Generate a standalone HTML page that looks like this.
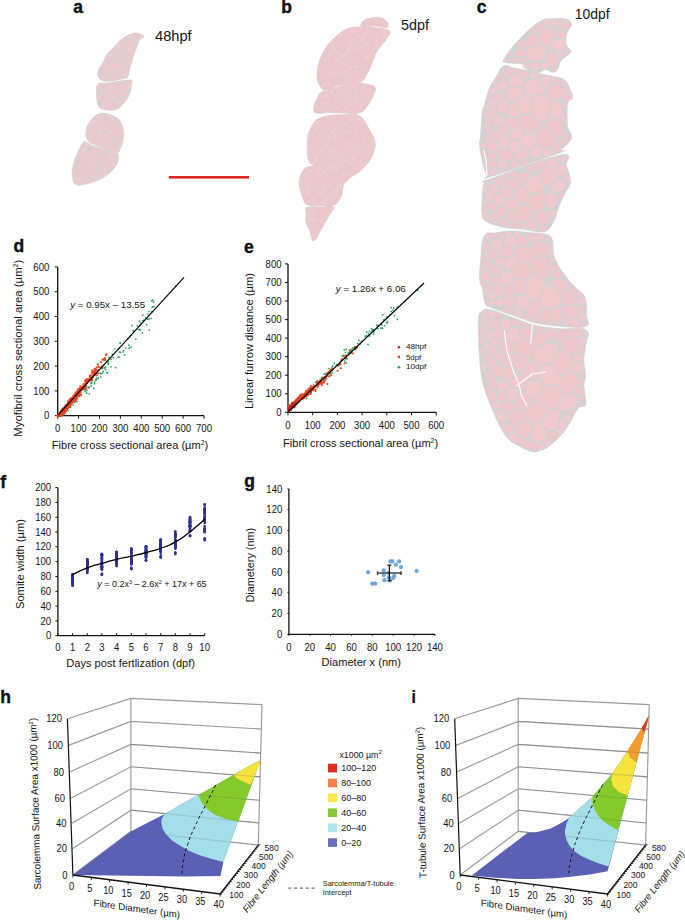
<!DOCTYPE html><html><head><meta charset="utf-8"><style>html,body{margin:0;padding:0;background:#fff;}body{width:685px;height:921px;overflow:hidden;position:relative;font-family:"Liberation Sans", sans-serif;}svg{position:absolute;left:0;top:0;}svg text{font-family:"Liberation Sans", sans-serif;}</style></head><body>
<svg width="685" height="921" viewBox="0 0 685 921">
<path d="M144.0,36.0 C145.2,37.0 142.8,37.0 141.8,38.2 C140.8,39.4 140.3,38.9 138.8,42.0 C137.3,45.1 136.3,48.4 134.5,53.6 C132.7,58.8 131.3,63.3 130.0,68.0 C128.7,72.7 129.1,74.9 127.9,77.0 C126.7,79.1 128.0,77.5 124.0,78.4 C120.0,79.3 112.9,81.3 108.0,81.3 C103.1,81.3 101.4,80.5 99.4,78.4 C97.4,76.3 97.4,73.9 98.0,71.0 C98.6,68.1 100.6,67.0 102.3,63.8 C104.0,60.6 104.5,58.3 106.7,55.0 C108.9,51.7 110.8,50.4 113.5,47.5 C116.2,44.6 117.2,42.9 120.0,40.5 C122.8,38.1 124.3,37.0 127.5,35.5 C130.7,34.0 132.7,32.9 136.0,33.0 C139.3,33.1 142.8,35.0 144.0,36.0Z" fill="#d3d2d2" stroke="#d3d2d2" stroke-width="0.6"/>
<path d="M98.0,84.2 C100.3,82.2 101.6,83.6 108.0,82.8 C114.4,82.0 125.3,79.7 130.0,80.0 C134.7,80.3 131.5,81.6 131.5,84.2 C131.5,86.8 131.5,89.2 130.0,93.0 C128.5,96.8 126.9,99.8 124.0,103.2 C121.1,106.6 119.5,108.5 115.5,109.8 C111.5,111.1 107.3,110.5 103.8,109.5 C100.3,108.5 99.5,108.0 98.0,104.7 C96.5,101.4 96.5,97.1 96.5,93.0 C96.5,88.9 95.7,86.2 98.0,84.2Z" fill="#d3d2d2" stroke="#d3d2d2" stroke-width="0.6"/>
<path d="M98.7,113.9 C102.2,112.6 104.1,112.9 108.0,113.9 C111.9,114.9 115.4,116.2 118.4,119.0 C121.4,121.8 121.8,123.9 122.8,127.7 C123.8,131.5 123.9,133.9 123.5,138.0 C123.1,142.1 122.2,145.1 120.6,148.0 C119.0,150.9 120.6,153.1 115.5,152.5 C110.4,151.9 100.7,147.6 95.0,145.0 C89.3,142.4 88.7,142.6 87.0,139.4 C85.3,136.2 85.6,133.0 86.3,129.2 C87.0,125.4 88.2,123.5 90.7,120.4 C93.2,117.3 95.2,115.2 98.7,113.9Z" fill="#d3d2d2" stroke="#d3d2d2" stroke-width="0.6"/>
<path d="M84.8,141.6 C87.1,142.0 87.5,143.7 93.6,146.0 C99.7,148.3 110.5,150.8 115.5,153.0 C120.5,155.2 118.1,154.8 118.4,157.0 C118.7,159.2 118.8,160.8 117.0,164.0 C115.2,167.2 113.1,169.9 109.6,173.0 C106.1,176.1 104.1,177.4 99.4,179.6 C94.7,181.8 91.0,183.0 86.3,184.0 C81.6,185.0 78.8,186.0 76.0,184.7 C73.2,183.4 73.0,181.2 72.4,177.4 C71.8,173.6 72.0,170.7 73.0,165.7 C74.0,160.7 75.7,157.0 77.5,152.6 C79.3,148.2 80.5,146.0 82.0,143.8 C83.5,141.6 82.5,141.2 84.8,141.6Z" fill="#d3d2d2" stroke="#d3d2d2" stroke-width="0.6"/>
<path d="M99.4,74.5L98.4,74.6L98.2,75.2L98.9,77.1L99.6,77.5L100.3,77.0L100.3,76.6L100.1,75.2ZM102.4,78.7L101.8,79.0L101.8,79.7L103.5,80.5L104.2,80.3L104.3,79.6L103.9,78.8ZM99.7,68.2L99.6,69.0L100.3,69.5L100.7,69.4L102.6,68.5L102.8,67.6L102.1,66.7L101.2,66.4ZM102.9,69.6L98.5,71.4L98.4,72.6L100.5,74.1L103.6,73.4L104.1,73.1L104.5,72.2L104.4,71.0ZM105.8,75.4L106.6,76.0L107.8,76.2L108.7,75.9L109.6,73.4L108.4,71.6L106.2,71.7L105.3,72.4L105.1,73.9ZM102.3,64.6L102.4,65.8L103.7,66.6L106.2,64.9L106.3,64.0L105.2,61.6L104.0,61.5ZM110.3,51.3L110.0,52.2L110.2,52.6L112.3,53.5L114.2,52.2L114.5,51.3L114.3,50.1L112.6,49.3ZM110.1,60.2L109.0,59.7L108.4,59.8L106.9,60.8L106.4,61.7L107.5,64.6L109.0,65.2L109.8,65.3L110.4,64.9L111.6,63.0ZM105.1,78.0L104.9,78.9L105.8,80.7L107.5,80.9L108.3,80.5L108.9,78.2L108.5,77.2L106.0,76.9ZM109.7,75.9L109.9,77.0L112.7,77.4L114.0,75.4L114.1,74.5L113.2,73.9L110.6,74.0ZM111.1,58.4L110.7,59.4L112.2,61.9L113.3,62.4L115.0,61.9L115.4,59.2L115.3,58.5L114.8,58.1L112.9,57.3ZM113.8,77.5L113.7,78.5L114.1,79.4L114.8,80.0L117.6,79.5L118.2,79.1L118.4,78.5L118.3,77.3L117.9,76.9L115.5,75.6L114.6,76.1ZM110.6,66.8L111.3,67.5L115.4,69.0L116.3,68.2L117.4,64.6L115.4,62.9L113.0,63.3L112.3,63.7L110.8,65.6ZM118.9,42.0L118.7,43.0L119.4,43.6L122.2,44.0L122.8,43.2L121.5,40.6L120.4,40.7ZM115.3,51.3L115.8,52.1L117.5,53.0L118.9,52.8L119.6,52.1L119.2,49.5L117.5,48.8L116.6,49.0L115.7,49.7L115.3,50.1ZM120.3,49.3L120.7,52.1L121.8,52.3L123.3,51.8L124.0,51.1L124.2,49.9L122.4,47.9L121.5,48.1ZM117.1,56.3L117.5,57.3L120.6,57.5L121.0,57.2L121.2,56.3L120.4,53.7L119.4,53.5L117.8,54.0ZM121.3,58.7L121.5,61.1L122.1,61.5L124.3,62.0L125.1,61.4L126.1,59.6L126.1,58.6L125.2,58.0L121.9,57.7ZM122.7,46.2L123.0,47.1L124.5,48.7L125.7,49.1L126.8,48.6L127.1,48.1L127.6,45.8L125.9,43.9L124.9,43.7L124.1,43.8L123.1,44.5ZM126.9,58.2L127.6,58.9L129.6,59.2L132.6,57.9L132.9,56.2L130.5,54.3L129.2,54.3L127.5,55.7L126.9,57.3ZM128.1,65.5L127.5,66.0L127.6,68.0L128.0,68.7L128.8,69.0L129.5,68.4L130.1,65.9L129.5,65.3ZM136.2,36.4L136.7,37.5L138.7,37.4L140.0,35.5L140.0,34.4L138.4,33.8L137.3,33.7L136.6,34.4ZM99.4,95.9L97.2,97.0L97.0,97.7L97.3,100.5L97.6,101.2L99.1,101.6L101.4,99.8L101.8,98.5L101.4,96.8L100.5,96.0ZM105.1,83.4L104.3,83.9L104.2,84.4L105.1,86.1L105.8,86.5L107.1,86.2L108.4,84.3L107.9,83.4ZM99.5,103.4L98.5,103.1L98.1,103.7L98.9,105.7L99.6,106.1L100.2,105.8L100.4,105.2ZM100.3,89.2L99.2,89.6L98.9,90.7L99.9,94.4L100.2,94.9L101.4,95.3L103.2,94.0L103.7,93.1L102.3,89.8ZM103.7,94.6L102.2,96.0L102.2,96.7L102.7,98.7L103.2,99.4L104.5,100.2L105.8,100.2L107.0,98.0L106.8,96.7L104.9,94.5ZM101.0,83.5L100.1,84.0L100.0,84.6L100.0,87.9L100.8,88.5L102.5,88.8L104.0,87.4L104.3,86.5L102.4,83.6ZM111.1,82.7L110.4,83.3L110.6,84.2L112.3,85.0L113.3,84.8L114.3,83.5L114.1,82.7L113.7,82.4ZM110.4,90.3L109.8,91.4L110.0,92.0L112.1,94.2L113.1,94.0L114.8,91.1L114.8,90.1L113.3,89.0ZM115.5,101.1L113.1,101.1L112.4,102.1L112.6,105.5L113.6,106.1L115.8,106.1L117.0,104.7L116.6,102.0L116.2,101.4ZM118.5,81.6L117.7,82.2L117.8,82.8L119.4,84.0L121.6,82.5L121.7,82.0L121.1,81.3ZM116.9,107.8L117.6,108.4L118.1,108.2L120.0,106.9L120.2,106.0L119.5,105.5L117.8,105.4L116.6,106.8ZM117.6,96.6L117.3,99.5L117.9,100.1L120.2,99.7L121.0,99.0L121.1,98.0L119.5,96.2L118.3,96.0ZM129.0,80.8L129.4,81.8L131.0,82.6L131.6,82.2L132.0,81.2L131.5,80.6L129.6,80.4ZM108.3,127.9L109.0,128.2L109.7,128.2L111.0,126.6L111.1,125.7L110.5,124.4L107.7,123.7L106.6,125.4ZM110.3,135.5L110.8,136.3L111.7,136.9L113.0,136.9L114.9,135.4L114.6,132.6L113.7,132.1L112.1,132.2L110.5,134.3ZM111.7,130.8L112.6,131.3L113.6,131.3L114.5,130.9L115.2,128.2L114.8,127.1L112.5,126.7L111.5,127.2L110.6,128.8ZM115.8,134.9L116.3,135.7L117.6,136.4L118.6,136.4L119.1,135.6L119.2,132.9L118.3,132.4L116.1,132.5L115.6,133.4ZM114.1,141.3L113.1,141.8L113.1,144.7L113.9,145.3L116.0,145.6L116.9,145.4L117.7,144.1L117.5,142.0L116.6,141.4ZM111.8,125.2L112.7,125.9L115.4,126.0L115.9,124.9L115.4,122.7L113.0,122.2L111.5,124.1ZM76.3,170.5L77.3,171.2L78.5,170.7L79.2,167.5L78.7,166.3L76.3,164.9L75.3,165.1L74.7,166.1ZM76.1,171.9L72.9,172.3L72.5,173.1L72.6,175.0L73.5,175.5L75.5,175.4L76.3,174.9L76.6,172.9ZM78.7,183.6L78.8,184.3L79.9,184.9L83.0,184.1L83.7,181.3L83.4,180.3L82.0,179.7L80.8,180.1L79.0,182.1ZM78.0,159.0L78.1,160.1L79.0,160.6L81.5,160.7L82.2,160.5L82.6,160.0L81.9,156.8L80.3,156.1L79.3,156.3ZM77.6,153.3L77.7,154.1L78.5,154.3L79.0,153.9L79.3,152.9L78.4,152.3ZM78.2,161.5L77.2,163.7L77.7,164.6L79.4,165.8L80.4,166.0L81.8,165.3L82.4,162.2L81.3,161.5L78.9,161.4ZM77.7,172.2L77.4,175.2L77.9,175.7L79.5,176.5L80.6,176.5L82.4,174.0L82.5,172.9L81.7,172.2L78.6,171.6ZM80.7,166.7L80.0,167.5L79.6,170.3L80.4,171.0L82.4,171.3L83.1,170.4L83.3,167.3L82.2,166.4ZM84.1,168.3L83.9,171.1L84.7,171.7L87.0,170.9L87.6,168.4L87.3,167.5L86.4,167.2L84.6,167.5ZM88.5,158.4L84.9,160.4L84.9,161.5L87.3,162.9L88.2,162.5L89.9,159.8L89.4,158.8ZM86.5,152.7L85.9,153.8L86.2,154.4L88.0,156.4L89.2,156.7L91.1,153.9L90.6,152.6L88.3,151.8ZM89.8,167.0L88.7,167.4L88.5,167.9L88.1,171.0L89.8,172.2L91.9,172.0L92.8,171.3L92.8,170.2L91.2,167.3ZM94.0,176.5L92.0,178.5L92.0,179.4L93.3,181.3L94.2,181.4L95.4,180.7L95.8,177.4L95.2,176.4ZM93.3,169.5L94.1,170.1L95.0,170.0L95.7,169.5L97.4,166.6L96.9,165.6L94.2,165.1L93.2,165.5L92.3,166.9ZM93.4,171.7L93.4,172.8L94.5,174.9L95.9,175.8L96.9,175.8L98.4,173.8L98.5,172.7L96.1,170.9L94.3,171.0ZM106.3,150.3L105.6,150.5L105.3,151.2L105.5,152.5L106.1,152.9L107.8,152.3L108.3,151.7L108.1,151.0ZM100.0,164.7L99.3,165.8L99.5,166.4L101.5,168.6L104.6,167.8L105.1,167.4L105.3,166.6L104.6,165.6L101.1,164.5ZM97.1,170.7L99.4,172.0L100.3,171.7L100.8,169.4L99.5,167.6L98.6,167.2L97.8,167.7L96.7,169.8ZM97.2,152.7L98.1,153.4L99.7,152.6L100.1,149.4L99.8,148.5L99.4,148.3L98.3,148.0L97.4,148.1L96.5,149.4L96.4,150.3ZM101.0,173.1L100.0,173.1L99.6,173.4L98.4,175.6L98.8,176.5L101.2,178.1L102.5,177.5L102.7,176.6L101.9,173.7ZM100.0,157.3L100.7,158.0L101.9,158.4L103.0,158.2L104.2,155.7L104.0,154.4L100.7,153.5L99.7,153.7L99.1,154.5ZM104.2,160.2L103.0,160.2L102.6,160.6L101.6,163.2L102.3,164.1L104.9,164.8L105.7,164.1L105.5,161.5ZM107.1,165.0L106.2,165.6L106.1,166.2L106.1,167.3L106.8,168.5L107.5,168.9L109.6,169.2L110.6,168.8L111.3,166.2L110.7,165.1L109.6,164.6ZM104.0,158.1L104.1,159.0L105.9,160.3L108.3,159.4L108.9,158.5L108.8,157.6L108.4,157.2L105.7,155.7L104.7,156.4ZM111.7,168.2L111.9,169.0L112.7,169.2L113.1,168.9L114.3,167.2L114.1,166.5L113.4,166.3L112.3,166.6Z" fill="#efc6ca"/>
<path d="M104.9,59.1L105.0,60.0L105.8,60.4L108.3,58.8L108.4,58.0L107.4,56.4L106.5,56.3L106.1,56.7ZM101.2,77.1L102.1,77.8L104.0,77.8L105.1,76.3L104.6,74.8L103.5,74.2L101.3,75.0L101.0,75.8ZM109.5,70.4L109.5,71.5L110.5,72.9L113.6,73.2L114.3,73.0L114.7,72.4L115.3,70.6L114.5,69.7L111.1,68.5L110.1,69.1ZM115.3,73.1L115.4,74.2L115.8,74.6L118.8,76.2L120.5,75.2L121.1,73.2L120.8,72.1L120.4,71.8L116.9,70.7L116.0,71.5ZM114.9,57.2L115.9,57.0L116.8,54.4L116.3,53.4L115.0,52.7L113.3,53.9L112.9,54.9L113.3,56.4ZM117.4,58.3L116.4,58.8L116.0,61.6L116.5,62.6L117.9,63.2L120.4,61.3L120.5,59.5L119.9,58.5ZM120.5,62.3L119.0,63.7L119.1,64.8L121.7,65.9L122.8,65.7L124.4,64.1L124.1,63.1L121.5,62.1ZM125.1,70.3L124.6,71.1L125.0,72.0L127.5,73.7L128.4,73.3L128.9,71.0L128.8,70.3L128.4,69.8L127.2,69.3ZM123.2,66.4L122.9,67.3L123.2,68.9L123.7,69.7L124.6,69.6L126.6,68.4L126.7,66.1L125.9,65.1L125.0,65.0ZM121.9,56.1L122.9,56.9L125.6,57.1L126.3,56.5L126.6,55.2L124.5,52.9L123.4,52.6L122.2,53.0L121.5,53.8ZM125.8,36.9L122.4,39.2L122.4,40.3L123.4,42.3L123.9,42.8L124.6,42.9L125.7,42.3L127.6,38.8L126.8,37.4ZM128.1,44.9L128.9,45.2L130.6,45.1L131.9,43.3L131.7,41.5L131.2,40.8L129.1,39.5L128.0,40.1L126.5,42.8L126.9,43.8ZM130.3,59.8L130.0,60.7L130.5,61.7L131.1,61.8L131.6,61.3L131.9,60.0L131.3,59.5ZM132.3,54.5L133.3,54.7L133.9,54.0L134.9,51.0L134.6,49.9L133.1,49.6L130.7,51.8L130.4,52.4L130.9,53.6ZM133.0,33.7L132.4,34.2L132.7,35.3L134.6,36.0L135.4,35.8L135.8,34.4L135.5,33.5ZM131.4,40.0L132.5,40.0L134.9,38.7L135.3,38.3L135.2,37.2L132.9,36.3L131.9,36.5L130.2,38.4L130.3,39.0ZM98.7,92.9L97.7,92.2L97.0,92.7L96.9,94.7L97.3,95.5L98.5,95.4L99.1,94.8ZM96.9,86.8L96.9,88.7L97.6,89.1L99.0,88.4L99.1,85.8L98.7,85.0L97.8,85.0L97.5,85.4ZM100.5,101.6L100.0,102.5L101.5,105.0L103.1,105.1L105.3,103.6L105.4,101.9L103.2,100.3L102.5,100.2L101.9,100.4ZM100.4,106.6L100.2,107.2L100.5,107.7L101.8,108.4L102.5,108.3L102.7,107.7L102.3,106.2L101.3,106.0ZM107.1,99.7L107.1,100.8L108.1,101.3L111.1,101.0L112.0,100.2L111.5,98.1L111.3,97.7L110.4,97.4L108.1,97.8ZM103.8,105.6L103.4,106.6L103.9,108.9L105.3,109.5L106.0,109.4L107.4,107.3L107.3,106.1L105.9,104.8L105.0,104.9ZM112.8,106.8L111.9,107.3L111.8,107.8L111.9,109.1L112.4,109.9L113.9,109.8L116.0,109.1L116.2,108.2L115.6,107.2ZM113.6,87.6L114.1,88.4L115.5,89.5L116.3,89.7L117.8,89.5L119.4,87.5L119.1,85.4L118.7,84.6L117.1,83.4L115.9,83.3L113.5,85.9ZM116.6,95.6L118.3,95.1L119.1,93.5L118.2,91.1L117.1,90.5L116.0,90.7L115.6,91.1L114.4,94.0L115.1,95.0ZM119.6,94.5L119.9,95.5L121.8,97.2L123.3,96.6L123.9,94.7L123.9,94.1L123.0,93.5L120.2,93.6ZM125.6,98.7L123.7,97.6L122.5,98.0L121.7,99.4L121.8,100.3L123.5,102.2L124.6,101.9L126.0,99.6ZM128.2,93.6L129.2,93.7L129.6,92.8L129.4,92.0L129.1,91.8L128.3,92.1L127.9,92.9ZM127.2,93.8L125.5,93.5L124.9,94.1L124.4,96.7L126.5,98.2L127.4,97.6L128.4,95.3ZM124.3,80.7L123.5,81.4L123.5,81.9L125.7,83.8L126.6,83.5L128.2,81.8L128.1,81.2L127.6,80.5ZM89.2,134.1L86.7,134.0L86.2,134.9L86.7,137.7L87.5,138.4L89.7,137.4L90.0,135.6ZM86.2,132.1L86.6,132.9L88.4,133.1L88.8,133.0L89.3,132.3L88.2,129.9L87.5,129.4L86.7,129.7ZM87.6,126.2L87.7,127.0L88.4,127.3L90.3,126.1L90.3,125.4L89.6,124.0L89.2,123.9L88.4,124.3ZM92.3,119.2L92.1,120.3L92.5,120.8L95.7,122.2L96.7,121.5L96.6,119.2L94.5,117.9L93.8,117.8L93.2,118.1ZM88.3,139.1L87.9,139.9L88.5,140.9L89.6,142.0L90.5,142.0L90.9,141.2L90.6,138.8L90.0,138.4ZM91.9,142.6L92.5,143.4L93.9,144.1L94.9,144.0L95.2,143.7L95.5,142.6L94.5,139.6L92.9,139.2L91.8,139.7ZM93.8,129.5L96.4,129.9L96.9,129.5L97.3,128.5L95.7,125.9L94.9,125.4L93.1,126.1L92.4,127.0L93.1,128.9ZM90.7,137.0L91.1,138.0L91.7,138.3L94.8,138.6L96.8,136.8L96.8,135.0L96.0,134.3L95.5,134.3L91.6,135.3L91.0,135.7ZM98.0,114.6L95.2,116.5L95.2,117.3L97.0,118.2L99.0,116.6L99.2,115.4L98.8,114.7ZM100.9,113.7L100.1,114.4L100.2,116.2L103.0,118.4L104.2,118.5L104.8,117.4L104.5,114.0L103.6,113.5ZM100.8,139.6L101.9,139.8L103.4,138.5L102.8,134.9L101.9,134.4L98.4,134.5L97.7,135.5L97.8,136.8ZM101.8,122.3L101.7,123.4L102.5,125.1L103.5,125.4L105.5,124.9L106.7,123.3L106.9,122.4L106.3,119.7L104.9,119.2L103.6,119.6ZM108.2,146.2L107.2,146.6L106.6,149.0L107.3,149.8L110.0,150.5L111.5,149.1L111.4,147.0L110.5,146.5ZM107.7,122.0L108.5,122.9L110.7,123.3L112.1,121.6L110.9,119.1L109.8,118.7L107.6,119.5L107.4,120.4ZM111.0,145.8L112.0,145.3L112.0,142.6L111.1,142.1L108.5,142.3L107.8,144.2L108.2,145.2ZM113.4,146.0L112.4,146.4L112.5,148.8L114.7,149.8L115.6,149.6L116.2,148.8L116.1,146.9L115.4,146.3ZM115.5,136.3L113.1,138.1L113.0,138.7L113.7,140.3L117.0,140.6L118.0,140.2L118.3,138.4L117.7,137.3ZM112.8,120.8L113.6,121.4L115.7,121.6L117.3,120.0L117.5,118.9L115.3,117.2L114.1,117.2L112.2,118.6L112.2,119.6ZM116.7,121.9L116.5,122.8L117.1,125.6L118.3,126.1L119.1,126.0L121.1,124.7L121.2,124.2L120.9,123.1L119.8,121.2L118.9,120.4L117.7,120.7ZM117.0,148.4L117.6,149.4L118.5,149.7L119.5,149.5L120.4,147.5L120.4,146.6L118.8,145.6L117.8,145.7L117.1,146.4ZM122.0,137.1L119.6,137.4L119.1,138.1L119.0,139.3L119.3,140.2L121.7,140.7L122.6,140.4L123.0,137.6ZM122.3,131.8L120.6,132.0L120.1,132.8L120.0,135.8L121.0,136.4L122.8,136.1L123.3,135.3L123.1,132.3ZM121.2,125.9L119.7,126.7L119.5,127.6L120.5,130.4L121.5,131.0L122.5,130.9L122.9,129.8L122.1,126.6ZM74.6,168.3L73.9,167.8L73.1,168.1L72.6,170.3L73.2,171.2L74.6,171.1L75.3,170.4ZM73.6,176.3L72.8,176.8L73.0,178.7L73.3,179.4L74.1,179.6L75.1,179.2L75.8,176.9L75.3,176.3ZM74.3,180.4L73.7,181.1L73.7,181.6L74.6,183.2L76.2,184.4L77.4,184.4L77.9,183.6L77.6,182.1L75.4,180.2ZM74.0,163.2L74.3,164.1L74.8,164.3L76.2,163.6L77.3,160.9L76.7,159.9L75.7,159.6L75.2,159.8ZM79.8,153.9L80.1,155.0L82.3,155.7L84.2,154.1L84.6,153.1L82.7,150.9L81.6,150.7L80.7,151.4ZM88.5,178.4L87.4,178.7L87.2,179.3L88.8,182.6L89.7,182.8L91.9,181.9L91.9,180.7L91.0,179.3L90.4,178.8ZM90.6,159.2L92.6,160.0L94.5,159.0L94.7,156.1L94.3,155.2L92.7,154.7L92.0,154.7L91.4,155.1L89.9,157.8ZM88.3,148.0L88.7,150.9L90.1,151.5L90.7,151.4L91.7,150.3L91.8,149.5L90.9,146.7L89.9,146.5ZM96.5,179.1L96.8,179.9L97.7,180.0L99.5,179.0L99.6,178.2L97.9,176.8L97.1,176.7L96.6,177.4ZM96.1,154.8L95.6,155.7L95.5,158.3L95.6,158.9L97.0,159.4L99.0,158.1L99.1,157.2L98.0,154.5L97.4,154.3ZM93.3,161.6L94.0,164.1L94.6,164.4L96.7,164.6L97.7,164.2L97.8,163.1L96.7,160.4L95.1,159.8L93.8,160.4L93.4,160.9ZM98.7,163.1L99.6,163.8L100.6,163.2L101.8,160.4L101.7,159.3L99.9,158.7L97.9,160.0L97.8,160.9ZM100.9,150.0L100.8,152.2L101.5,152.8L103.3,153.3L104.2,153.1L104.6,152.2L104.3,149.9L101.6,149.1ZM116.5,156.4L116.6,157.0L117.1,157.2L117.9,157.0L118.2,155.5L118.0,154.7L117.5,154.5L116.9,154.7Z" fill="#f0c8cc"/>
<path d="M105.0,70.5L106.1,70.9L108.3,70.5L109.8,68.0L109.9,67.1L109.5,66.4L107.2,65.5L104.1,67.4L103.8,67.7L103.6,68.7ZM109.4,79.7L109.6,80.5L110.3,80.8L112.6,80.5L113.3,79.8L112.7,78.5L110.5,78.1L109.8,78.3ZM108.0,53.9L107.9,55.0L109.4,57.9L110.6,57.9L112.2,56.5L112.1,55.0L111.5,54.2L109.0,53.2ZM115.5,46.1L113.6,48.2L114.0,49.0L115.1,49.1L116.5,48.0L116.3,46.3ZM118.1,66.1L117.0,69.1L117.8,70.1L120.9,71.2L121.5,71.2L122.5,70.5L121.9,67.0L119.3,65.9ZM121.8,76.0L121.0,75.9L119.6,77.0L119.2,77.9L119.6,78.7L120.3,78.8L123.0,78.1L123.1,77.1ZM123.9,72.2L122.7,72.1L122.2,72.4L121.8,74.8L125.3,77.5L126.9,77.6L127.8,76.3L127.8,75.2ZM118.4,44.3L117.3,44.8L117.3,47.2L118.0,48.1L119.6,48.5L121.5,46.9L121.9,46.2L121.9,45.4L121.1,44.7ZM130.3,34.7L127.5,36.1L127.6,37.1L128.5,38.0L129.0,38.1L131.2,36.1L131.4,35.2L130.7,34.6ZM125.4,63.4L125.9,64.2L127.1,64.9L129.3,64.4L130.1,63.5L128.8,60.2L127.4,59.8L126.6,60.4L125.5,62.5ZM124.8,51.2L125.1,52.3L127.1,54.2L128.0,54.1L129.1,53.4L129.6,52.7L129.3,51.6L127.1,49.6L125.2,50.1ZM129.4,50.6L130.4,50.8L130.8,50.6L131.8,49.6L132.1,48.8L130.9,46.5L130.0,46.0L128.8,46.2L127.9,48.3L128.1,49.3ZM132.8,48.2L133.7,48.8L134.8,48.9L135.7,48.5L136.7,46.0L136.4,44.8L133.3,44.0L132.2,44.4L131.5,45.6ZM139.9,37.2L140.1,38.2L140.9,38.4L143.1,36.8L143.1,36.0L142.0,35.2L141.3,35.2ZM133.0,40.7L132.5,41.7L133.0,42.9L135.5,43.6L136.3,43.3L136.6,42.4L136.1,39.9L135.2,39.5ZM137.7,38.4L136.9,38.9L136.9,39.4L137.3,41.3L138.1,41.6L138.8,41.2L139.5,39.9L139.6,39.1L139.2,38.5ZM107.6,96.3L108.6,96.8L110.6,96.5L111.5,95.8L111.3,94.7L108.9,92.2L107.9,92.2L106.1,93.5L106.3,94.7ZM104.2,92.0L105.3,92.7L108.2,91.0L108.2,89.9L106.7,87.5L105.3,87.4L103.7,88.9L103.4,90.1ZM107.6,108.7L107.6,109.5L108.2,110.0L110.7,110.0L111.1,109.2L110.9,107.6L110.2,107.2L108.6,107.2ZM106.2,103.2L106.5,104.2L108.2,105.9L110.4,106.4L111.5,105.9L111.7,103.0L111.0,102.0L107.3,102.1L106.4,102.7ZM108.6,89.1L109.6,89.7L112.2,88.4L112.8,87.3L112.5,86.1L110.0,85.0L109.3,85.0L108.8,85.3L107.7,87.0ZM112.1,96.5L112.1,97.3L113.1,99.9L115.2,100.3L116.2,99.8L116.6,97.3L116.3,96.4L113.3,95.3L112.7,95.5ZM119.5,92.0L120.6,92.7L123.7,92.5L124.1,91.9L124.2,91.2L123.4,88.8L120.8,88.2L119.7,88.6L118.8,90.1ZM117.4,102.3L118.1,104.3L118.7,104.6L121.4,104.8L122.4,104.5L122.9,103.3L121.4,101.0L120.2,100.5L117.8,101.2ZM120.0,84.9L120.5,87.1L121.1,87.4L123.8,87.8L125.5,86.3L125.6,85.4L125.2,84.5L122.9,83.0L122.2,83.2ZM124.5,89.2L125.5,92.3L126.1,92.6L127.3,92.1L129.0,89.8L129.0,88.5L126.2,87.2L124.9,88.0ZM129.5,87.6L130.5,87.5L130.9,87.2L131.1,84.3L130.5,83.3L128.8,82.7L126.8,84.4L126.4,85.6L127.1,86.6ZM89.5,130.6L90.4,131.1L92.3,129.5L91.3,127.2L90.3,127.1L88.7,128.3L88.7,129.1ZM90.1,133.2L90.5,134.3L91.5,134.5L96.1,133.2L96.4,132.7L96.4,131.7L95.5,130.8L93.1,130.3L90.5,132.2ZM90.2,121.7L90.1,122.7L91.4,125.4L92.4,125.5L94.9,124.2L94.9,123.1L94.5,122.7L91.2,121.1ZM95.9,124.1L96.1,125.0L98.2,127.8L100.8,127.2L101.6,126.4L101.7,125.4L101.0,123.7L100.2,122.9L97.3,122.3L96.4,122.9ZM96.8,143.3L96.1,144.0L96.3,145.0L99.7,146.5L100.6,145.8L101.4,143.9L101.4,143.1L100.6,142.4ZM95.9,138.8L95.6,139.9L96.3,142.1L97.4,142.3L100.1,141.4L100.3,140.4L98.0,138.2L97.0,138.0ZM97.3,132.5L97.9,133.4L98.5,133.5L102.4,133.6L103.4,133.1L103.7,132.4L101.8,128.7L101.0,128.1L98.6,128.7L98.0,129.3L97.1,131.2ZM97.6,119.1L97.8,121.3L98.4,121.6L100.8,122.1L102.3,120.1L102.3,119.1L100.5,117.5L99.5,117.4ZM111.7,150.2L111.5,150.8L112.0,151.3L114.1,151.8L114.9,151.3L114.4,150.5L112.5,149.9ZM104.1,139.3L101.8,141.3L101.9,142.0L102.3,143.1L105.4,144.7L106.1,144.8L106.7,144.5L107.5,141.8L106.1,139.7ZM103.1,126.2L102.3,126.9L102.3,127.9L103.8,130.6L104.6,131.1L105.1,131.1L107.1,129.3L107.4,128.3L105.6,126.0ZM106.8,114.0L105.9,114.2L105.5,115.1L105.8,118.3L106.8,118.8L108.8,117.8L109.1,115.4L108.7,114.6ZM101.4,147.3L105.1,148.7L105.9,148.0L106.2,146.9L106.0,145.9L103.2,144.5L102.1,144.6L101.3,146.2ZM108.1,129.4L106.1,131.6L106.3,132.6L109.3,133.8L110.2,133.3L111.1,131.7L110.0,129.6L109.2,129.1ZM105.4,133.2L104.4,133.2L104.0,133.7L103.7,134.6L104.5,138.2L106.2,138.7L109.0,136.6L109.4,135.5L108.7,134.5ZM107.7,138.7L107.3,139.6L108.3,141.2L111.5,141.3L112.5,140.5L112.1,138.5L110.7,137.2L110.1,137.0L109.4,137.3ZM109.8,117.2L110.1,117.8L111.2,118.1L112.7,117.2L113.0,116.5L112.5,115.8L110.5,115.1L109.9,115.6ZM115.7,151.4L116.4,152.2L118.0,152.1L118.8,151.7L118.9,151.0L118.5,150.5L116.6,150.0L115.8,150.6ZM119.6,141.2L118.6,141.6L118.5,144.0L119.1,144.9L120.7,145.5L121.6,144.9L122.2,142.2L121.5,141.5ZM115.6,130.2L116.0,131.3L116.6,131.5L118.6,131.6L119.5,131.1L119.6,130.1L118.4,127.1L117.4,126.7L116.4,127.1ZM78.0,176.6L76.9,176.8L76.2,179.5L77.5,180.9L78.6,181.1L80.3,179.4L80.4,178.4L79.9,177.6ZM75.8,158.2L76.8,159.0L77.4,158.5L78.3,156.1L78.2,155.3L77.9,155.1L77.0,155.2L75.9,157.5ZM80.3,150.0L81.7,149.8L82.2,149.3L82.8,147.1L82.0,146.3L81.5,146.2L80.7,146.6L79.7,148.7L79.7,149.6ZM83.1,149.3L83.3,150.4L85.3,152.2L86.0,152.0L87.6,151.0L87.5,148.9L87.2,148.3L86.6,148.0L84.1,147.7L83.4,148.3ZM82.7,174.9L81.1,177.5L81.5,178.6L83.9,179.5L85.7,179.1L86.4,178.0L84.7,174.9L83.7,174.4ZM84.8,162.5L83.8,162.4L83.2,163.2L82.8,165.0L83.2,166.0L84.4,166.6L87.3,166.1L87.7,165.0L87.4,164.1ZM84.3,182.8L84.6,183.6L84.9,183.8L87.4,183.2L87.6,182.2L86.4,180.1L85.6,180.0L84.8,180.4ZM82.1,144.5L82.3,145.5L83.4,145.8L84.9,143.1L84.9,142.4L84.3,141.9L83.4,142.1ZM85.6,172.4L84.9,173.4L85.0,174.0L86.9,176.7L88.1,176.6L89.3,173.9L89.2,172.9L87.4,171.9ZM83.3,158.7L83.9,159.4L84.9,159.4L86.8,158.3L87.4,157.2L85.8,155.2L84.8,154.9L83.0,156.5ZM84.6,145.4L84.6,146.4L84.9,146.8L87.6,147.2L89.1,146.0L89.4,145.1L88.9,144.3L86.6,143.0L85.6,143.6ZM96.0,147.4L92.8,146.3L92.1,146.9L92.7,149.2L93.4,149.5L95.5,149.3L96.1,148.5ZM88.3,163.9L88.9,165.9L90.8,166.3L91.8,165.9L92.7,164.9L92.9,164.0L92.2,161.0L90.8,160.6L90.2,161.0ZM93.3,176.1L93.7,175.2L92.9,173.5L92.2,172.9L91.7,172.9L90.5,173.3L90.2,173.7L89.1,177.0L89.9,177.9L90.9,178.0ZM94.7,154.4L95.9,154.0L96.4,153.2L95.8,151.0L95.4,150.4L94.7,150.2L92.7,150.5L91.5,152.2L91.8,153.2L92.5,153.8ZM103.3,175.8L104.3,176.5L106.3,175.2L106.6,174.5L105.9,173.3L104.9,172.9L103.2,173.6L103.0,174.4ZM101.5,170.2L101.3,172.1L102.4,172.8L105.0,172.1L105.6,171.5L106.2,169.3L105.5,168.5L102.2,169.4ZM106.5,163.2L107.1,164.0L109.6,163.7L110.4,163.1L110.8,161.5L109.7,160.3L108.6,160.1L106.5,161.2ZM107.1,153.4L106.4,154.3L106.5,154.9L108.7,156.4L109.9,156.3L111.2,155.2L111.3,153.3L110.8,152.4L109.8,152.3ZM106.9,173.3L107.9,173.7L109.3,172.7L110.7,171.2L110.4,170.2L107.9,169.8L107.1,170.1L106.3,172.2ZM113.4,152.6L112.5,152.7L112.2,153.1L112.2,155.2L114.2,156.7L115.1,156.8L115.7,156.1L116.1,154.1L115.5,153.5ZM109.7,158.8L110.0,159.6L111.1,160.5L112.1,160.8L113.1,160.4L114.1,158.1L113.6,157.3L111.7,156.2L109.8,157.5ZM111.7,165.1L112.8,165.6L115.4,165.2L115.9,164.9L116.2,163.8L113.8,161.6L113.4,161.4L112.3,161.5L111.5,162.2L111.1,163.5ZM116.3,157.8L115.3,157.9L115.0,158.3L114.2,160.6L115.9,162.3L116.8,162.5L117.6,161.8L118.2,159.2L117.5,158.3Z" fill="#f1cace"/>
<path d="M360.7,24.5 C361.0,23.0 362.3,21.1 365.5,19.6 C368.7,18.1 372.9,17.2 376.7,17.2 C380.5,17.2 382.4,18.1 384.7,19.6 C387.0,21.1 387.7,22.9 388.0,24.5 C388.3,26.1 389.0,27.4 386.4,27.7 C383.8,28.0 379.5,26.2 375.0,26.0 C370.5,25.8 366.8,27.2 363.9,26.9 C361.0,26.6 360.4,26.0 360.7,24.5Z" fill="#d8cacc" stroke="#d8cacc" stroke-width="0.6"/>
<path d="M351.0,27.7 C354.8,26.9 356.9,27.0 362.0,27.0 C367.1,27.0 371.2,26.9 376.7,27.7 C382.2,28.5 387.7,28.7 389.6,30.9 C391.5,33.1 389.0,34.7 386.4,38.9 C383.8,43.1 379.6,47.0 376.7,51.8 C373.8,56.6 373.9,58.5 372.0,63.0 C370.1,67.5 369.3,70.3 367.0,74.2 C364.7,78.1 364.2,80.4 360.7,82.3 C357.2,84.2 353.9,83.3 349.4,83.9 C344.9,84.5 342.5,84.2 338.0,85.5 C333.5,86.8 330.5,90.0 327.0,90.3 C323.5,90.6 322.4,89.6 320.5,87.0 C318.6,84.4 317.6,82.2 317.3,77.4 C317.0,72.6 317.3,68.8 318.9,63.0 C320.5,57.2 322.4,53.3 325.3,48.5 C328.2,43.7 329.9,42.4 333.4,38.9 C336.9,35.4 339.5,33.1 343.0,30.9 C346.5,28.7 347.2,28.5 351.0,27.7Z" fill="#d8cacc" stroke="#d8cacc" stroke-width="0.6"/>
<path d="M322.0,91.9 C326.1,89.6 331.6,88.9 338.0,87.0 C344.4,85.1 348.7,82.9 354.2,82.3 C359.7,81.7 361.3,83.0 365.5,83.9 C369.7,84.8 373.4,84.8 375.0,87.0 C376.6,89.2 375.1,91.2 373.5,95.1 C371.9,99.0 369.9,102.8 367.0,106.4 C364.1,110.0 363.8,111.7 359.0,113.0 C354.2,114.3 348.8,113.1 343.0,113.0 C337.2,112.9 335.5,112.5 330.0,112.5 C324.5,112.5 318.9,114.0 315.7,112.8 C312.5,111.6 313.7,109.3 314.0,106.4 C314.3,103.5 315.7,101.2 317.3,98.3 C318.9,95.4 317.9,94.2 322.0,91.9Z" fill="#d8cacc" stroke="#d8cacc" stroke-width="0.6"/>
<path d="M317.0,119.6 C320.2,117.5 322.8,116.6 328.2,115.6 C333.6,114.6 338.4,115.0 344.2,114.8 C350.0,114.6 353.1,113.8 357.0,114.8 C360.9,115.8 361.2,117.0 363.5,119.6 C365.8,122.2 366.1,123.5 368.3,127.7 C370.5,131.9 373.4,136.3 374.7,140.5 C376.0,144.7 375.6,144.6 374.7,148.5 C373.8,152.4 372.9,155.3 370.0,159.8 C367.1,164.3 364.2,167.5 360.3,171.0 C356.4,174.5 354.2,174.8 350.7,177.4 C347.2,180.0 344.5,184.5 342.6,183.9 C340.7,183.3 342.9,177.7 341.0,174.2 C339.1,170.7 337.8,168.0 333.0,166.2 C328.2,164.4 321.8,166.4 317.0,165.4 C312.2,164.4 310.9,164.5 309.0,161.4 C307.1,158.3 307.5,155.2 307.3,150.1 C307.1,145.0 307.1,140.5 308.0,135.7 C308.9,130.9 310.2,129.2 312.0,126.0 C313.8,122.8 313.8,121.7 317.0,119.6Z" fill="#d8cacc" stroke="#d8cacc" stroke-width="0.6"/>
<path d="M308.0,167.0 C310.9,166.2 313.2,165.2 318.5,165.4 C323.8,165.6 329.8,165.4 334.6,167.8 C339.4,170.2 341.0,172.9 342.6,177.4 C344.2,181.9 343.2,185.8 342.6,190.3 C342.0,194.8 341.3,197.0 339.4,200.0 C337.5,203.0 336.9,204.3 333.0,205.4 C329.1,206.5 325.1,205.5 320.0,205.4 C314.9,205.3 310.8,206.4 307.3,204.7 C303.8,203.0 304.1,200.9 302.5,196.7 C300.9,192.5 299.6,188.4 299.3,183.9 C299.0,179.4 300.0,177.1 300.9,174.2 C301.8,171.3 302.6,170.8 304.0,169.4 C305.4,168.0 305.1,167.8 308.0,167.0Z" fill="#d8cacc" stroke="#d8cacc" stroke-width="0.6"/>
<path d="M306.9,207.5 C309.8,206.2 315.5,207.0 320.9,206.9 C326.3,206.8 331.8,205.6 333.7,206.9 C335.6,208.2 332.1,210.0 330.2,213.4 C328.3,216.8 326.5,220.2 324.4,223.9 C322.3,227.6 321.3,229.0 319.7,232.0 C318.1,235.0 317.6,237.2 316.2,239.0 C314.8,240.8 313.6,241.3 312.7,240.8 C311.8,240.3 312.2,238.9 311.5,236.7 C310.8,234.5 310.4,232.7 309.2,229.7 C308.0,226.7 306.3,224.8 305.7,221.5 C305.1,218.2 306.1,216.2 306.3,213.4 C306.5,210.6 304.0,208.8 306.9,207.5Z" fill="#d8cacc" stroke="#d8cacc" stroke-width="0.6"/>
<path d="M363.9,21.8L363.0,21.5L362.6,21.8L361.4,23.4L360.9,25.1L361.6,26.1L363.4,26.6L364.2,26.3L364.8,23.0ZM374.2,22.4L370.5,22.6L370.1,23.4L370.2,25.1L370.8,25.9L374.7,25.8L375.5,25.3L375.5,24.4ZM370.5,21.2L371.4,21.9L374.2,21.6L374.7,20.9L374.8,20.2L374.0,17.9L373.2,17.7L370.3,18.4L370.0,19.2ZM383.8,26.5L384.0,27.2L384.4,27.4L386.3,27.5L387.8,27.0L388.1,26.1L387.6,25.1L384.7,25.2L384.0,25.7ZM381.2,23.1L378.6,25.2L378.8,26.1L382.3,27.0L383.1,26.8L383.6,25.4L383.5,24.6L382.1,23.0ZM318.7,76.2L317.8,76.2L317.5,76.8L317.8,79.7L318.5,80.4L320.0,79.6L320.3,78.1L320.1,77.5ZM321.3,70.9L321.9,71.5L324.5,72.4L326.5,70.5L326.4,69.6L323.7,65.5L322.8,65.5L322.4,65.8L320.8,68.3L320.7,69.2ZM319.6,68.4L320.5,68.0L322.2,64.9L321.2,63.5L320.0,63.0L319.6,63.0L319.0,63.7L318.1,67.2L318.4,68.1ZM318.7,80.9L318.2,82.0L318.9,84.0L319.9,85.5L320.8,85.5L322.5,82.9L322.5,82.0L320.3,80.2ZM324.4,57.7L323.5,58.3L321.6,62.4L321.8,63.5L323.2,64.8L324.1,64.7L327.5,62.4L327.0,58.7L326.6,58.1ZM322.1,54.9L322.0,55.5L322.3,56.1L323.4,57.0L325.9,57.3L326.5,56.6L327.6,52.3L327.5,51.5L325.5,50.4L324.6,50.4ZM320.6,79.2L321.0,80.0L322.9,81.6L323.7,81.8L325.1,81.6L325.9,80.7L326.0,77.2L325.4,76.4L324.2,76.2L321.3,77.6L320.9,77.9ZM326.4,81.1L326.7,81.9L327.3,82.3L331.7,81.8L332.5,81.2L333.0,79.6L330.5,76.8L327.3,77.2L326.5,78.1ZM324.2,88.4L323.8,89.3L324.0,89.7L324.9,90.1L328.2,89.9L329.3,89.3L329.5,88.9L329.2,88.1L327.1,86.6ZM328.0,63.0L324.7,65.0L324.7,66.0L326.9,69.6L327.9,70.0L328.6,69.8L330.3,64.9L330.1,64.0ZM327.8,51.0L329.7,50.9L330.2,50.7L330.5,49.9L330.3,45.6L329.7,44.8L328.9,44.4L328.1,44.8L327.5,45.6L325.3,49.2L325.9,50.1ZM331.5,71.3L334.9,70.9L335.6,70.3L335.0,65.2L334.6,64.6L333.4,63.8L331.1,64.3L329.4,69.3L329.5,70.1ZM333.7,43.3L334.0,44.5L336.8,47.2L337.2,47.4L338.2,47.2L339.3,44.1L339.0,43.0L336.6,41.0L335.9,40.8L334.9,41.0ZM332.0,56.7L332.2,57.6L333.5,59.1L334.3,59.4L337.1,57.8L337.5,57.0L337.2,56.2L333.9,53.5L333.0,53.7ZM334.0,79.5L333.5,80.1L332.7,81.9L333.2,83.2L333.7,83.7L337.2,85.3L339.4,84.7L339.6,83.7L338.0,80.3L335.0,79.4ZM339.3,42.7L340.3,42.8L341.6,42.0L341.7,38.6L341.2,37.8L338.4,37.8L337.1,39.7L337.0,40.6L337.3,41.0ZM339.6,82.6L340.5,83.2L341.0,83.0L344.1,81.0L344.2,80.1L343.0,76.9L342.5,76.7L341.6,77.0L339.0,79.6L338.8,80.7ZM335.3,77.9L335.5,78.9L338.1,79.6L340.8,77.1L341.1,76.2L340.6,75.5L337.4,74.2L336.5,74.8ZM339.6,48.0L338.6,48.5L338.6,49.6L341.1,53.3L342.0,53.3L345.0,51.5L345.3,49.7L344.9,48.7ZM340.0,43.6L339.0,46.9L339.9,47.6L345.1,48.1L346.0,47.8L346.3,47.3L345.7,43.9L342.4,42.6L341.7,42.7ZM342.2,41.4L342.9,42.3L345.9,43.1L347.5,41.4L347.7,40.4L345.8,35.7L344.3,35.5L342.1,37.6ZM358.7,27.2L354.4,27.5L354.0,28.4L355.5,31.4L356.4,31.9L358.1,31.7L359.6,28.6L359.5,27.7ZM347.2,56.5L347.4,57.3L348.8,58.7L350.3,58.9L351.2,58.3L351.9,55.7L350.6,54.0L348.2,54.2L347.5,55.0ZM348.0,40.1L349.0,40.8L352.6,40.7L353.5,40.3L354.1,38.8L353.1,35.5L348.6,34.2L347.0,35.0L346.6,36.1ZM351.1,53.1L351.3,54.0L352.5,55.2L355.1,55.0L355.9,54.2L356.2,51.9L355.5,51.3L352.4,50.7L351.8,51.3ZM352.4,60.0L353.3,60.2L355.7,59.4L356.5,56.8L356.2,55.8L355.3,55.4L352.6,55.9L351.6,58.5L351.6,59.0ZM353.8,40.7L353.6,41.5L354.3,44.3L358.1,46.4L359.3,46.2L361.1,44.1L359.3,39.7L355.1,39.6L354.6,39.7ZM353.2,60.9L353.0,63.9L353.8,64.4L357.5,64.6L358.0,63.8L358.2,62.1L356.4,60.3L355.4,60.1ZM356.7,55.7L357.4,56.1L361.0,56.4L361.8,56.0L362.0,55.1L361.2,51.8L360.8,51.2L358.8,50.1L357.2,51.2L356.8,51.8L356.3,54.6ZM353.9,34.9L353.8,35.7L354.4,38.4L355.4,39.1L359.4,38.9L361.7,35.9L361.2,34.8L357.9,32.3L355.9,32.5ZM358.4,64.5L358.5,65.2L359.3,66.1L363.2,65.2L363.8,64.6L364.8,61.7L363.2,60.1L362.7,59.8L362.0,60.0L358.8,62.1ZM360.8,33.8L361.8,34.0L362.2,33.6L364.6,30.2L364.6,29.2L363.5,27.4L360.8,27.4L358.9,31.4L358.8,32.0L359.2,32.5ZM359.7,69.3L363.3,71.1L364.2,70.5L365.3,68.0L363.6,65.7L360.0,66.6L359.3,67.4L359.3,68.9ZM362.5,76.5L364.3,77.6L365.1,77.2L366.7,73.9L366.2,73.2L364.3,72.5L363.6,72.9L362.2,75.8ZM365.9,68.3L364.4,71.4L365.0,72.1L366.6,72.8L367.4,72.7L369.2,69.4L369.1,68.5L368.3,68.1ZM364.2,64.7L364.3,65.7L365.9,67.6L369.2,67.6L369.8,67.4L370.4,66.2L370.3,65.2L367.4,61.8L365.5,62.0ZM367.3,37.1L366.9,38.1L367.5,39.5L370.9,42.0L371.9,41.5L374.0,37.7L373.2,36.2L369.7,35.6L369.0,35.8ZM370.5,47.8L371.6,48.1L373.6,47.1L374.3,45.7L374.1,44.7L371.6,42.6L370.6,43.0L368.9,45.6L369.2,46.5ZM369.3,34.4L370.1,35.2L373.1,35.4L374.5,33.0L374.4,32.0L371.7,28.9L370.7,29.0L368.7,30.8ZM373.4,27.5L372.6,27.9L372.4,28.7L374.7,31.7L375.8,31.9L377.5,31.1L377.6,28.8L377.2,28.1ZM371.6,48.6L371.0,49.3L370.7,50.7L371.1,51.6L375.1,52.7L375.7,52.7L376.2,52.2L376.8,50.9L374.6,48.0L373.8,47.6ZM316.5,107.4L314.1,108.3L313.8,109.5L313.9,110.8L314.3,111.7L315.7,112.5L317.0,112.9L317.9,113.0L318.7,112.6L318.9,111.7L317.5,107.6ZM314.2,106.4L314.5,107.1L314.9,107.3L317.1,106.8L318.4,105.0L318.3,104.1L316.1,103.0L315.2,103.1ZM318.1,106.5L318.0,107.3L319.2,111.1L319.8,111.8L320.7,111.7L324.1,109.2L324.3,108.2L323.7,107.2L319.9,105.2L318.9,105.3ZM317.5,98.5L315.8,101.8L316.3,102.6L318.4,103.4L319.2,103.0L320.4,100.4L319.0,98.4L318.2,98.0ZM321.9,111.4L321.5,112.1L322.0,112.8L322.4,112.8L325.3,112.5L325.9,112.0L325.8,111.3L324.5,110.0L323.8,110.1ZM324.7,108.9L324.9,109.7L327.4,112.3L329.5,112.1L330.7,109.9L329.3,107.1L328.5,106.6L326.6,106.4L325.9,106.6L324.9,107.5ZM327.8,98.9L327.7,100.0L328.2,100.4L331.2,101.7L332.0,101.3L333.4,98.9L331.6,96.0L330.8,95.6L330.0,96.0ZM329.9,106.0L329.8,107.1L331.1,109.3L331.9,109.5L334.0,108.7L334.5,106.0L334.0,105.0L332.6,104.2L331.7,104.2ZM334.7,108.4L335.1,109.3L337.4,110.9L338.3,110.7L339.6,109.3L339.9,108.3L338.5,104.6L337.4,104.4L335.1,105.4ZM339.7,103.4L339.1,104.2L339.1,104.7L340.3,108.1L341.2,108.8L343.0,108.7L344.6,105.2L344.5,104.3L341.8,102.7ZM360.1,82.7L355.3,82.6L355.0,83.4L356.9,85.8L357.7,85.8L360.4,84.4L360.9,83.7L360.5,82.9ZM353.2,111.9L353.0,112.8L353.9,113.4L358.2,112.9L358.9,112.3L358.7,111.4L358.3,111.2L355.2,110.4L354.3,110.7ZM355.3,104.8L354.6,105.4L354.5,105.9L355.0,109.7L359.1,110.9L360.1,110.6L360.6,108.5L357.8,104.9L356.8,104.5ZM360.6,110.7L361.0,111.6L361.5,111.7L362.7,111.1L365.1,108.5L365.2,107.7L364.1,106.9L361.4,108.3ZM364.7,97.9L364.2,102.3L365.2,102.8L369.0,102.5L369.8,102.0L370.0,101.5L368.7,98.2L365.8,97.2ZM365.3,103.3L364.7,103.6L364.4,105.9L364.7,106.6L365.6,107.2L366.4,106.8L368.4,103.9L368.0,103.2ZM367.8,86.4L368.4,87.0L371.0,87.0L371.5,86.7L371.9,85.9L371.4,85.2L368.6,84.7L367.9,85.0ZM368.6,87.5L367.7,88.1L367.7,88.6L368.2,91.4L370.8,92.2L372.4,90.6L372.5,89.5L371.2,87.6ZM371.9,86.8L371.9,87.6L373.3,89.8L374.7,89.9L375.3,89.6L375.3,88.0L374.1,86.4L372.9,85.8ZM310.6,156.2L308.1,158.1L308.1,158.9L309.4,161.4L310.3,161.5L312.5,160.3L312.7,159.5L312.0,156.8L311.5,156.1ZM310.5,146.3L310.6,147.4L312.7,150.0L316.0,149.9L316.6,149.6L317.7,148.3L317.5,147.4L314.1,144.0L311.4,144.7ZM311.1,137.1L311.7,137.7L314.0,138.5L315.0,138.3L316.1,135.1L315.8,133.7L315.2,133.2L313.4,132.7L310.8,134.3L310.5,134.9L310.5,135.5ZM316.4,162.0L315.7,164.4L316.4,165.1L318.8,165.4L320.5,165.3L321.0,164.6L320.7,163.3L318.4,161.2ZM320.2,157.5L319.7,158.1L319.0,160.6L321.0,162.9L321.9,163.1L325.4,162.4L326.1,161.9L326.4,159.0L325.8,158.0L322.1,156.7ZM321.6,143.7L322.4,144.5L322.9,144.4L326.6,142.6L326.8,140.8L326.6,140.1L325.2,138.6L324.6,138.3L322.6,138.2L321.0,140.0L320.8,140.9ZM322.5,130.2L322.8,131.4L323.3,131.6L327.2,132.3L328.2,131.9L328.4,131.3L326.0,126.5L325.1,125.9L324.2,126.5ZM321.4,164.5L321.8,165.3L322.9,165.4L326.6,165.2L327.3,164.8L327.3,164.3L326.6,163.1L325.8,162.8L322.1,163.5L321.5,164.0ZM322.4,137.2L323.2,137.7L324.4,137.8L325.3,137.4L327.4,134.2L327.4,133.2L327.1,132.8L323.4,132.1L322.6,132.4L321.6,134.8L321.7,135.6ZM329.7,145.4L330.8,145.7L331.7,145.1L333.7,140.2L333.6,139.4L333.1,138.9L332.2,138.8L327.5,140.6L327.3,142.7ZM324.3,124.9L325.8,124.9L327.8,123.5L328.2,120.3L327.6,119.3L324.0,117.8L323.2,118.5L321.7,122.8L322.1,123.6ZM328.4,122.7L329.1,123.7L332.2,124.7L335.5,122.2L335.9,120.6L335.0,119.6L330.0,118.7L328.7,119.6ZM337.5,147.0L337.5,148.3L339.7,151.4L340.7,151.8L341.6,151.4L344.0,147.9L342.5,145.6L341.7,145.2L339.3,145.2ZM336.2,120.0L337.1,120.7L342.9,120.7L343.3,119.7L342.3,115.4L341.5,115.1L337.5,115.3L336.1,119.2ZM339.0,126.8L337.8,130.6L338.7,131.7L339.4,131.9L341.2,131.9L344.3,129.3L344.7,128.4L342.8,126.2L341.8,125.9ZM343.8,119.7L344.6,120.4L346.4,120.6L347.2,120.3L348.7,116.2L348.5,115.2L347.7,114.8L343.4,115.2L343.0,116.2ZM339.2,138.1L343.0,138.5L343.4,138.0L344.1,136.6L344.0,135.6L341.4,132.4L339.5,132.5L338.9,133.2L338.4,137.5ZM339.9,171.0L340.0,171.9L340.5,172.8L341.6,173.3L345.6,172.7L346.4,172.1L346.5,171.6L344.8,168.7L343.9,168.3L341.1,168.6ZM344.2,140.3L344.9,140.8L349.3,141.2L349.9,140.5L350.7,136.9L350.5,136.1L348.3,135.2L344.8,136.3L343.6,139.0ZM345.2,167.4L345.2,168.5L347.5,171.9L349.9,171.4L350.2,170.5L349.5,166.3L347.0,165.4L346.3,165.8ZM348.7,134.3L350.2,135.3L350.7,135.4L351.5,134.9L353.1,131.3L351.8,129.3L348.3,129.2L347.5,129.6L347.3,130.5ZM347.1,127.3L347.1,128.3L347.5,128.6L351.1,128.8L351.7,128.6L352.1,128.0L352.5,125.9L350.1,123.8L349.0,123.7ZM350.6,170.1L351.1,170.9L351.6,171.0L355.2,169.5L355.8,168.7L355.9,167.1L352.9,165.0L351.8,165.1L350.3,166.3ZM350.5,121.8L350.1,122.6L350.2,123.1L352.6,125.2L353.5,125.4L354.8,124.9L355.5,124.3L355.9,122.6L354.2,120.1L353.2,120.2ZM353.6,160.8L352.8,161.7L352.7,164.2L355.7,166.3L356.9,166.2L357.9,165.2L357.9,164.6L356.6,160.6L355.7,160.3ZM352.1,134.7L352.2,135.8L352.7,136.1L357.2,137.3L358.1,137.0L359.4,135.6L358.1,131.7L357.5,131.1L353.7,131.6ZM356.0,153.6L356.0,154.8L357.9,157.4L358.9,157.8L359.4,157.6L361.0,155.8L360.7,150.7L359.7,150.1L358.6,150.5ZM358.6,127.8L359.8,128.0L361.6,127.2L362.1,126.4L360.8,122.6L360.1,122.0L356.5,122.9L355.9,124.3L356.2,125.3ZM362.7,162.3L359.0,158.5L358.0,158.8L357.4,159.5L357.2,160.4L358.3,164.5L358.6,165.0L360.3,165.2L361.1,164.9L362.5,163.2ZM359.9,158.4L363.5,162.1L364.5,162.0L365.8,160.0L365.8,159.2L364.8,156.9L361.5,156.3L360.2,157.4ZM366.2,158.7L367.1,159.4L370.0,159.1L371.6,156.7L371.6,155.7L370.8,155.2L366.9,154.9L365.5,156.6ZM363.5,126.2L363.2,127.1L365.3,129.1L366.1,129.3L367.9,128.7L368.0,127.7L366.3,124.6L365.2,124.6ZM371.9,151.9L372.8,152.3L373.6,151.6L374.7,147.6L374.7,147.2L374.1,146.5L373.2,146.6L370.3,148.7L370.4,149.6ZM302.1,191.5L301.4,191.8L301.3,192.5L302.1,195.0L303.0,195.5L304.8,194.0L304.7,192.4L304.0,191.7ZM300.9,174.9L301.2,176.0L302.3,176.9L303.6,176.9L306.4,174.3L305.8,172.2L303.9,170.9L303.0,170.9L301.8,172.5ZM304.3,169.4L304.2,170.5L305.8,171.3L309.4,168.5L309.7,167.7L309.1,167.0L307.1,167.5L305.6,168.1ZM304.9,200.4L304.3,201.0L304.8,202.3L306.2,203.8L307.0,203.9L307.3,203.0L306.3,200.7L306.0,200.5ZM303.2,196.1L302.9,197.1L304.0,199.8L306.0,199.8L307.5,197.8L307.6,196.9L307.4,196.5L305.3,194.8L304.5,195.0ZM308.4,204.4L309.2,205.0L309.7,204.9L311.7,202.4L310.2,197.9L309.8,197.4L309.2,197.2L308.1,197.7L306.6,200.1ZM315.6,187.1L312.3,186.3L311.6,187.1L311.0,190.2L311.9,192.0L313.0,192.4L315.9,191.5L316.3,188.1L316.2,187.6ZM315.8,197.3L317.0,197.1L318.3,195.4L318.2,193.8L317.8,193.2L316.2,192.1L312.5,193.2L312.0,194.8L312.2,195.7ZM322.2,168.0L322.8,168.5L324.9,168.6L325.9,167.0L325.9,166.3L325.3,165.9L322.2,165.8L321.8,166.3ZM316.9,198.0L317.2,201.1L317.9,201.6L320.3,201.6L323.1,198.8L323.4,197.8L322.7,197.1L318.8,196.0ZM318.0,185.7L318.2,186.6L318.6,186.9L321.0,187.6L323.6,185.7L324.0,184.8L321.8,182.2L319.6,182.3L318.8,183.0ZM323.5,177.1L324.1,177.6L327.0,178.2L327.9,177.9L329.5,176.3L329.1,172.7L327.4,172.1L326.5,172.3L323.1,175.6ZM330.6,204.7L331.1,205.4L333.0,205.2L335.0,204.3L335.1,203.5L334.2,202.1L331.3,202.3L330.7,202.8ZM329.1,188.1L328.5,189.0L329.1,189.9L333.8,191.6L336.8,188.7L335.7,186.0L334.9,185.5ZM333.8,181.7L334.8,184.0L335.2,184.4L336.3,184.3L339.7,181.7L339.3,178.5L336.8,177.3L335.9,177.5L334.4,178.8ZM330.0,175.7L330.6,176.5L334.2,177.9L335.6,177.1L336.0,176.2L335.8,174.1L332.4,171.1L331.6,171.2L329.9,172.6ZM335.3,203.0L336.2,203.5L337.3,202.6L339.0,200.1L339.2,199.7L338.8,198.9L337.1,198.1L336.3,198.5L334.8,201.7ZM336.8,173.7L336.4,174.6L336.5,176.1L337.1,177.0L339.6,177.9L341.7,176.7L341.7,175.8L341.2,174.5L339.7,172.3L338.7,172.4ZM340.4,178.1L340.0,178.9L340.4,181.6L342.0,182.6L342.8,182.6L343.2,181.9L342.6,178.0L341.8,177.4ZM312.9,237.9L312.4,238.1L312.1,238.6L312.7,240.5L313.9,240.7L315.3,239.6L315.4,238.7ZM313.8,223.5L313.6,224.7L314.4,226.3L315.3,226.8L317.4,226.8L319.4,224.4L319.2,223.6L317.2,221.3L316.2,221.5ZM313.9,216.0L314.4,216.6L316.9,217.9L318.5,216.9L319.3,212.6L319.1,211.8L318.3,211.0L317.6,210.7L315.7,210.6L314.8,211.2L313.6,213.8ZM318.2,226.8L318.0,227.7L318.8,230.0L319.1,230.4L320.1,230.5L322.1,227.4L322.1,226.6L320.3,225.0L319.4,225.3ZM319.4,211.5L320.2,211.8L323.8,211.3L324.3,209.7L322.7,207.2L320.7,207.1L319.8,207.7L318.6,210.4ZM323.0,217.0L322.8,218.2L324.2,220.5L324.9,221.0L325.6,221.0L328.3,216.1L327.6,215.2L325.6,214.6ZM324.7,210.4L324.5,212.0L325.4,213.7L326.0,214.2L328.2,214.9L328.6,214.9L329.4,214.4L330.7,211.9L329.3,209.1L328.5,208.6L325.3,209.7Z" fill="#efc6ca"/>
<path d="M364.7,20.3L364.2,21.2L365.3,22.6L369.2,22.6L370.0,22.0L369.6,19.4L368.9,18.7ZM321.0,86.3L321.1,87.4L321.9,88.3L322.2,88.6L323.2,88.5L326.8,86.0L326.9,82.7L326.0,82.0L323.4,82.4ZM326.9,56.5L327.2,57.5L327.6,57.8L331.3,56.9L332.7,52.9L332.5,52.0L330.5,51.2L328.4,51.8ZM332.4,51.4L333.4,51.3L336.7,48.5L336.5,47.5L333.1,44.4L331.1,45.0L330.7,45.8L331.0,50.2L331.2,50.7ZM329.6,43.0L329.6,44.1L330.5,44.6L333.0,43.8L334.1,41.3L334.0,40.4L333.3,39.9L332.5,40.1ZM331.0,75.9L331.2,76.8L333.0,78.7L333.9,79.0L334.4,78.8L336.4,73.9L336.3,73.1L335.8,71.9L335.3,71.5L334.7,71.4L332.1,72.1ZM333.8,62.8L334.2,63.7L335.2,64.3L339.9,63.0L341.2,60.3L341.0,58.7L340.0,57.5L338.3,57.5L334.3,60.2ZM336.7,49.3L333.8,51.8L334.1,52.8L338.4,56.6L339.2,56.9L340.0,56.6L340.8,54.1L337.7,49.2ZM354.7,82.4L355.2,83.2L356.8,83.3L359.4,82.6L359.9,81.6L358.5,80.1L355.7,80.3L355.0,80.7ZM336.8,70.2L336.0,71.1L336.8,73.0L337.3,73.5L341.0,75.2L341.5,75.3L342.3,74.8L342.6,70.2L342.2,69.4L341.4,69.2ZM341.1,58.0L342.1,58.3L346.5,56.7L347.0,54.2L345.8,52.6L344.5,52.4L341.7,54.0L341.2,54.6L340.5,56.6ZM346.8,57.4L342.4,58.9L342.3,60.0L346.4,62.3L347.2,61.8L348.5,59.5L348.2,58.7ZM345.6,51.2L345.8,52.0L347.5,53.8L349.9,53.5L350.7,52.8L351.6,50.2L350.6,48.4L346.8,47.7L345.9,48.8ZM350.0,78.9L350.2,77.8L349.8,77.3L346.8,75.5L344.4,76.1L343.7,76.8L344.7,80.4L346.3,81.7L347.6,81.5ZM346.6,67.2L346.7,68.3L348.3,70.3L349.0,70.6L351.1,70.8L352.7,69.3L352.3,66.0L351.7,65.3L347.7,65.6ZM346.8,46.5L347.6,47.3L350.1,47.8L351.1,47.5L353.7,44.4L353.1,41.6L352.3,41.2L348.2,41.3L346.4,43.7ZM351.9,49.6L352.5,50.1L356.6,51.0L358.5,49.5L358.4,47.2L354.8,45.2L353.9,45.1L351.5,47.6L351.3,48.2ZM349.8,28.2L349.0,29.0L348.5,33.3L349.2,33.9L353.2,34.8L355.0,32.6L355.1,31.6L352.8,27.8ZM353.8,64.9L352.9,65.4L352.8,66.0L353.5,69.0L357.1,69.8L358.3,69.2L358.9,67.1L358.2,65.6L357.5,65.1ZM359.0,49.0L359.5,49.8L361.3,50.9L364.4,50.0L365.1,49.2L365.5,46.2L364.0,44.8L361.6,44.5L359.3,46.8ZM361.4,43.4L362.3,44.0L363.6,44.0L364.0,43.6L366.5,39.6L366.7,38.9L366.3,37.7L362.8,36.5L361.7,36.8L360.0,39.3ZM363.2,56.2L362.6,56.8L362.9,58.9L365.4,61.3L367.4,61.2L369.9,58.0L368.7,55.1L368.0,54.5ZM364.6,43.6L364.5,44.5L365.6,45.6L367.7,45.7L368.5,45.3L369.9,43.2L370.0,42.2L367.9,40.4L366.8,40.3ZM362.2,34.4L362.1,35.3L362.7,36.0L366.0,37.0L367.0,36.8L368.8,35.1L368.0,31.0L365.4,30.2ZM376.4,49.5L377.5,49.8L378.0,49.4L380.1,46.5L379.9,45.7L378.3,44.1L375.4,45.0L374.8,45.6L374.5,47.0ZM377.7,38.6L378.7,38.5L379.0,38.1L380.6,33.3L380.0,32.5L378.3,31.8L375.6,32.5L375.1,33.0L373.8,35.9L374.9,37.6ZM381.5,31.7L381.6,32.8L384.5,33.8L387.8,31.6L388.3,30.7L387.5,29.8L383.8,28.9L382.7,29.4ZM318.4,96.2L318.6,97.1L321.0,100.0L323.1,99.6L323.8,99.0L323.6,94.1L322.2,92.8L321.1,92.7L320.0,93.6L318.9,94.9ZM324.2,95.0L324.5,99.3L325.5,99.8L326.3,99.8L326.8,99.5L329.6,95.6L329.4,94.7L328.5,93.9L327.7,93.6L324.6,94.2ZM330.9,102.2L327.0,100.5L326.2,101.0L326.3,105.1L326.7,105.9L329.0,106.1L331.2,103.9L331.5,102.9ZM339.0,86.9L338.4,87.6L338.6,88.3L340.6,89.3L343.6,87.3L343.9,86.4L343.6,85.8L342.8,85.7ZM330.7,111.0L330.8,111.9L331.5,112.3L335.8,112.5L336.6,112.1L336.8,111.7L336.4,110.9L334.3,109.4L331.6,110.0ZM329.5,89.5L328.7,90.4L328.6,93.1L330.1,94.8L331.4,95.1L333.7,92.9L334.0,92.1L331.7,89.1ZM338.8,95.4L340.0,95.5L341.4,93.3L340.4,89.9L338.6,89.2L335.6,92.0L336.0,93.0ZM341.1,90.4L342.1,92.9L342.7,93.1L346.1,92.9L346.6,92.0L346.4,88.4L344.4,87.5L341.5,89.3ZM344.8,85.0L344.2,85.6L344.6,86.9L346.8,87.8L349.4,86.5L350.0,84.3L349.8,83.9L348.9,83.6ZM342.2,101.5L342.7,102.6L344.6,103.7L345.6,103.7L347.6,100.4L347.6,99.1L346.9,98.4L346.5,98.4L343.5,98.8L342.6,99.6ZM347.7,101.2L346.4,103.7L346.9,104.5L349.4,106.0L352.4,104.7L353.0,104.0L352.3,102.5L348.5,100.7ZM348.4,94.5L349.3,94.8L351.5,94.4L352.4,93.4L352.4,89.7L349.6,87.2L347.6,88.0L347.1,88.9L347.0,92.7ZM343.8,108.4L344.0,109.5L345.2,110.4L347.8,109.9L348.5,109.2L348.9,106.6L346.5,104.8L345.4,104.9ZM353.5,103.9L354.2,104.5L354.7,104.5L357.6,103.7L358.8,102.1L358.2,98.9L355.2,98.3L354.3,98.6L353.1,102.2ZM352.3,88.8L353.4,89.0L356.1,87.7L356.7,87.0L356.5,86.1L353.5,82.8L351.1,83.2L350.1,86.0L350.4,87.0ZM365.2,92.8L366.3,92.7L367.5,91.6L367.2,88.6L366.7,87.9L364.2,87.8L363.3,88.3L362.1,90.7L362.7,91.6ZM369.8,99.6L370.5,100.0L371.1,99.6L372.7,96.4L372.3,95.4L371.5,95.6L369.5,97.7L369.4,98.5ZM372.5,95.0L373.5,94.6L374.9,91.4L374.5,90.5L373.3,90.4L371.3,92.7L371.8,94.5ZM307.4,146.3L308.1,147.2L309.5,146.8L310.6,145.0L310.5,144.1L308.6,142.0L307.6,142.4ZM308.1,147.7L307.5,148.7L307.7,152.1L309.7,153.0L310.5,152.9L311.9,151.0L311.8,149.9L309.8,147.4ZM307.7,139.1L308.0,139.8L308.8,139.9L310.7,137.7L309.9,135.2L309.4,134.8L308.9,134.7L308.3,135.3ZM313.4,131.6L314.0,132.3L315.0,132.7L316.1,132.4L318.1,129.7L317.1,127.2L316.2,127.0L312.9,128.2L312.7,129.2ZM310.9,161.7L310.4,162.4L310.4,162.8L311.3,163.6L314.1,164.6L315.0,164.4L315.6,162.6L315.2,161.6L313.2,160.7ZM313.2,159.7L313.8,160.4L315.7,161.3L316.5,161.4L318.3,160.5L319.2,157.6L316.5,155.3L313.3,156.1L312.6,156.8ZM312.2,126.1L312.2,127.0L313.0,127.5L316.6,126.4L317.2,125.8L318.0,123.6L316.2,121.6L315.3,121.4L314.1,122.5ZM318.6,130.2L316.2,133.2L316.7,134.3L320.7,134.8L321.4,134.2L322.1,131.6L321.4,130.9ZM319.6,147.5L319.1,148.4L319.4,148.9L322.3,152.4L323.3,152.3L325.9,150.4L326.1,150.0L325.6,149.1L322.0,146.6L320.8,146.6ZM325.7,116.3L325.1,116.8L325.5,117.9L328.4,119.1L329.6,118.2L329.8,116.6L329.3,115.8ZM316.9,120.0L316.4,121.0L318.2,123.0L319.0,123.3L320.4,123.1L321.2,122.4L322.5,118.4L321.8,117.6L321.2,117.6ZM335.8,165.9L335.6,167.1L338.9,170.0L339.8,169.9L340.5,168.3L339.6,166.2L336.9,165.2ZM329.6,133.4L328.6,133.3L328.2,133.7L325.8,137.5L325.9,138.7L327.2,139.8L331.5,138.5L332.2,137.8L331.3,134.8ZM329.8,146.6L327.3,150.0L327.5,150.6L329.3,152.9L332.1,152.8L333.0,152.1L333.8,148.0L331.8,146.3L330.5,146.2ZM351.6,114.6L350.9,115.0L350.8,115.4L351.2,116.1L353.8,117.5L354.3,117.6L355.2,117.0L355.6,115.6L355.3,114.8ZM332.8,127.0L333.2,127.7L336.8,129.7L337.7,129.0L338.4,126.5L336.5,123.4L335.5,122.9L332.6,125.2ZM329.5,131.4L329.3,132.5L331.4,133.9L335.9,131.6L336.4,130.7L335.9,129.9L333.0,128.2L332.1,128.5ZM331.0,164.0L330.9,164.9L331.1,165.3L334.3,166.4L336.1,165.1L336.4,164.1L336.0,162.5L333.6,161.2L332.8,161.6ZM333.3,160.1L333.8,160.7L336.2,161.8L338.9,159.5L339.3,158.7L337.6,156.0L337.2,155.7L335.9,155.6L335.1,156.0L333.3,158.8ZM332.9,137.9L334.6,139.2L336.0,139.2L337.4,138.3L337.8,137.6L338.6,132.8L338.0,131.7L336.9,131.6L332.0,134.3L331.9,135.2ZM328.1,156.5L328.3,157.6L328.7,157.9L332.6,158.7L334.5,156.0L334.6,155.2L332.9,153.3L329.9,153.4L329.1,154.1ZM335.0,154.8L335.7,155.1L337.2,155.0L339.4,152.2L336.6,148.0L334.6,148.2L333.4,152.4L333.7,153.3ZM337.0,161.9L336.7,162.9L337.1,164.5L339.5,165.5L340.2,165.1L342.1,162.3L341.6,160.2L340.5,159.4L339.5,159.6ZM342.5,161.7L343.0,162.3L345.9,163.5L346.7,163.0L347.8,160.1L345.9,157.8L345.1,157.5L342.1,159.7ZM344.4,147.3L345.0,147.7L347.3,148.0L348.1,147.7L349.7,143.0L349.4,141.9L345.1,141.3L344.1,141.8L342.7,144.9ZM348.0,172.5L347.3,173.4L347.1,177.5L347.5,178.4L348.6,178.7L352.0,176.2L352.5,175.4L350.8,172.1L349.9,172.0ZM345.0,129.4L342.3,131.9L342.5,132.8L344.8,135.5L347.8,134.7L348.0,133.7L346.3,129.4L345.4,129.1ZM348.6,160.4L346.8,164.1L347.4,164.9L349.4,165.6L350.3,165.5L352.0,164.2L352.3,160.9L351.2,160.2ZM349.5,148.7L348.6,148.8L348.1,149.6L348.0,153.6L348.7,154.2L351.7,154.7L352.8,153.8L352.0,150.0L351.3,149.4ZM348.9,147.0L349.1,148.0L351.6,149.0L352.4,148.9L354.3,148.0L354.8,147.1L354.8,143.9L354.1,143.4L350.8,142.6L350.1,143.3ZM352.4,160.2L353.2,160.4L356.3,159.7L357.6,158.4L357.4,157.6L355.1,154.5L353.7,154.2L353.0,154.4L352.1,155.2L351.9,159.3ZM348.5,121.7L349.7,121.8L353.5,119.5L353.9,118.6L353.8,118.1L350.4,116.1L349.3,116.2L347.8,120.2L347.8,120.8ZM352.4,128.5L352.5,129.3L353.3,130.5L354.2,130.9L357.8,130.4L358.6,128.7L355.4,125.4L353.2,126.0ZM353.2,153.1L354.1,153.8L355.1,153.8L357.6,151.0L357.8,149.9L355.0,148.3L353.0,149.1L352.5,150.3ZM354.4,118.9L354.6,119.6L356.4,122.1L359.9,121.5L360.6,120.9L361.0,119.8L360.8,118.8L360.3,118.5L356.2,117.3L355.7,117.3L354.8,117.9ZM355.3,147.2L355.8,148.0L358.5,149.6L359.6,149.7L360.4,149.1L361.2,146.4L360.1,143.8L357.5,142.5L355.4,143.6ZM362.2,167.3L363.3,167.7L365.9,165.0L366.1,164.1L364.6,162.6L363.3,162.9L361.6,165.0L361.5,166.0ZM356.3,168.8L356.5,169.7L358.1,171.3L359.1,171.6L361.9,169.2L362.2,168.4L360.7,165.8L358.8,165.6L356.8,166.8ZM364.5,139.9L365.2,140.2L366.5,140.2L367.1,139.4L367.2,135.5L365.1,133.8L362.2,135.3L361.7,136.3ZM366.8,159.8L366.2,160.2L365.2,162.0L365.4,162.6L366.5,163.6L367.2,163.3L369.1,160.5L368.7,159.8ZM372.6,138.2L370.7,140.8L371.1,141.7L373.6,143.3L374.8,143.1L374.9,142.0L373.5,138.3ZM299.7,185.3L300.4,186.1L302.5,185.2L302.6,182.0L302.1,181.3L300.3,181.3L299.6,181.7ZM299.6,180.0L300.0,180.7L300.4,180.8L302.5,180.6L302.8,179.9L302.7,177.8L301.1,176.6L300.4,176.8ZM306.5,181.2L303.6,181.1L303.1,182.0L303.2,185.2L304.7,186.3L305.6,186.3L307.4,185.5L308.0,184.8L307.3,182.0ZM300.6,186.6L300.0,187.7L300.9,190.7L303.8,191.3L304.7,190.8L304.9,187.5L304.4,186.7L302.9,185.8ZM306.1,191.4L305.3,192.0L305.3,193.7L305.6,194.3L308.1,196.5L309.7,196.7L311.1,195.8L311.9,192.9L310.9,191.4L310.0,190.9ZM306.9,174.0L307.9,174.8L308.9,174.8L313.1,172.6L313.4,172.3L313.5,171.3L310.8,169.0L309.9,168.8L306.4,171.9ZM305.9,186.7L305.3,187.6L305.3,189.9L305.9,190.8L310.3,190.2L311.1,187.3L310.8,186.4L308.5,185.5ZM303.3,177.8L303.4,180.0L304.1,180.5L306.8,180.8L307.6,180.5L309.2,178.7L308.3,175.8L307.5,175.1L306.4,175.2ZM311.2,203.9L311.1,204.9L311.9,205.4L315.9,205.3L316.6,204.8L316.7,203.0L316.2,202.2L315.6,202.1L312.6,202.6ZM315.0,171.5L314.6,172.0L314.6,172.6L316.1,176.7L317.1,176.9L321.2,175.5L321.3,174.4L319.6,171.1L316.8,170.6ZM310.9,196.5L310.6,197.7L312.3,201.8L313.1,202.1L316.2,201.4L316.6,200.6L316.2,198.2L312.2,196.2L311.6,196.2ZM318.8,194.7L319.4,195.5L323.5,196.7L325.7,193.8L325.1,192.9L321.6,191.3L319.0,193.1L318.7,193.5ZM320.3,165.7L317.3,165.7L316.8,166.6L316.7,169.7L317.5,170.2L319.7,170.5L321.7,168.6L321.2,166.4ZM320.5,202.5L319.9,202.1L317.6,202.1L317.2,202.8L317.3,204.8L318.0,205.2L321.2,205.1L321.6,204.4ZM323.9,197.9L324.3,198.6L326.6,200.8L328.4,201.0L329.3,200.3L330.1,197.0L326.6,194.4L325.7,194.8L324.1,197.0ZM321.2,201.4L321.1,202.6L322.7,204.9L323.8,205.4L324.8,204.8L326.3,201.4L324.0,199.2L323.1,199.5ZM320.4,171.6L322.1,174.7L322.9,174.8L326.2,171.9L326.1,171.0L324.9,169.3L322.2,169.0L320.6,170.4L320.3,170.9ZM321.9,190.7L325.8,192.6L326.6,192.1L327.9,190.0L328.0,188.6L326.4,186.0L324.9,185.5L321.8,187.7L321.4,188.7ZM327.8,187.3L328.6,187.7L329.1,187.6L333.8,185.3L334.4,184.5L333.6,182.8L332.8,182.3L328.7,182.3L326.8,185.4ZM326.7,171.2L327.3,171.6L329.4,172.0L331.7,170.6L332.6,168.2L332.3,167.2L328.8,166.3L327.1,166.2L325.5,169.0ZM332.6,169.8L332.9,170.8L335.9,173.3L336.8,173.2L338.6,171.6L338.6,171.1L337.6,169.9L334.3,167.9L333.2,168.1ZM334.5,191.8L334.1,192.6L334.3,195.8L336.0,197.3L337.1,197.4L339.5,193.2L338.2,190.1L337.9,189.7L337.0,189.6ZM336.2,186.0L337.6,188.5L338.4,188.6L342.7,187.2L343.0,184.0L340.7,182.4L339.6,182.5L336.2,185.1ZM339.0,198.6L339.8,198.6L340.9,196.7L341.6,194.6L341.6,194.2L340.9,193.7L340.1,193.7L339.8,194.0L338.0,197.1L338.0,197.8ZM339.2,188.9L338.6,189.6L338.7,190.1L339.9,192.6L340.5,193.1L341.5,193.2L342.0,192.5L342.5,188.8L341.9,188.2ZM305.8,220.6L306.4,221.3L308.9,220.7L309.5,220.1L309.7,219.0L307.3,216.9L306.4,216.7L305.9,217.4ZM310.9,224.3L308.5,227.3L308.9,228.2L312.3,229.3L313.1,228.9L314.1,227.0L313.0,224.6L311.8,224.0ZM311.1,223.0L312.4,223.6L313.2,223.4L316.7,220.4L316.6,218.5L313.9,217.0L310.6,218.8L309.9,220.3L310.0,221.1ZM312.2,213.6L313.2,213.4L313.5,213.0L314.5,210.9L314.4,210.0L312.5,207.1L309.1,207.3L308.7,208.2L309.1,212.3ZM311.5,234.0L311.2,235.0L312.0,237.0L315.0,238.1L316.0,237.8L316.3,236.9L315.4,233.2L313.5,232.4ZM316.4,235.3L316.9,235.9L317.8,235.5L319.0,232.8L318.7,231.8L318.0,231.8L316.1,233.1ZM321.1,223.7L320.8,224.5L321.0,224.9L322.0,225.8L322.8,225.9L324.7,222.9L324.7,222.1L324.4,221.8L323.6,221.9ZM329.3,207.7L329.4,208.3L330.6,210.4L331.3,210.9L332.0,210.6L333.2,209.2L333.9,207.7L333.7,207.2L332.9,206.8L330.3,206.5L329.7,206.7Z" fill="#f1cace"/>
<path d="M364.9,25.6L365.3,26.5L365.9,26.7L369.5,26.1L369.8,25.3L369.5,23.5L368.8,23.1L365.7,23.2L365.2,23.9ZM375.4,17.5L374.7,18.0L374.7,18.4L375.1,19.6L375.6,20.1L378.6,19.2L379.1,18.7L379.1,18.0L378.5,17.5ZM376.3,24.8L377.2,25.3L377.7,25.1L381.1,22.5L380.9,21.4L379.6,20.0L378.5,19.7L375.7,20.7L375.1,21.1L375.0,22.4ZM379.5,18.8L379.7,19.5L381.8,21.6L382.5,21.4L383.9,20.1L383.5,19.1L380.5,17.9L379.8,18.1ZM384.2,20.4L382.6,22.1L382.7,22.9L384.1,24.6L386.7,24.6L387.5,24.0L386.8,22.1L385.1,20.2ZM317.9,69.0L317.6,73.0L318.3,73.4L320.6,71.8L320.8,70.9L320.0,69.0L318.7,68.7ZM318.6,73.9L318.3,74.9L318.5,75.4L320.7,77.2L324.0,75.7L324.6,74.7L324.3,73.1L321.8,72.0L320.9,72.1ZM320.3,62.6L321.3,62.2L323.1,58.1L322.9,57.1L322.1,56.6L321.2,57.0L319.6,61.6L319.8,62.4ZM325.2,72.6L324.9,73.4L325.1,75.1L326.0,76.5L326.9,76.8L330.3,76.1L331.3,72.6L330.8,71.5L329.1,70.5L327.6,70.5ZM332.4,86.5L332.4,87.1L333.0,87.4L335.4,86.2L335.8,85.6L335.4,85.0L333.6,84.3L333.0,84.7ZM328.1,62.0L328.6,62.7L330.6,63.6L332.6,63.4L333.4,62.6L333.7,60.1L331.5,57.6L328.3,58.2L327.6,58.9ZM327.4,85.5L327.7,86.4L329.9,88.1L330.8,88.2L331.4,87.6L332.8,84.1L332.5,82.9L332.1,82.4L331.5,82.3L327.8,82.9L327.4,83.7ZM342.2,82.8L341.8,83.6L342.3,84.3L342.7,84.3L346.3,84.0L347.0,83.4L346.6,82.3L344.7,81.4ZM334.0,38.7L333.8,39.4L334.5,40.2L335.1,40.4L336.2,40.2L337.8,37.8L337.8,37.0L337.2,36.3L336.7,36.2ZM342.9,31.3L342.4,32.2L344.1,34.6L344.8,35.0L346.3,34.9L347.8,33.7L348.4,29.5L347.6,28.9L347.1,28.9ZM335.5,65.7L336.2,69.4L337.2,69.7L341.9,68.5L342.2,68.1L342.1,67.2L340.1,63.9L339.2,63.7L335.8,64.9ZM340.6,62.8L340.6,63.7L343.3,67.9L345.4,67.7L346.1,67.2L347.1,65.3L346.7,63.5L346.2,62.9L342.1,60.8L341.2,61.3ZM341.3,37.3L342.0,37.0L343.3,35.7L343.6,34.8L342.2,32.9L341.3,32.5L338.0,34.9L337.7,35.7L338.5,37.1ZM343.9,68.5L343.1,69.4L342.9,74.7L343.0,75.2L343.7,75.7L346.6,74.9L348.1,70.9L345.9,68.2ZM347.7,81.9L347.5,82.9L348.2,83.7L353.3,83.4L353.8,83.3L354.3,82.5L354.5,80.3L353.0,78.4L352.6,78.1L351.6,78.1L351.0,78.4ZM347.3,62.6L347.6,64.7L348.4,65.0L352.0,64.6L352.5,63.7L352.5,61.2L352.2,60.4L351.0,59.4L349.3,59.6ZM347.4,74.3L347.8,75.5L350.9,77.5L352.0,77.6L352.8,77.0L353.0,75.8L351.0,71.4L349.4,71.1L348.6,71.4ZM353.0,74.7L353.9,75.3L354.5,75.1L356.9,73.3L357.3,71.3L356.9,70.4L353.6,69.7L352.8,70.0L352.1,70.7L351.8,71.8ZM354.5,79.5L355.4,79.9L358.4,79.5L360.0,77.1L360.1,76.2L357.8,74.2L356.6,74.2L353.5,76.6L353.2,77.7ZM357.5,72.8L357.9,73.7L360.8,75.9L361.8,75.3L363.3,72.3L362.8,71.5L358.9,69.6L358.1,70.0L357.8,70.6ZM356.4,59.0L356.7,60.0L358.6,61.4L361.9,59.6L362.4,58.5L361.7,57.0L357.9,56.6L357.0,56.9ZM365.6,27.2L364.8,27.7L364.7,28.1L365.2,29.2L365.7,29.7L367.8,30.3L368.6,30.2L370.5,28.5L370.4,27.7L369.7,27.3ZM363.7,77.9L361.5,76.5L360.7,76.9L359.3,79.1L359.4,80.2L360.7,81.6L361.5,81.5L362.6,80.6L364.0,78.8ZM362.4,54.8L363.2,55.6L363.7,55.5L367.3,54.2L368.0,53.4L367.9,52.9L365.6,50.6L364.6,50.4L362.4,51.2L361.8,51.9ZM369.8,63.9L370.7,64.3L371.5,63.7L373.0,59.8L372.7,58.8L370.5,58.4L368.3,60.9L368.1,61.7ZM368.1,52.2L368.9,52.5L369.8,51.9L370.2,51.3L370.5,48.7L368.2,46.2L366.8,46.2L365.9,47.1L365.6,49.8ZM370.2,57.3L371.0,57.9L372.7,58.1L373.5,57.9L375.0,54.4L374.9,53.3L370.9,52.1L370.0,52.3L369.1,53.0L368.8,53.6L368.8,54.3ZM385.4,33.9L385.0,34.9L385.5,36.9L386.2,37.7L386.8,37.6L389.5,34.1L390.0,32.3L389.8,31.9L388.9,31.6ZM374.3,44.3L375.4,44.5L378.1,43.3L378.8,40.4L378.5,39.5L375.3,38.2L374.4,38.3L374.1,38.7L372.3,41.9L372.6,42.7ZM380.2,40.1L379.3,40.4L379.1,40.9L378.7,43.5L379.9,45.0L381.0,45.4L384.2,41.3L384.2,40.8L383.3,40.2ZM381.4,28.5L378.5,28.3L378.0,29.1L378.3,31.2L380.0,32.0L380.8,31.9L382.0,29.7L382.0,29.0ZM379.4,38.3L379.5,39.2L380.3,39.6L384.4,39.8L385.2,39.5L385.4,38.6L384.2,34.4L382.1,33.6L381.2,33.8ZM321.0,100.7L319.3,103.9L319.9,104.7L324.0,106.8L325.1,106.7L325.8,106.0L325.6,101.0L325.0,100.1L323.8,99.9ZM323.3,91.5L322.8,92.2L322.9,92.6L323.7,93.5L324.4,93.7L327.7,93.0L328.1,92.4L328.2,91.0L327.9,90.3L327.1,90.1ZM331.9,103.0L332.4,103.6L334.8,104.8L337.3,103.9L338.0,103.1L336.2,99.4L334.6,99.2L333.7,99.6L332.0,102.0ZM333.5,88.5L332.9,89.0L333.0,89.8L334.2,91.3L335.0,91.6L338.1,88.6L338.0,88.0L337.4,87.5ZM338.6,111.0L338.3,112.0L339.2,112.7L344.1,112.7L344.8,111.4L344.5,110.6L342.8,109.3L340.4,109.3ZM335.4,93.2L334.5,93.0L334.1,93.2L332.4,94.9L332.1,95.7L334.1,98.6L335.8,98.8L336.7,98.5L338.3,96.3L338.0,95.4ZM337.1,98.6L337.0,99.7L338.6,102.9L339.6,103.0L341.5,102.1L342.3,98.8L340.5,96.5L339.4,96.2ZM345.4,111.1L345.2,112.4L345.9,112.9L349.8,113.2L350.6,112.5L350.3,111.7L348.5,110.3L345.8,110.9ZM340.8,95.1L340.9,96.3L342.3,98.0L343.3,98.4L347.3,97.7L348.2,95.2L347.0,93.8L346.3,93.5L342.0,93.7ZM348.1,99.5L348.6,100.1L352.1,101.7L353.0,101.0L353.9,98.0L351.9,95.0L349.4,95.2L348.7,95.8L347.9,97.7ZM350.0,106.3L349.5,107.0L349.0,109.8L351.2,111.9L352.2,112.1L354.3,109.9L353.9,105.5L353.1,105.0L352.6,105.1ZM352.9,92.4L353.4,93.4L354.0,93.5L358.3,92.8L359.1,92.2L359.2,91.7L357.2,88.6L356.4,88.2L353.1,89.8ZM358.6,93.3L353.2,94.1L352.8,95.0L354.4,97.7L358.4,98.1L359.7,96.5L359.3,94.1ZM359.4,91.0L360.1,91.4L361.0,91.2L362.9,88.1L362.8,87.1L361.3,84.9L360.4,84.9L357.6,86.4L357.1,87.0L357.3,87.9ZM359.7,92.6L359.6,93.3L360.3,96.2L363.9,97.4L364.7,97.2L365.4,96.6L365.6,94.2L365.0,93.3L361.5,91.6L360.3,92.0ZM359.0,98.2L358.8,99.0L359.2,101.2L359.7,101.9L362.7,102.1L363.6,101.7L364.0,98.7L363.7,97.9L360.1,97.0ZM358.3,103.6L358.3,104.8L360.8,107.7L361.7,107.6L363.8,106.2L364.2,103.7L363.7,102.8L359.7,102.4L358.9,102.8ZM363.0,83.5L362.1,83.6L361.8,84.4L363.6,87.2L366.4,87.3L367.2,86.9L367.3,85.3L367.0,84.5ZM366.4,93.2L366.1,94.0L366.2,96.5L368.3,97.5L369.3,97.2L371.3,94.9L370.9,93.3L370.3,92.7L367.9,92.1ZM308.6,153.1L307.9,153.2L307.6,153.8L307.7,156.3L308.5,157.0L310.7,155.4L310.3,153.8ZM311.2,138.2L308.8,140.8L309.1,141.7L310.8,143.7L311.8,144.1L314.0,143.4L315.2,139.9L314.5,139.1ZM308.8,133.2L309.0,134.0L309.9,134.3L312.9,132.1L312.2,129.2L311.7,128.6L310.6,129.0ZM311.2,155.1L312.2,155.8L316.0,154.7L316.4,153.9L316.1,150.9L315.2,150.4L312.7,150.7L310.9,153.6ZM315.6,138.5L315.9,139.6L316.5,139.8L319.9,140.0L320.7,139.7L322.0,137.8L321.0,135.6L317.5,135.0L316.6,135.3L316.4,135.7ZM317.0,149.9L316.7,150.6L316.9,154.7L319.7,157.1L321.4,156.4L321.9,155.7L322.2,153.6L322.0,152.9L318.6,149.0L318.1,149.0ZM314.7,143.0L314.9,144.0L318.2,147.4L319.1,147.2L321.3,145.5L320.5,141.2L319.6,140.5L315.9,140.4ZM318.5,129.1L319.1,129.7L321.1,130.3L322.0,130.1L323.8,126.2L323.8,125.3L321.4,123.7L320.8,123.5L318.7,123.9L317.6,126.1L317.6,126.8ZM342.1,183.0L343.1,183.7L344.9,182.7L347.3,180.2L347.5,179.2L347.2,178.7L346.4,178.5L342.4,179.3L342.0,180.0ZM323.1,153.0L322.6,153.7L322.4,155.4L322.7,156.2L326.1,157.7L327.0,157.5L328.8,153.3L327.4,151.3L326.6,150.8L326.1,151.0ZM323.0,144.9L322.4,145.7L322.8,146.6L326.6,149.1L327.5,148.7L329.3,146.3L329.1,145.4L326.9,143.4ZM342.3,173.7L341.5,174.4L342.2,178.2L343.2,178.6L346.3,177.9L346.7,177.2L346.7,173.6L345.7,173.1ZM326.7,124.9L326.2,125.7L326.3,126.2L328.3,130.0L329.1,130.5L329.6,130.5L332.3,127.5L331.9,125.3L328.1,124.0ZM328.1,158.2L327.0,158.5L326.7,162.0L328.3,164.7L329.1,165.1L329.9,164.7L332.7,161.0L332.8,160.1L332.1,159.2ZM332.2,145.1L332.5,146.3L334.7,147.6L336.9,147.1L338.4,145.4L338.5,144.3L336.2,139.8L335.0,139.6L334.1,140.3ZM330.4,115.9L330.3,117.7L331.0,118.3L335.2,119.1L335.9,118.4L336.5,116.0L335.9,115.2L335.5,115.1L331.1,115.4ZM337.5,121.2L336.5,121.7L336.4,122.2L338.4,125.6L339.5,126.1L342.1,125.2L342.7,122.4L342.2,121.5ZM338.1,154.8L338.1,156.0L339.8,158.5L341.1,159.1L342.0,159.0L345.1,156.6L344.8,155.5L341.4,152.3L339.8,152.7ZM339.0,144.1L339.9,144.7L341.5,144.7L342.4,144.2L343.9,141.0L343.0,139.3L338.4,138.4L337.3,139.0L337.0,140.2ZM340.7,167.4L341.7,168.0L344.4,167.7L346.0,165.5L346.0,164.4L343.3,163.0L342.4,163.0L340.4,165.6L340.3,166.0ZM344.7,148.3L342.1,151.7L342.4,152.5L345.3,155.2L346.3,155.0L347.3,154.1L347.7,149.4L347.3,148.6ZM346.9,121.1L343.8,120.9L343.2,121.7L342.8,125.4L344.9,127.7L345.8,128.0L346.5,127.5L348.6,122.7L347.5,121.4ZM347.7,154.6L345.8,156.2L346.0,157.2L348.5,159.7L350.5,159.7L351.3,159.3L351.5,156.0L351.1,155.2ZM352.7,174.6L353.6,175.1L356.4,173.7L357.8,172.5L357.6,171.4L355.8,169.9L352.2,171.3L351.6,172.2ZM351.1,137.2L350.3,141.4L351.0,142.1L354.7,143.1L355.4,143.0L357.2,141.8L357.4,138.2L356.8,137.6L351.8,136.5ZM357.8,141.3L358.3,142.2L360.6,143.4L363.6,141.0L364.0,140.1L361.0,136.4L360.0,136.1L358.3,137.5L358.0,138.2ZM361.0,121.2L361.0,121.9L362.4,125.4L363.3,125.6L363.8,125.3L365.5,123.6L365.2,122.3L362.7,119.3L361.8,119.4ZM358.5,130.3L358.4,131.1L360.1,135.3L361.2,135.3L364.9,133.1L365.3,129.8L362.5,127.4L359.6,128.6ZM361.5,155.0L362.4,155.9L364.5,156.2L365.4,155.9L366.4,154.5L365.6,152.0L362.0,151.4L361.4,152.4ZM355.9,116.1L356.5,116.9L359.8,117.9L360.2,117.9L360.7,117.3L360.7,116.9L360.0,116.2L357.0,115.0L356.2,115.3ZM361.0,150.4L361.6,150.7L365.8,151.3L367.8,149.1L368.0,148.3L366.9,146.7L362.4,146.9L361.5,147.5L360.8,149.3ZM361.4,143.5L361.1,144.6L361.5,145.8L362.1,146.4L366.1,146.2L366.7,145.9L367.0,145.4L367.7,141.5L366.8,140.8L364.8,140.7ZM366.8,153.7L367.6,154.4L371.3,154.8L372.3,154.3L372.4,153.8L369.7,149.5L368.9,149.0L368.1,149.4L366.3,151.7ZM367.4,146.3L368.9,148.3L369.9,148.3L373.8,145.6L374.1,145.3L374.1,144.3L370.2,141.6L369.0,141.5L368.4,141.7ZM365.5,132.7L365.8,133.6L367.7,134.9L370.3,134.3L371.1,133.5L368.7,129.4L366.0,130.0ZM367.5,140.0L367.9,140.8L368.6,141.1L370.2,140.6L372.8,136.7L371.8,134.8L371.0,134.6L368.0,135.6ZM311.0,166.4L310.4,167.0L310.4,168.1L313.8,170.9L315.0,170.9L316.0,170.1L316.3,166.7L315.8,165.8L313.7,165.8ZM308.0,180.7L307.7,181.7L308.7,184.9L310.9,185.8L311.9,185.6L313.1,181.0L312.8,180.1L309.8,179.2ZM309.7,178.1L310.3,178.7L313.2,179.6L314.9,179.1L315.4,178.5L315.6,177.2L314.2,173.2L313.1,173.1L309.1,175.4L309.0,176.3ZM312.7,184.8L313.0,185.7L313.4,186.0L316.7,186.8L317.4,186.1L318.4,182.3L315.9,179.8L314.8,179.6L313.7,180.6ZM320.7,188.3L317.6,187.1L316.9,187.6L316.5,191.1L316.9,192.0L318.3,192.8L320.8,191.2L321.2,190.2ZM316.6,177.5L315.9,178.4L316.2,179.4L318.5,181.6L319.3,181.9L321.7,181.5L323.2,177.7L322.6,176.5L321.9,176.0ZM324.7,184.7L325.5,185.0L326.5,184.6L328.0,182.3L328.1,181.5L327.3,178.9L324.1,178.1L323.4,178.7L322.4,181.7ZM325.6,204.3L325.6,205.1L326.3,205.6L329.7,205.5L330.2,204.7L330.1,202.7L329.1,201.5L327.0,201.6ZM326.8,192.7L326.7,193.6L327.0,194.0L330.7,196.5L333.0,196.0L333.7,195.5L333.7,192.8L333.1,191.9L328.7,190.3L327.9,190.8ZM328.5,181.0L329.4,181.8L332.9,181.8L333.5,181.1L333.8,178.8L333.3,178.1L329.9,176.9L328.0,178.7ZM330.6,197.6L329.7,201.1L330.4,201.9L334.2,201.4L335.7,198.6L335.7,197.7L333.9,196.3L331.3,196.9ZM306.5,212.4L307.0,213.2L307.4,213.2L308.4,212.5L308.2,208.4L307.6,207.6L306.3,208.1L305.8,208.9ZM318.6,207.2L314.2,207.1L313.8,207.9L315.1,210.1L317.4,210.2L318.2,209.7L319.0,207.9ZM306.9,221.7L306.2,222.4L306.6,223.7L307.5,225.7L308.6,226.1L310.5,224.0L310.6,223.0L309.8,221.6L309.2,221.2ZM308.3,213.2L306.6,214.9L306.9,216.0L310.1,218.4L313.4,216.4L312.9,214.4L309.3,213.0ZM310.6,229.3L309.8,229.5L309.7,230.3L310.5,232.8L311.4,233.3L312.8,232.2L313.0,231.5L312.5,230.0ZM313.4,231.4L314.0,232.0L315.6,232.6L318.3,231.0L318.4,230.1L317.3,227.5L315.2,227.3L314.3,227.7L313.1,229.9ZM317.4,220.7L319.8,223.5L320.8,223.4L323.6,221.2L323.6,220.3L322.0,217.8L319.2,217.4L317.3,218.5ZM324.4,206.9L323.8,207.7L324.4,208.9L324.9,209.3L328.4,208.0L328.8,207.4L328.4,206.7L328.0,206.6ZM319.7,213.0L319.3,216.4L320.2,217.0L321.6,217.2L322.4,216.9L324.9,214.1L324.3,212.5L323.3,212.0L320.2,212.3Z" fill="#f0c8cc"/>
<path d="M503.3,60.8 C504.0,58.7 505.4,56.2 508.5,52.0 C511.6,47.8 514.4,44.7 519.0,39.8 C523.6,34.9 526.4,31.5 531.3,27.5 C536.2,23.5 539.7,21.3 543.6,19.6 C547.5,17.9 546.4,19.0 550.6,18.8 C554.8,18.6 560.4,17.8 564.6,18.8 C568.8,19.8 571.2,20.9 571.6,24.0 C572.0,27.1 567.4,30.3 566.4,34.5 C565.4,38.7 565.5,41.5 566.4,45.0 C567.3,48.5 571.8,48.8 570.7,52.0 C569.6,55.2 563.6,57.3 561.0,60.8 C558.4,64.3 559.3,67.3 557.6,69.6 C555.9,71.9 554.8,72.2 552.3,72.2 C549.8,72.2 548.4,69.4 545.3,69.6 C542.2,69.8 540.8,73.4 536.6,73.0 C532.4,72.6 527.1,69.5 524.3,67.8 C521.5,66.1 524.7,65.2 522.6,64.3 C520.5,63.4 517.3,63.7 513.8,63.4 C510.3,63.1 507.1,63.1 505.0,62.6 C502.9,62.1 502.6,62.9 503.3,60.8Z" fill="#d3d2d2" stroke="#d3d2d2" stroke-width="0.6"/>
<path d="M503.3,66.0 C506.8,64.2 508.2,66.7 513.8,67.8 C519.4,68.9 525.0,69.9 531.3,71.3 C537.6,72.7 540.8,73.7 545.3,74.8 C549.8,75.9 550.1,75.6 554.0,76.6 C557.9,77.6 561.4,77.6 564.6,80.0 C567.8,82.4 568.3,85.3 569.9,88.8 C571.5,92.3 572.9,94.8 572.5,97.6 C572.1,100.4 569.1,99.3 568.0,102.8 C566.9,106.3 567.2,110.4 567.2,115.3 C567.2,120.2 567.1,123.3 568.0,127.5 C568.9,131.7 571.6,133.1 571.6,136.3 C571.6,139.5 570.1,140.5 568.0,143.3 C565.9,146.1 562.7,148.4 561.0,150.3 C559.3,152.2 573.3,147.7 559.3,153.0 C545.3,158.3 505.5,172.2 491.0,176.6 C476.5,181.0 488.3,178.0 486.6,174.8 C484.9,171.6 483.7,166.8 482.3,160.8 C480.9,154.8 480.0,149.9 479.6,145.0 C479.2,140.1 480.0,142.9 480.5,136.3 C481.0,129.7 481.6,117.8 482.3,111.8 C483.0,105.8 482.6,111.0 484.0,106.4 C485.4,101.8 486.8,94.8 489.3,88.8 C491.8,82.8 493.5,81.2 496.3,76.6 C499.1,72.0 499.8,67.8 503.3,66.0Z" fill="#d3d2d2" stroke="#d3d2d2" stroke-width="0.6"/>
<path d="M491.0,178.6 C506.4,172.9 545.9,157.5 561.0,155.0 C576.1,152.5 564.6,161.7 566.4,166.0 C568.2,170.3 569.2,172.7 569.9,176.6 C570.6,180.5 571.0,181.8 569.9,185.3 C568.8,188.8 567.1,189.1 564.6,194.0 C562.1,198.9 559.4,205.2 557.6,210.0 C555.8,214.8 556.5,215.9 555.8,218.0 C555.1,220.1 555.4,218.2 554.0,220.5 C552.6,222.8 551.6,227.0 548.8,229.3 C546.0,231.6 545.2,232.0 540.0,232.0 C534.8,232.0 529.6,230.2 522.6,229.3 C515.6,228.4 512.0,228.9 505.0,227.5 C498.0,226.1 492.0,224.7 487.5,222.3 C483.0,219.9 483.3,220.2 482.3,215.3 C481.3,210.4 482.0,203.9 482.3,197.6 C482.6,191.3 482.3,187.4 484.0,183.6 C485.7,179.8 475.6,184.3 491.0,178.6Z" fill="#d3d2d2" stroke="#d3d2d2" stroke-width="0.6"/>
<path d="M484.0,236.3 C487.2,230.3 490.3,233.9 496.3,232.8 C502.3,231.7 506.8,231.0 513.8,231.0 C520.8,231.0 524.7,232.1 531.3,232.8 C537.9,233.5 542.8,233.1 547.0,234.5 C551.2,235.9 551.1,236.6 552.3,239.8 C553.5,243.0 552.5,246.1 553.2,250.3 C553.9,254.5 553.5,255.9 555.8,260.8 C558.1,265.7 560.8,269.6 564.6,274.8 C568.4,280.0 571.3,283.2 575.0,287.0 C578.7,290.8 580.8,291.0 583.0,294.0 C585.2,297.0 585.3,297.8 586.0,302.0 C586.7,306.2 586.5,310.1 586.5,315.0 C586.5,319.9 591.3,324.2 586.0,326.5 C580.7,328.8 570.3,327.1 560.0,326.3 C549.7,325.5 543.0,324.6 534.5,322.7 C526.0,320.8 526.1,320.0 517.4,317.0 C508.7,314.0 497.4,310.3 490.9,307.5 C484.4,304.7 486.7,306.7 485.0,303.0 C483.3,299.3 483.4,293.4 482.3,288.8 C481.2,284.2 480.0,285.2 479.6,280.0 C479.2,274.8 479.6,271.3 480.5,262.6 C481.4,253.9 480.8,242.3 484.0,236.3Z" fill="#d3d2d2" stroke="#d3d2d2" stroke-width="0.6"/>
<path d="M481.4,311.4 C483.9,309.6 483.7,308.2 490.9,309.8 C498.1,311.4 508.7,316.3 517.4,319.3 C526.1,322.3 526.1,323.1 534.5,325.0 C542.9,326.9 548.9,327.6 559.2,328.6 C569.5,329.6 580.7,326.4 586.0,329.8 C591.3,333.2 586.2,339.3 585.8,345.5 C585.4,351.7 583.9,354.6 583.9,360.7 C583.9,366.8 585.8,371.0 585.8,375.9 C585.8,380.8 583.9,379.7 583.9,385.4 C583.9,391.1 586.9,399.8 585.8,404.4 C584.7,409.0 581.2,404.8 578.2,408.2 C575.2,411.6 573.6,416.6 570.6,421.5 C567.6,426.4 566.8,428.4 563.0,432.9 C559.2,437.4 555.8,440.8 551.6,444.2 C547.4,447.6 545.9,448.5 542.1,450.0 C538.3,451.5 537.2,452.6 532.6,451.8 C528.0,451.0 524.2,448.8 519.3,446.1 C514.4,443.4 512.2,443.0 508.0,438.5 C503.8,434.0 501.9,429.8 498.5,423.4 C495.1,417.0 493.6,412.8 490.9,406.3 C488.2,399.8 487.1,397.2 485.2,391.1 C483.3,385.0 482.5,382.7 481.4,375.9 C480.3,369.1 480.1,364.6 479.5,357.0 C478.9,349.4 478.7,345.6 478.5,338.0 C478.3,330.4 477.9,324.3 478.5,319.0 C479.1,313.7 478.9,313.2 481.4,311.4Z" fill="#d3d2d2" stroke="#d3d2d2" stroke-width="0.6"/>
<path d="M505.1,58.7L504.4,60.8L504.7,61.5L505.4,61.9L506.7,61.9L507.5,61.1L507.9,59.2L507.2,58.2L506.2,57.9ZM509.5,60.1L509.5,61.2L510.1,62.0L511.0,62.4L513.3,62.6L514.2,62.4L514.9,61.7L515.2,59.1L514.4,57.7L513.3,57.2L510.5,58.4ZM509.0,52.7L507.3,55.5L507.6,56.3L508.2,56.9L509.1,57.1L511.6,56.0L512.2,55.3L512.4,54.5L511.9,53.0L510.5,52.1L509.7,52.2ZM515.3,52.0L514.6,53.2L514.5,54.6L515.1,55.8L516.2,56.6L517.6,56.8L523.8,56.0L524.9,55.6L525.8,54.7L526.4,51.8L526.2,50.4L525.3,49.3L524.0,48.7L520.7,48.3L519.4,48.4L518.3,49.0ZM516.8,60.7L517.1,61.8L517.8,62.5L522.6,63.1L524.7,61.5L525.3,60.6L525.4,59.5L525.0,58.5L524.1,57.9L523.0,57.7L518.7,58.3L517.7,58.7L517.0,59.5ZM527.7,44.0L528.6,45.4L530.0,46.2L531.6,46.2L537.0,44.9L538.5,44.0L539.4,42.5L539.3,40.7L537.8,36.2L536.6,34.6L534.7,34.0L532.0,34.0L530.4,34.5L529.3,35.6L526.9,40.1ZM559.3,30.0L557.8,30.1L556.6,31.1L556.1,32.5L555.9,35.6L556.2,37.0L557.2,38.1L558.6,38.5L562.4,38.6L563.7,38.3L564.7,37.5L565.2,36.3L565.7,32.6L564.9,31.3L563.5,30.7ZM558.6,21.4L558.8,22.3L559.4,22.9L560.3,23.2L562.2,22.3L562.8,21.8L563.1,20.9L562.9,20.1L562.3,19.5L560.3,19.1L559.5,19.3L558.9,19.9ZM566.4,48.1L565.5,49.1L566.0,50.3L566.7,50.6L567.9,50.2L568.1,49.0L567.7,48.4ZM562.3,24.2L561.3,25.0L560.9,26.2L561.2,27.5L561.9,28.5L563.1,29.0L566.3,29.5L567.7,29.3L568.8,28.4L570.2,26.2L570.8,24.4L570.4,22.8L569.5,21.7L568.2,21.3L566.8,21.6ZM485.2,142.6L486.4,143.2L487.7,143.0L491.3,140.8L491.6,139.8L491.4,138.7L490.2,136.5L487.3,135.5L486.0,135.6L485.0,136.3L484.6,137.5L484.4,140.8L484.6,141.8ZM482.4,150.3L481.5,151.2L481.4,152.4L481.9,155.2L482.5,156.3L483.7,156.8L485.5,156.6L486.3,155.6L487.5,152.6L487.6,151.6L487.2,150.7L485.9,149.3L485.0,149.1ZM488.9,168.4L486.9,165.9L486.0,165.8L485.3,166.2L484.8,166.9L485.5,169.9L485.9,170.6L486.6,170.9L488.1,170.7L489.1,169.7ZM488.7,154.0L487.7,157.2L488.1,158.4L489.1,159.1L490.3,159.4L495.3,159.0L496.5,158.5L497.3,157.6L497.5,156.3L497.0,154.0L496.2,153.2L495.2,152.8L491.1,152.5L489.6,152.8ZM486.9,124.2L487.7,125.2L488.9,125.5L491.2,125.1L492.0,124.1L492.1,122.9L491.3,119.0L490.8,118.1L490.0,117.5L488.9,117.3L487.9,117.6L485.8,119.3L485.5,120.3L485.6,121.2ZM498.1,75.0L496.6,78.2L496.8,79.2L497.5,79.9L498.7,80.5L502.3,79.5L503.2,78.8L503.6,77.8L502.6,75.3L501.7,74.5L499.7,73.9L498.8,74.2ZM508.4,67.0L507.1,66.8L505.9,67.4L505.2,68.6L503.9,74.0L504.6,75.6L505.6,76.5L507.0,76.8L508.3,76.2L511.1,73.4L511.1,69.5L510.6,68.2ZM499.2,151.6L498.8,153.3L499.1,155.8L499.8,157.6L501.4,158.6L507.9,160.5L509.5,160.5L510.8,159.8L512.3,158.3L512.7,155.9L512.5,154.5L511.7,153.4L508.3,150.1L507.1,149.4L505.8,149.2L501.8,149.7L500.4,150.2ZM520.5,117.6L519.7,119.6L519.5,123.8L519.7,125.1L520.4,126.2L525.0,130.8L526.1,131.6L527.3,131.8L535.0,131.7L536.3,131.4L537.4,130.5L540.5,126.9L541.2,125.4L541.1,123.7L540.1,122.4L532.0,115.6L530.8,115.0L529.4,114.9L523.0,116.0L521.1,117.0ZM522.1,161.1L521.3,161.7L520.9,162.7L521.0,163.7L521.6,164.5L522.6,165.0L523.6,164.9L527.8,163.4L528.6,162.9L529.1,162.0L529.0,160.7L528.4,159.7L527.4,159.2L526.2,159.3ZM537.8,142.1L538.2,143.5L539.1,144.6L542.0,146.8L544.0,147.5L549.1,147.3L550.5,147.0L551.6,146.1L555.0,141.4L555.6,140.0L555.5,138.5L554.7,137.2L545.8,128.4L544.3,127.6L542.6,127.6L541.2,128.6L538.4,131.8L537.6,134.0ZM540.2,74.3L538.9,74.6L538.4,75.8L538.7,77.6L539.8,78.3L541.0,77.8L542.0,76.1L541.6,74.9ZM547.5,121.4L545.7,123.7L545.7,125.4L546.5,126.8L556.1,136.3L557.8,137.2L559.7,136.9L561.5,135.8L562.6,134.4L563.3,132.2L562.8,124.8L562.4,123.4L561.3,122.3L559.2,121.0L557.5,120.6L549.7,120.5ZM554.1,150.8L552.7,150.5L551.6,151.4L551.6,152.9L552.0,153.8L552.7,154.3L554.2,154.0L555.2,152.9L555.2,152.1ZM556.5,80.7L556.4,81.8L556.9,82.7L557.8,83.1L560.1,83.6L561.2,83.5L562.0,82.8L562.8,80.8L562.5,79.9L561.6,79.2L559.0,78.5L557.4,78.9ZM568.2,133.5L564.5,134.6L564.0,135.4L563.9,136.3L564.2,137.2L567.9,139.2L569.0,139.4L570.0,138.9L570.6,137.9L570.8,136.5L570.6,135.2L570.0,133.9L569.2,133.5ZM484.1,205.7L483.0,206.4L482.6,207.6L482.6,210.9L483.0,212.0L483.9,212.7L486.7,212.5L487.7,212.0L488.3,211.1L488.3,210.0L487.5,206.9L487.0,205.9L486.0,205.4ZM504.4,179.1L506.0,179.3L507.4,178.1L507.8,177.3L507.5,175.4L507.0,174.5L506.2,174.1L503.2,174.9L502.4,175.5L502.0,176.4L502.2,177.3L502.8,178.1ZM492.6,212.9L491.6,213.3L490.9,214.3L490.8,215.4L491.6,218.7L492.3,219.4L493.3,219.6L496.4,219.7L497.6,219.4L498.4,218.5L498.7,217.4L498.2,216.2L496.3,213.5L495.3,212.7ZM497.2,210.0L497.1,211.3L497.6,212.6L499.6,215.3L500.8,216.3L502.3,216.4L503.9,215.8L504.7,214.9L506.3,211.7L506.6,210.2L506.0,208.8L504.3,206.5L503.1,205.7L501.7,205.5L499.0,206.4L498.2,207.5ZM514.3,222.0L513.5,222.6L513.1,223.5L513.4,226.1L514.2,227.4L515.5,227.9L518.3,228.1L519.3,227.9L520.1,227.4L520.6,226.5L521.3,223.7L520.9,222.8L520.2,222.2L517.6,220.8ZM518.5,208.9L517.8,210.1L517.7,211.4L518.3,217.5L518.7,218.9L519.7,220.0L521.8,221.2L524.0,221.7L526.9,220.8L532.6,216.1L533.6,214.7L533.7,213.0L532.9,211.4L527.6,205.9L526.3,205.1L522.9,205.2L521.0,206.2ZM513.7,176.9L514.9,176.5L515.7,175.6L516.4,173.5L516.5,172.4L516.0,171.4L515.0,170.8L513.8,170.9L510.3,172.2L509.5,172.8L509.0,173.7L509.2,175.3L509.9,176.4L511.1,176.8ZM520.4,181.8L521.8,182.7L523.5,182.7L524.9,181.8L528.7,177.6L529.4,176.1L529.3,174.5L528.3,173.2L526.3,172.0L525.1,172.0L520.1,172.8L518.6,173.4L517.3,175.9L517.1,177.5L517.8,178.9ZM528.3,165.7L527.3,166.4L526.7,167.6L527.1,169.7L527.9,170.9L531.4,173.6L532.5,174.1L533.7,174.0L534.7,173.3L535.3,172.3L535.4,171.1L534.6,166.6L533.9,165.3L532.7,164.6L531.3,164.7ZM528.4,201.8L528.3,203.6L529.1,205.1L534.0,210.3L535.5,211.2L537.3,211.1L542.3,209.5L543.7,208.5L544.4,206.9L546.1,195.3L545.9,193.7L544.9,192.4L543.5,191.7L541.9,191.8L532.2,195.1L531.0,195.8L530.3,197.0ZM538.6,228.5L538.6,229.5L538.9,230.3L539.7,231.0L540.6,231.2L545.2,230.7L546.3,229.9L546.7,228.8L546.4,227.6L545.5,226.5L541.4,225.7L540.4,225.7L539.6,226.2ZM537.9,212.6L536.4,213.6L535.8,215.3L536.1,217.1L538.9,222.3L539.8,223.5L541.2,224.0L543.7,224.4L545.5,224.2L546.8,223.0L548.6,220.3L549.1,218.5L548.6,216.7L545.6,212.5L544.0,211.3L542.0,211.3ZM568.4,183.6L566.9,183.6L566.3,184.2L566.2,185.0L566.6,186.1L567.8,186.6L568.9,185.7L569.1,184.7ZM557.5,200.7L558.5,201.8L560.0,201.6L560.7,200.4L560.6,198.9L559.6,198.1L558.7,198.0L557.9,198.3L557.4,198.9ZM560.1,193.1L559.3,193.4L558.8,194.1L558.6,194.9L558.9,195.7L560.4,196.7L561.3,197.0L562.1,196.7L563.1,195.3L563.2,194.4L562.9,193.6L562.2,193.0ZM563.7,176.4L562.8,177.0L562.3,178.1L562.5,179.2L563.2,180.1L564.8,181.3L566.0,181.8L568.5,181.5L569.4,180.6L569.5,179.2L569.2,177.1L568.6,176.0L567.6,175.4L566.3,175.4ZM483.4,281.6L482.4,281.6L481.5,282.1L481.1,283.0L482.0,285.4L482.6,286.1L483.4,286.4L484.3,286.2L485.0,285.6L485.9,283.9L485.4,282.5ZM487.6,297.5L487.0,296.9L486.1,296.7L485.2,297.0L484.7,297.7L484.6,298.6L485.1,300.0L485.8,300.5L486.7,300.6L487.6,300.0L488.1,298.7ZM500.5,232.9L499.4,233.4L498.8,234.5L498.5,237.4L498.9,238.2L499.6,238.7L501.5,239.5L503.2,239.5L504.7,237.9L505.1,237.0L504.2,233.9L503.7,233.2L503.0,232.7ZM504.5,292.6L505.0,294.0L506.1,294.9L507.5,295.2L511.4,295.1L512.7,294.7L513.7,293.8L514.2,292.5L514.0,291.1L512.4,286.9L511.6,285.7L510.4,285.1L509.0,285.1L506.2,285.8L505.0,286.4L504.2,287.5L504.1,288.9ZM502.6,307.9L501.6,309.1L502.0,310.6L504.8,311.8L505.7,311.9L506.5,311.5L507.1,310.4L507.1,309.3L506.5,308.4L504.5,307.3ZM513.7,310.4L513.3,309.5L512.5,308.9L510.0,309.3L509.3,309.7L508.8,310.4L508.4,312.1L508.9,313.0L509.6,313.5L512.5,314.2L513.3,313.9L513.9,313.1ZM513.7,276.5L514.8,277.8L516.5,278.2L527.3,278.2L529.4,277.5L531.0,276.1L532.0,274.5L532.0,272.7L530.3,267.0L529.4,265.6L527.9,264.8L521.7,263.6L520.1,263.6L518.8,264.5L512.9,270.4L512.0,272.2L512.4,274.1ZM517.8,243.0L518.3,244.2L519.4,245.0L520.7,245.3L525.2,245.0L526.5,244.6L527.4,243.7L527.8,242.5L527.7,241.2L526.7,238.6L525.2,237.0L522.9,236.0L521.5,235.8L520.2,236.2L518.4,237.3L517.3,238.6L517.2,240.3ZM537.2,238.5L537.4,239.6L538.3,240.5L539.4,240.8L543.3,240.5L544.1,239.8L544.5,238.8L544.5,235.8L543.8,234.9L542.8,234.4L539.6,234.2L538.5,234.4L537.6,235.2L537.3,236.3ZM531.9,263.4L531.5,264.6L531.6,265.9L533.7,272.9L534.5,274.1L535.6,274.9L543.8,278.1L545.4,278.3L546.9,277.7L547.9,276.4L549.3,272.9L549.9,265.9L549.6,264.1L546.7,258.7L545.6,257.5L543.1,256.8L536.7,257.5L535.3,258.0L534.2,259.1ZM539.5,315.3L538.8,316.5L538.7,317.9L539.1,320.6L539.9,322.4L541.7,323.3L542.9,323.5L544.7,323.3L546.1,322.2L548.6,318.7L549.2,316.9L549.3,312.8L548.9,311.3L547.9,310.1L546.5,309.5L545.0,309.7L543.7,310.6ZM533.7,244.8L532.7,246.4L532.7,248.2L534.3,253.5L535.1,254.8L536.3,255.6L537.8,255.8L541.9,255.3L543.5,254.7L544.6,253.3L546.6,248.2L546.7,245.9L546.1,244.4L544.9,242.9L543.1,242.3L537.6,242.4L535.6,243.2ZM546.1,238.9L546.2,239.7L546.7,240.4L547.5,240.7L549.8,239.8L550.4,239.2L550.7,238.5L550.5,237.6L549.8,236.7L547.8,235.8L546.5,236.5ZM553.9,272.7L552.8,273.7L552.4,275.0L552.8,276.4L553.9,277.4L555.4,277.6L559.5,277.0L561.1,276.2L562.2,274.6L562.3,273.4L561.3,271.6L560.4,270.8L559.2,270.5L558.0,270.7ZM551.3,268.6L551.5,269.7L552.2,270.6L553.2,270.9L554.3,270.7L557.0,269.4L557.9,268.7L558.2,267.5L557.0,265.0L556.3,264.2L555.3,263.9L552.7,264.8L551.8,265.5ZM561.3,300.9L561.8,302.5L563.0,303.7L564.6,304.0L572.9,303.7L574.6,303.1L575.8,301.6L576.5,299.5L576.5,297.4L575.0,293.8L573.9,293.1L568.8,290.8L567.2,290.5L565.6,291.1L562.5,293.3L561.5,294.5L561.2,296.0ZM575.9,289.3L573.6,287.0L572.1,287.2L571.0,288.3L570.9,289.1L571.2,289.9L571.9,290.4L574.5,291.3L575.4,291.0L575.9,290.2ZM479.5,316.8L480.0,317.9L481.3,318.0L482.0,317.2L482.2,316.2L481.2,315.1L480.5,315.1L479.9,315.5ZM485.7,384.7L484.7,386.2L484.8,387.1L485.9,390.7L486.6,391.6L487.7,392.1L488.9,391.8L490.2,391.0L491.1,390.2L491.3,389.0L490.8,387.9L487.6,384.5L486.7,384.4ZM500.6,313.7L497.8,312.9L497.0,313.3L496.4,314.0L496.3,316.5L496.9,317.8L498.1,318.8L499.7,319.3L500.7,318.8L501.4,317.6L501.7,315.0ZM498.0,398.5L498.8,400.4L499.9,401.4L501.3,402.1L502.8,401.9L505.5,400.6L506.4,399.9L507.0,398.8L506.2,394.6L505.7,393.5L504.7,392.8L503.5,392.6L500.3,392.9L499.0,393.3L498.2,394.3L497.9,395.6ZM501.4,407.5L501.7,409.2L502.9,410.6L506.3,412.7L508.2,413.1L510.0,412.3L512.9,409.8L513.8,408.3L513.8,406.6L512.4,403.0L511.3,402.3L508.4,401.3L507.1,401.6L503.4,403.4L502.2,404.4L501.6,405.8ZM499.9,345.6L500.0,347.6L501.3,349.2L505.5,351.9L507.8,352.3L511.5,351.5L513.2,350.6L514.0,348.8L514.2,347.4L514.0,345.8L513.0,344.4L508.2,340.8L506.4,340.2L504.6,340.6L501.8,342.3L500.3,344.2ZM502.0,422.4L501.1,422.6L500.4,423.2L500.1,424.1L500.3,425.1L501.5,427.0L502.4,427.3L503.2,427.2L505.0,425.5L505.4,424.6L505.3,423.6L504.7,422.8ZM509.2,420.2L509.6,421.7L510.6,422.8L512.5,424.1L514.1,424.6L515.8,424.3L523.7,420.2L525.1,418.7L525.3,416.7L524.9,414.4L524.1,412.9L522.7,412.0L517.2,410.2L515.6,410.1L514.1,410.9L510.3,414.3L509.5,415.4L509.2,416.7ZM516.3,352.8L518.0,354.0L529.3,357.0L531.0,357.0L532.4,356.1L533.2,354.6L534.4,348.5L534.4,347.2L533.9,346.0L531.2,342.4L530.2,341.5L528.9,341.1L523.5,340.6L521.2,341.3L517.0,344.8L515.9,346.9L515.4,350.2L515.5,351.4ZM516.5,319.8L513.2,318.9L512.3,319.2L511.6,320.0L511.4,320.9L513.0,324.6L513.8,325.5L514.9,325.8L516.0,325.4L516.7,324.6L517.6,322.6L517.8,321.5L517.4,320.5ZM525.3,394.8L523.8,394.1L522.1,394.2L520.8,395.1L515.4,401.1L514.6,402.5L514.7,404.2L515.4,406.5L516.2,407.8L517.5,408.6L522.7,410.3L524.7,410.4L526.3,409.2L530.6,403.5L531.3,402.0L531.1,400.4L530.2,399.1ZM516.4,440.6L515.9,441.8L516.1,443.1L517.1,444.1L519.4,445.2L520.5,445.5L521.6,445.1L522.4,444.2L523.8,441.6L524.0,440.3L523.6,439.1L522.5,438.4L520.6,437.7L519.2,437.7L518.1,438.5ZM523.9,445.0L523.6,446.2L524.0,447.4L525.0,448.2L527.0,449.2L528.1,449.4L529.2,449.0L530.0,448.2L530.4,447.0L530.5,442.1L530.2,440.8L529.3,439.9L528.0,439.6L526.8,440.0L525.9,440.9ZM518.7,324.2L518.5,325.3L518.9,326.3L519.7,327.0L520.8,327.1L523.8,326.7L524.8,326.2L525.4,325.4L525.5,324.3L525.1,323.4L524.2,322.7L520.9,321.7L519.9,322.1ZM521.8,337.1L522.9,338.5L524.5,339.1L527.8,339.4L529.2,339.2L530.3,338.4L531.1,337.3L532.0,334.6L532.1,332.8L531.1,331.2L528.5,328.8L527.3,328.1L525.9,328.0L522.7,328.4L521.0,329.2L520.0,330.9L520.2,332.7ZM531.9,448.7L532.2,449.9L532.9,450.8L534.0,451.2L535.8,451.2L536.8,450.9L537.6,450.2L538.5,444.9L538.4,443.8L537.7,442.9L535.1,441.8L534.0,441.8L533.0,442.2L532.3,443.0L532.0,444.1ZM556.4,339.7L556.7,341.1L557.7,342.3L559.1,342.9L560.6,342.8L561.9,342.1L565.8,338.1L566.7,336.7L566.7,335.0L565.8,331.9L564.7,330.3L562.9,329.6L560.1,329.4L558.4,329.8L557.2,330.9L556.7,332.5ZM548.1,435.3L548.2,436.8L549.1,438.0L553.2,440.6L554.3,440.5L555.3,439.9L557.2,437.7L557.4,436.6L557.1,435.6L555.3,432.6L554.3,431.6L552.8,431.4L550.6,431.7L549.3,432.4L548.5,433.6ZM561.9,344.3L561.1,345.5L561.0,346.9L561.5,348.3L562.6,349.3L569.7,353.5L571.3,353.9L573.0,353.5L574.1,352.3L578.6,344.3L578.9,341.9L577.8,338.5L575.9,337.1L573.7,336.8L569.4,337.6L567.7,338.5ZM575.7,391.2L575.2,392.5L575.6,393.9L576.6,394.8L577.9,395.0L581.7,394.6L582.9,394.1L583.7,393.1L583.8,391.8L583.4,389.0L583.0,387.9L582.1,387.1L580.9,386.9L578.8,387.2L578.0,387.9ZM577.4,349.7L577.1,350.9L577.5,352.1L578.4,352.9L579.6,353.2L583.1,352.8L583.8,352.1L584.3,351.1L584.7,346.7L584.1,345.8L582.4,344.9L581.3,344.8L580.2,345.2L579.5,346.0Z" fill="#efc6ca"/>
<path d="M524.2,64.5L524.2,66.4L525.0,67.3L527.2,68.3L528.1,68.1L528.8,67.4L529.1,66.5L529.2,63.9L529.0,62.9L528.1,62.1L527.1,62.0L526.1,62.4L524.7,63.7ZM530.5,48.1L528.9,49.1L528.1,50.9L527.6,55.4L527.9,57.2L529.4,59.5L531.5,60.4L539.7,60.5L541.5,60.0L542.5,59.3L543.7,57.8L546.3,51.3L546.5,49.7L546.0,48.3L544.8,47.3L542.4,46.0L540.2,45.7ZM545.2,19.8L544.3,20.5L543.9,21.6L544.1,22.7L545.5,25.2L546.2,25.9L547.1,26.2L549.2,26.1L550.0,25.6L550.4,24.7L550.5,23.8L549.9,21.1L549.2,20.0L547.1,19.4ZM532.7,71.2L534.1,71.3L535.4,70.7L538.7,67.6L539.5,66.0L539.7,65.0L539.4,63.6L538.5,62.5L537.1,62.1L533.5,62.0L532.2,62.3L531.2,63.2L530.8,64.5L530.6,68.5L531.1,70.1ZM541.4,68.0L542.1,68.7L543.1,69.1L547.2,68.5L548.1,67.5L548.3,66.2L547.8,65.0L545.5,62.3L544.4,61.6L543.1,61.6L542.0,62.3L541.5,63.5L541.1,66.4ZM552.7,44.4L552.3,45.9L552.6,47.4L553.5,48.6L554.9,49.2L560.3,50.1L561.9,49.9L563.3,49.0L564.8,47.3L565.5,46.0L565.1,42.8L564.6,41.5L563.5,40.6L562.1,40.2L557.2,40.1L555.6,40.5L554.4,41.6ZM557.6,58.4L558.3,59.3L559.3,59.7L560.5,59.7L562.5,58.2L563.1,57.3L563.3,56.2L563.1,55.2L561.1,52.1L558.6,51.4L557.3,51.5L556.3,52.3L555.8,53.5L556.0,54.7ZM484.7,158.5L483.4,159.1L483.0,160.5L484.0,163.7L484.8,164.1L485.6,164.2L486.3,163.7L486.7,163.0L487.2,160.6L485.8,158.7ZM482.1,142.9L481.2,143.1L480.6,143.8L480.4,144.7L480.9,147.6L482.2,148.3L484.3,147.4L484.9,146.9L485.2,145.8L485.2,145.0L483.7,143.4ZM482.0,126.0L482.6,127.4L484.2,127.7L485.2,126.9L485.7,126.1L485.6,125.2L484.7,123.6L483.9,123.3L483.0,123.4L482.4,124.0ZM484.4,107.7L484.4,108.6L484.8,109.4L486.5,109.9L487.3,109.8L488.0,109.3L488.8,107.8L487.7,105.8L487.0,105.3L486.1,105.2L485.3,105.6ZM491.9,169.3L491.0,169.9L490.5,170.9L490.7,172.0L492.3,174.5L493.1,174.9L494.0,174.8L496.2,173.8L496.6,172.8L496.9,170.6L496.8,169.6L496.2,168.9L495.4,168.5L494.4,168.5ZM493.8,123.3L494.4,124.6L495.5,125.4L496.9,125.6L498.2,125.1L501.6,122.7L502.7,120.9L503.3,118.4L503.2,117.2L502.7,116.0L501.7,115.3L499.8,114.7L498.6,115.0L494.6,116.8L493.7,117.6L493.1,118.7L493.1,120.0ZM488.7,100.0L487.7,100.8L487.4,102.1L487.8,103.3L489.7,105.8L490.7,106.6L491.9,106.7L494.5,105.9L495.2,105.1L495.4,104.1L493.3,100.1L492.5,99.3L491.5,99.0ZM497.8,165.3L497.9,166.5L498.7,167.5L499.8,168.1L502.5,168.6L504.0,168.5L505.1,167.5L506.7,165.2L507.1,164.1L506.9,162.9L506.3,161.9L505.2,161.4L501.4,160.3L499.9,160.3L498.7,161.1L498.1,162.4ZM489.7,90.0L489.6,91.2L490.2,92.2L492.6,94.1L493.5,94.1L494.4,93.7L495.7,92.7L496.4,91.6L496.3,90.3L495.7,88.8L495.1,88.0L494.2,87.6L491.7,87.3L490.9,87.7ZM492.8,83.5L492.7,85.0L493.1,85.6L494.3,86.0L495.2,85.8L495.9,85.1L496.9,83.1L496.9,81.7L496.2,81.0L495.4,80.8L494.7,80.9ZM498.9,103.9L497.7,105.0L497.2,106.6L497.6,108.2L499.8,112.1L501.3,113.3L502.9,113.6L504.4,113.0L505.4,111.8L508.0,105.5L508.2,104.1L507.8,102.7L506.7,101.7L505.3,101.3L503.9,101.6ZM498.4,171.3L498.9,172.5L499.6,172.8L500.8,172.6L501.7,171.6L501.3,170.2L500.2,169.8L499.4,169.8L498.8,170.3ZM497.8,89.9L498.7,91.0L499.9,91.6L501.9,92.0L503.7,91.8L505.0,90.6L507.3,86.4L507.7,85.1L507.4,83.7L505.7,81.3L504.5,80.8L503.2,80.9L499.3,82.4L497.3,86.0L497.0,87.1ZM511.8,161.1L511.1,162.3L511.2,163.7L512.5,166.6L513.1,167.4L514.1,167.9L515.2,167.8L517.6,167.0L518.6,166.3L519.1,165.2L519.0,164.1L518.6,163.0L517.5,161.8L514.7,160.4L513.5,160.2ZM507.2,111.4L507.0,113.3L508.0,115.0L509.7,115.9L515.8,116.8L517.4,116.6L518.8,115.6L519.4,114.0L519.2,112.3L515.8,105.0L514.6,103.6L512.8,103.1L511.1,103.7L509.9,105.1ZM498.9,140.8L498.2,142.3L498.4,144.0L499.3,146.1L500.5,147.6L502.4,148.0L505.1,147.7L506.6,147.1L507.6,145.7L509.4,140.8L509.5,139.4L509.0,138.0L507.8,137.1L506.4,136.8L503.5,137.0L501.5,138.0ZM507.1,98.0L508.2,99.4L509.8,100.5L511.7,101.1L513.7,101.1L515.8,100.2L522.7,94.1L523.7,92.4L523.5,90.3L522.5,89.0L521.1,88.3L511.7,86.4L509.7,86.7L508.3,88.0L506.0,92.1L505.6,93.5L505.8,94.8ZM510.7,137.1L512.7,138.4L517.2,139.3L518.9,139.2L520.4,138.1L522.9,134.9L523.5,133.5L523.4,132.0L522.6,130.7L520.2,128.3L518.4,127.3L516.4,127.7L512.3,130.0L511.3,130.8L510.1,134.3L510.1,135.6ZM509.2,146.2L509.0,147.9L509.9,149.4L511.7,151.2L513.0,151.9L514.4,152.0L515.7,151.4L519.2,148.7L520.2,147.2L520.2,145.3L519.4,143.0L518.5,141.7L517.2,141.0L514.1,140.3L512.6,140.4L511.4,141.1L510.6,142.2ZM518.0,100.4L517.0,102.2L517.2,104.2L520.9,112.3L522.3,113.8L524.3,114.1L528.0,113.5L529.8,112.6L530.7,110.7L531.9,99.5L531.6,97.6L530.2,96.3L527.4,94.8L525.5,94.5L523.8,95.3ZM508.8,83.0L509.7,84.1L511.0,84.7L519.8,86.4L521.4,86.3L522.8,85.4L523.5,84.0L523.8,81.7L523.2,80.4L520.4,77.0L518.5,75.8L513.9,75.0L512.5,75.1L511.3,75.7L508.9,77.8L508.0,78.9L507.8,80.3ZM524.5,86.9L524.6,88.8L525.5,91.1L527.0,92.8L532.2,95.5L534.3,95.7L542.4,94.1L543.7,93.4L544.7,92.3L544.9,90.8L544.5,89.4L540.1,81.6L538.4,80.1L536.6,79.7L528.5,80.4L526.8,81.1L525.4,83.0ZM521.4,139.4L520.8,140.9L520.9,142.4L522.0,145.6L522.7,146.8L523.9,147.6L527.0,148.8L528.6,149.0L530.1,148.4L535.0,144.7L535.9,143.5L536.2,142.1L536.1,136.4L535.6,134.8L534.4,133.7L532.8,133.3L527.6,133.4L526.2,133.7L525.1,134.6ZM532.1,111.8L532.4,113.3L533.3,114.6L541.2,121.2L542.6,121.9L544.1,121.8L545.5,121.0L546.6,120.0L547.5,118.2L550.3,102.5L550.2,101.0L549.5,99.8L546.2,96.4L544.9,95.6L543.3,95.5L536.0,97.0L534.3,98.0L533.5,99.8ZM531.0,149.7L530.1,150.9L529.9,153.5L530.6,155.3L532.3,156.2L536.2,157.0L537.7,156.9L539.0,156.1L540.7,154.2L541.5,152.4L541.7,150.3L541.4,148.8L540.5,147.7L538.9,146.5L537.1,145.9L535.3,146.5ZM529.5,75.8L529.4,76.8L529.8,77.7L530.6,78.4L531.6,78.5L534.9,78.3L535.9,77.9L536.6,77.1L536.8,76.1L536.3,73.7L535.2,73.0L532.6,72.4L531.6,72.4L530.7,72.9ZM541.0,156.3L540.7,157.5L541.1,158.1L541.7,158.4L542.9,158.0L543.3,156.9L543.0,156.3L542.4,155.9L541.7,155.8ZM546.4,75.9L544.9,76.0L543.7,76.9L542.2,78.9L541.7,80.3L542.0,81.8L544.5,86.0L545.3,86.9L546.5,87.3L547.7,87.2L549.4,85.8L550.0,84.6L550.0,83.4L548.8,78.0L548.1,76.6ZM545.3,149.0L544.3,149.3L543.5,150.0L543.1,152.7L543.5,154.2L544.6,155.8L545.8,156.6L547.2,156.6L549.4,155.5L550.0,154.7L549.8,150.9L549.4,149.9L548.6,149.2ZM552.8,77.1L552.0,77.1L551.2,77.6L550.7,78.3L550.7,79.2L551.6,82.1L552.3,82.5L553.2,82.6L554.0,82.2L554.5,81.5L555.3,78.7L554.8,77.9ZM558.5,102.8L557.3,101.7L555.6,101.3L553.3,101.7L552.3,102.6L551.7,104.0L549.7,115.1L549.9,117.0L551.1,118.4L552.8,118.9L556.7,119.0L558.1,118.6L559.2,117.7L562.5,113.6L563.2,111.8L562.8,109.9ZM561.3,117.8L560.8,118.8L561.0,119.9L563.1,121.5L564.7,121.7L565.6,121.4L566.2,120.7L566.4,117.1L566.2,116.1L565.5,115.4L564.6,115.0L563.6,115.2ZM563.2,83.9L563.0,84.7L563.3,85.4L564.4,86.4L566.2,86.0L566.9,85.5L567.1,84.8L566.6,83.4L565.7,82.3L564.3,82.4ZM486.6,193.8L486.1,195.2L486.4,196.5L488.4,199.9L489.5,200.8L490.9,201.0L492.3,200.4L492.9,199.4L494.1,196.1L494.2,194.8L493.6,193.7L492.5,193.1L489.7,192.2L488.4,192.2ZM483.5,189.1L483.5,191.6L484.7,192.4L486.1,191.9L486.9,190.6L486.4,188.4L485.7,187.9L484.3,187.9ZM495.9,221.3L495.0,221.5L494.4,222.2L494.3,223.1L494.7,224.0L495.4,224.5L496.4,224.5L497.5,223.5L497.6,222.7L496.8,221.5ZM489.0,186.8L488.5,187.9L488.6,189.1L489.2,190.1L490.2,190.7L494.8,192.1L495.8,192.1L497.5,191.4L498.3,190.6L498.7,189.5L498.5,188.4L497.9,187.4L494.7,184.6L493.0,184.0L491.4,184.3ZM500.8,194.5L499.7,193.6L498.2,193.5L496.9,194.1L496.0,195.3L494.7,199.3L494.6,200.9L495.6,202.3L498.4,204.2L501.5,203.9L502.8,203.4L504.0,201.1L504.2,199.7L503.7,198.5ZM508.1,225.0L507.9,226.5L509.1,227.4L510.8,227.4L511.7,226.4L511.5,224.6L511.1,223.9L510.3,223.5L509.5,223.5ZM522.3,226.3L522.3,227.4L522.9,228.2L523.8,228.7L526.5,228.9L527.3,228.3L527.7,227.4L526.7,224.3L525.5,223.2L524.4,223.2L523.5,223.7ZM526.0,183.0L525.3,184.2L525.2,185.6L525.7,186.9L529.1,192.0L530.8,193.2L532.8,193.2L542.3,190.0L543.5,189.2L544.3,187.9L544.4,186.4L543.8,185.0L537.5,176.7L536.1,175.7L533.5,175.6L531.7,176.7ZM546.4,204.2L546.7,206.0L548.1,207.4L549.9,207.8L551.5,207.6L553.4,206.8L555.2,205.1L556.1,203.7L556.2,202.1L554.9,195.9L554.3,194.7L553.1,193.5L550.9,192.7L549.4,193.0L548.2,194.0L547.6,195.4ZM551.3,186.0L550.4,187.7L550.6,189.6L551.9,191.0L553.4,191.8L555.5,192.2L562.3,191.1L563.8,190.4L564.7,189.1L564.9,187.5L564.1,183.1L560.8,180.3L559.4,179.8L557.9,179.9L556.6,180.6ZM548.9,158.9L547.8,159.6L547.1,160.8L547.1,162.1L547.5,163.9L548.2,165.2L549.4,165.9L554.4,167.3L556.1,167.2L557.4,166.2L558.0,164.4L557.4,162.8L554.4,159.0L553.1,158.2L551.5,158.1ZM561.3,160.4L561.5,161.6L562.4,162.5L563.6,162.7L565.8,162.1L566.4,161.3L567.7,158.3L567.8,157.1L567.2,156.1L566.1,155.5L565.2,155.4L562.6,155.9L561.9,156.5L561.6,157.4ZM480.6,270.2L480.7,271.0L481.3,271.7L482.1,271.9L483.5,271.3L484.1,270.7L484.2,269.8L483.4,268.4L482.6,267.9L481.7,268.0L481.0,268.5ZM482.2,250.9L482.1,252.3L483.3,252.9L484.0,252.6L484.4,252.0L484.5,251.3L483.5,250.4ZM489.5,297.6L490.2,298.3L491.1,298.7L493.3,298.9L494.4,298.7L495.2,298.0L495.6,296.9L495.4,295.8L493.9,292.9L493.2,292.1L492.2,291.8L491.1,292.0L488.5,293.6L488.2,294.6ZM489.2,300.7L487.0,303.2L486.9,304.1L487.3,305.0L489.5,306.1L490.6,306.2L493.2,304.4L493.7,303.8L493.9,302.4L493.7,301.5L493.1,300.7L490.7,300.2ZM496.4,299.6L495.6,301.2L495.6,303.9L497.8,306.5L499.0,307.2L500.3,307.1L502.7,305.8L503.2,304.8L503.2,303.7L501.8,299.4L501.0,298.8L498.4,298.6ZM494.0,239.9L492.6,240.5L491.8,241.8L491.7,243.3L492.4,247.0L493.0,248.4L494.4,249.2L496.5,249.9L498.2,249.9L499.6,248.8L502.2,245.4L502.7,243.8L502.3,242.2L501.0,241.1L497.9,239.7L496.3,239.5ZM507.5,232.0L506.2,232.8L506.0,233.5L506.3,234.8L507.4,235.9L510.9,235.3L512.0,234.4L512.0,232.7L511.3,232.1ZM503.3,272.6L500.8,275.8L500.6,277.1L500.8,281.6L501.5,283.3L503.0,284.4L504.8,284.5L510.0,283.2L511.2,282.5L512.1,281.4L512.8,279.1L512.4,277.7L510.4,273.8L509.6,272.8L506.5,271.7L504.8,271.7ZM496.4,260.6L495.9,262.0L496.1,263.5L497.1,264.6L500.0,266.2L501.2,266.6L502.5,266.3L503.5,265.5L503.9,264.4L504.6,260.1L504.4,258.5L503.3,257.3L501.1,256.5L499.9,256.7L498.9,257.5ZM505.2,266.7L505.3,268.3L506.2,269.6L508.3,270.5L509.9,270.5L511.4,269.7L516.8,264.2L517.5,262.9L517.6,261.4L517.0,260.1L515.3,257.7L513.7,256.6L511.7,256.6L508.3,257.8L506.9,258.7L506.2,260.3ZM505.1,240.0L504.5,241.6L504.9,243.3L506.2,244.5L512.2,247.2L513.8,247.4L515.2,246.8L516.2,245.5L516.3,243.9L515.4,239.5L513.9,237.4L512.7,236.8L511.4,236.8L507.8,237.6L506.1,238.7ZM515.5,304.0L515.6,305.6L516.4,306.9L517.7,307.7L522.4,309.0L524.5,308.9L526.0,307.6L529.0,302.6L529.5,301.2L529.3,299.8L528.5,298.6L524.7,295.6L523.4,295.5L519.3,295.9L517.4,296.7L516.4,298.5ZM513.8,234.4L514.4,235.8L516.0,236.6L517.0,236.3L518.9,235.2L519.5,234.5L519.7,233.7L519.5,232.9L518.9,232.2L515.6,231.8L514.7,232.1L514.1,232.7ZM515.9,314.3L516.4,315.5L517.4,316.1L519.7,316.7L520.6,316.4L522.6,313.7L523.0,312.7L522.8,311.7L522.3,310.9L521.4,310.4L518.4,309.5L517.3,309.5L516.3,310.0L515.7,310.9ZM526.4,292.4L526.5,294.1L527.4,295.5L530.9,298.7L532.9,299.5L535.5,299.6L537.3,299.2L538.6,297.8L544.8,283.8L545.1,282.1L544.4,280.5L543.1,279.5L535.5,276.6L533.8,276.4L532.2,277.1L530.3,278.8L529.3,280.5ZM544.7,306.5L546.3,307.5L549.3,308.2L551.0,308.2L557.5,306.3L559.2,305.1L559.8,303.1L559.6,295.5L558.6,293.3L550.5,285.5L549.2,284.7L547.7,284.7L546.3,285.3L545.4,286.5L540.0,298.5L539.7,300.3L540.5,302.0ZM546.4,253.0L546.3,254.2L546.8,255.3L547.9,255.9L549.1,255.9L552.1,254.6L552.6,253.7L552.7,252.8L552.0,249.0L551.3,248.4L550.4,248.1L548.7,248.3L547.9,249.4ZM554.6,260.1L553.2,257.1L552.4,256.7L550.1,257.2L549.3,257.8L548.9,258.8L549.1,259.8L551.0,262.9L551.9,263.2L552.8,263.0L554.4,262.0L554.8,261.1ZM567.2,285.6L567.4,286.5L568.1,287.1L569.0,287.3L570.8,286.2L571.3,285.5L571.3,284.6L570.2,283.0L568.7,282.4L567.5,283.3ZM570.7,322.4L571.3,325.6L572.1,326.3L575.0,326.7L576.3,326.4L577.1,325.3L578.3,322.4L578.5,321.2L578.0,320.1L577.0,319.4L575.8,319.3L572.5,320.0L571.5,320.4L570.9,321.3ZM577.4,301.8L577.3,302.9L577.8,304.0L578.8,304.6L579.9,304.7L583.3,304.1L584.3,303.6L585.0,302.7L585.1,301.5L584.7,299.1L584.0,298.0L582.8,297.4L581.5,297.6L578.5,299.2ZM579.9,319.5L581.7,320.5L583.1,320.5L585.5,319.4L586.0,318.4L586.0,317.4L585.4,314.4L584.8,313.7L581.8,313.1L580.8,313.2L579.9,313.8L579.4,314.7L578.9,317.9ZM482.6,311.5L482.1,312.2L482.0,313.0L483.2,314.7L484.0,315.2L484.8,315.2L485.8,314.8L486.8,312.1L486.9,311.2L486.5,310.5L485.8,310.1L484.8,310.1ZM482.9,350.1L482.2,349.5L481.4,349.3L480.6,349.6L480.0,350.2L480.0,352.6L480.8,353.9L482.3,353.9L483.4,352.8L483.7,351.9ZM483.7,317.6L482.8,319.4L482.9,320.3L483.7,322.1L484.4,322.9L486.3,323.2L487.7,322.6L488.6,319.8L488.6,318.8L488.0,317.9L486.3,316.7L485.4,316.7ZM482.0,363.3L481.2,364.1L480.9,365.3L481.4,367.6L484.3,369.4L485.2,369.6L486.2,369.4L486.9,368.8L487.2,367.9L486.1,363.8L485.4,362.8L484.4,362.4ZM485.2,338.6L486.1,339.5L487.4,339.8L488.6,339.5L492.2,337.2L493.0,336.3L493.3,335.2L493.0,332.5L492.2,331.7L491.2,331.3L490.1,331.4L486.3,333.0L484.8,335.8L484.6,336.9ZM487.8,343.7L486.8,343.0L485.7,342.9L484.6,343.5L482.9,345.7L482.8,346.6L483.1,347.5L485.5,350.7L486.5,351.0L487.5,350.7L489.5,348.1L489.8,346.8L489.4,345.6ZM495.8,410.1L494.4,410.9L494.1,411.6L494.7,413.4L495.2,414.1L496.1,414.4L496.9,414.3L497.6,413.7L498.5,411.9L498.3,411.0L497.7,410.4ZM493.1,311.2L489.9,310.6L489.0,311.2L487.9,314.0L487.9,315.2L488.5,316.2L490.1,317.3L492.9,317.2L493.8,316.8L494.4,316.1L494.6,313.1L494.1,311.9ZM492.8,402.3L491.8,403.1L491.3,404.2L492.1,407.1L492.9,408.1L494.2,408.5L497.5,408.6L498.7,408.3L499.5,407.6L499.9,406.5L500.0,404.0L498.1,401.9L497.0,401.3L495.7,401.3ZM497.0,386.9L496.7,388.5L497.2,390.0L498.4,391.0L499.9,391.3L504.4,390.9L505.7,390.6L508.2,387.6L508.7,386.4L508.6,385.0L507.8,383.2L506.8,382.4L503.2,380.8L501.7,380.5L500.2,381.1L499.2,382.3ZM499.9,324.8L500.3,326.4L501.5,327.5L505.3,329.4L506.7,329.7L508.1,329.3L510.0,328.2L511.0,327.2L511.4,325.8L511.1,324.4L509.6,321.4L508.5,320.2L507.0,319.7L503.2,319.6L501.4,320.2L500.3,321.4ZM497.6,416.6L497.2,417.9L497.5,419.2L498.4,420.2L499.7,420.7L504.8,420.9L506.2,420.6L507.2,419.6L507.6,418.3L507.3,415.5L506.3,414.5L503.2,412.6L501.9,412.2L500.6,412.6L499.6,413.5ZM508.0,390.6L507.5,391.8L507.5,393.2L508.7,398.1L509.4,399.3L511.0,400.4L512.9,400.6L514.6,399.6L518.3,395.5L519.0,394.2L519.0,392.7L518.3,391.4L517.2,390.5L512.5,388.5L511.1,388.3L509.8,388.7ZM507.4,336.5L507.7,338.0L508.6,339.2L513.3,342.7L514.5,343.2L516.0,343.2L517.2,342.6L519.2,340.9L520.3,339.3L520.2,337.3L517.4,330.1L516.3,328.6L514.5,328.0L512.8,328.4L509.1,330.6L507.9,331.7L507.5,333.3ZM510.0,435.6L509.2,436.6L509.0,437.9L510.1,439.5L511.5,440.7L512.5,441.1L513.6,441.0L514.5,440.3L517.0,436.8L517.0,435.8L516.5,434.9L515.0,433.6L514.0,433.4L513.0,433.7ZM532.4,398.9L533.7,399.6L535.2,399.6L536.6,399.0L537.4,397.8L541.9,387.3L542.1,385.5L541.4,384.0L539.3,381.4L537.9,380.4L536.1,380.3L529.1,381.7L527.6,382.5L526.7,383.8L524.7,389.5L524.6,391.4L525.6,393.0ZM534.4,356.8L534.5,358.5L535.6,359.9L540.1,363.5L541.2,364.1L542.5,364.1L548.5,363.3L549.8,362.8L550.8,361.8L557.9,350.0L558.4,348.5L558.1,346.9L557.1,345.7L555.7,344.7L551.5,343.5L549.9,343.5L538.1,347.0L536.6,348.0L535.9,349.5ZM531.2,325.0L530.3,325.0L529.6,325.5L529.2,326.2L529.2,327.0L531.0,328.9L532.4,329.3L533.6,328.2L533.9,326.6L533.4,325.8ZM530.9,435.6L530.8,437.2L531.6,438.7L533.0,439.6L539.0,441.3L540.9,441.3L542.8,440.4L545.4,437.6L546.2,436.1L547.0,433.2L547.0,431.6L546.2,430.2L541.7,425.4L540.4,424.6L538.8,424.5L535.7,425.1L534.2,425.9L533.3,427.3ZM543.2,444.5L541.8,443.7L540.3,444.5L539.8,447.3L539.9,448.2L540.5,448.9L541.3,449.2L542.2,449.1L544.3,447.9L544.6,446.9ZM543.0,383.4L544.1,384.2L545.5,384.5L555.6,384.5L557.5,383.9L558.7,382.2L559.9,377.7L559.9,376.1L559.2,374.7L551.3,366.0L550.0,365.1L548.5,365.0L543.9,365.6L542.1,366.4L541.2,368.2L539.5,377.3L539.5,378.7L540.1,379.9ZM547.4,429.2L548.7,430.0L550.2,430.2L553.6,429.7L555.3,428.8L556.8,426.7L559.5,415.6L559.5,414.3L559.2,412.0L558.4,410.5L556.9,409.3L555.4,409.1L551.1,409.6L549.8,410.1L548.8,411.2L543.0,421.1L542.6,423.0L543.4,424.9ZM548.3,439.4L547.4,439.1L546.4,439.2L545.6,439.7L544.1,441.6L544.0,442.5L544.4,443.4L546.5,445.8L547.6,446.0L548.6,445.6L551.0,443.4L551.2,442.4L551.0,441.5ZM561.1,430.0L558.1,429.3L557.3,429.7L556.7,430.3L556.6,431.2L556.8,432.0L558.5,434.5L560.1,434.7L561.9,432.9L562.3,432.1L562.3,431.2L561.8,430.5ZM558.8,425.1L558.8,426.4L559.5,427.5L560.6,428.2L562.9,428.9L564.5,428.9L565.8,427.8L566.4,427.0L567.0,426.0L567.3,424.4L566.7,422.9L564.2,420.2L563.0,419.5L561.6,419.4L560.4,420.1L559.7,421.3ZM583.3,403.6L582.5,404.0L582.3,404.9L582.5,405.5L583.4,405.9L584.4,405.4L584.8,404.5L584.2,403.7ZM567.8,415.1L566.6,414.8L565.4,415.3L564.6,416.3L564.4,417.6L565.0,418.7L566.7,420.6L567.6,421.2L568.7,421.3L569.7,421.0L570.4,420.2L571.2,418.3L570.8,417.1L569.9,416.2ZM559.2,405.8L559.0,407.5L559.6,409.0L560.9,410.0L562.6,410.2L572.3,408.8L573.8,408.2L574.8,406.9L576.9,401.9L577.1,400.6L576.8,399.4L575.9,397.3L573.7,395.1L571.6,394.5L565.9,394.7L564.2,395.3L563.0,396.7ZM571.7,368.5L571.9,370.4L573.2,371.9L575.2,373.0L576.9,373.4L578.6,372.8L582.5,369.8L583.5,368.5L583.6,366.0L582.8,364.5L581.4,363.6L576.6,362.0L574.9,362.0L573.5,362.8L572.7,364.3ZM577.6,404.4L577.5,405.2L577.9,406.0L578.6,406.4L579.6,406.3L580.5,405.2L580.5,404.4L579.5,403.3L578.1,403.6ZM575.5,355.0L574.2,355.5L573.3,356.5L573.2,357.8L573.7,359.1L574.8,359.8L580.0,361.4L581.1,361.5L582.1,361.1L582.9,360.2L583.3,357.4L583.0,356.1L582.0,355.1L580.7,354.8ZM583.1,343.5L584.1,343.5L585.1,343.1L585.6,342.1L586.2,339.0L585.8,338.1L583.3,337.1L581.1,337.6L580.4,338.2L580.0,339.0L580.5,341.6L581.0,342.5ZM587.5,333.7L586.8,332.6L585.4,332.7L584.5,334.1L584.4,334.9L584.7,335.6L585.8,336.2L586.5,336.2L587.2,335.8L587.5,335.1Z" fill="#f1cace"/>
<path d="M518.3,41.8L517.7,42.7L517.7,43.8L518.8,45.7L520.4,46.6L523.5,47.1L524.7,46.9L525.6,46.3L526.1,45.2L526.1,44.1L525.3,41.5L524.2,40.0L521.9,39.1L520.9,39.2ZM532.2,27.8L530.0,29.9L529.9,30.8L530.2,31.6L530.8,32.2L533.9,32.4L534.7,32.2L535.4,31.6L535.7,30.8L535.6,30.0L534.6,27.9L533.8,27.5ZM540.3,32.1L539.2,33.7L539.3,35.6L541.7,42.8L543.2,44.6L546.3,46.2L547.9,46.6L549.4,46.1L550.5,45.0L553.7,39.6L554.1,38.2L554.5,31.7L554.1,29.9L552.4,28.4L547.1,27.8L544.8,28.5ZM539.5,22.6L536.3,24.9L536.0,25.9L536.1,26.9L536.9,29.0L537.5,29.8L538.4,30.3L539.5,30.4L540.4,29.9L543.7,27.0L543.9,26.0L543.6,25.0L541.8,22.6L540.7,22.3ZM551.5,69.5L551.9,70.9L552.5,71.3L553.9,71.3L555.0,71.0L556.1,70.1L556.5,69.4L556.5,68.6L556.1,67.9L555.4,67.5L554.6,67.5L551.9,68.4ZM553.3,52.6L552.1,51.2L550.3,50.7L548.6,51.3L547.4,52.7L545.6,57.3L545.4,59.0L546.1,60.6L550.0,65.1L551.5,66.1L553.3,66.2L555.0,65.7L556.6,64.8L557.4,63.2L557.1,61.3ZM553.5,19.4L552.4,19.8L551.8,20.8L551.7,21.9L552.9,26.7L553.7,27.3L554.7,27.5L555.7,27.2L556.6,26.1L557.0,21.4L556.7,20.3L555.9,19.6ZM565.8,52.1L565.0,52.2L564.4,52.7L564.2,53.4L564.6,54.6L565.1,55.2L565.9,55.4L567.1,54.8L567.6,54.1L567.7,53.3L567.3,52.6ZM482.7,115.6L482.9,116.6L483.6,117.3L484.6,117.6L486.9,116.4L487.5,115.6L487.6,114.6L486.8,111.9L485.1,111.3L484.1,111.4L483.4,112.0L483.0,112.9ZM488.5,144.4L487.3,145.5L487.0,147.0L487.6,148.5L489.3,150.5L495.3,151.2L496.7,151.0L497.8,150.1L498.3,148.8L498.1,147.4L496.0,142.9L494.9,142.3L493.4,142.0ZM486.2,128.3L485.6,129.1L485.5,130.1L485.8,132.0L486.3,133.2L487.4,133.9L488.8,134.3L489.8,134.3L490.7,133.9L492.9,130.3L493.1,129.2L492.8,128.1L492.0,127.3L490.9,127.1L488.2,127.1ZM490.1,109.3L488.8,111.2L488.8,112.2L489.2,114.3L489.7,115.3L490.8,116.1L491.7,116.3L492.7,116.0L496.3,114.3L497.3,113.4L497.6,112.2L497.3,110.9L496.2,109.1L495.2,108.1L493.7,108.0L491.5,108.4ZM487.7,96.0L487.7,96.8L488.1,97.5L488.9,97.9L490.5,97.4L491.3,96.3L490.9,95.0L489.7,94.2L488.3,94.5ZM490.0,174.1L489.5,173.5L488.8,173.3L488.1,173.5L487.5,174.1L487.4,174.8L487.7,175.8L488.4,176.3L489.2,176.3L490.0,175.8L490.3,175.1ZM488.3,163.4L488.2,164.3L489.7,166.7L490.7,167.5L492.1,167.5L494.6,166.8L495.7,166.1L496.2,164.9L496.4,163.2L496.2,161.9L495.3,160.9L494.0,160.7L490.5,161.0L489.2,161.5ZM495.0,95.3L494.2,96.3L494.0,97.5L494.4,98.8L495.7,101.0L496.6,101.9L497.9,102.3L499.2,102.0L503.4,100.0L504.5,99.2L505.0,97.9L504.3,95.4L503.6,94.4L502.4,93.8L498.1,93.1ZM492.3,136.8L494.0,140.1L495.0,140.6L496.4,140.7L497.6,139.9L499.6,137.6L500.3,136.2L499.9,134.6L498.1,131.8L497.2,130.9L495.9,130.6L494.7,131.0L493.8,131.9L492.4,134.6L492.1,135.7ZM499.6,126.0L498.7,127.1L498.4,128.5L498.8,129.9L501.4,134.1L502.5,135.1L504.0,135.4L506.2,135.2L507.8,134.6L508.8,133.1L509.1,130.4L508.4,129.2L504.8,125.3L503.7,124.6L502.4,124.5ZM507.1,167.4L507.0,169.0L508.2,170.0L510.1,169.5L510.8,169.0L511.2,168.2L510.7,166.6L510.2,165.9L509.4,165.6L508.5,165.8ZM504.4,120.6L504.5,122.2L505.2,123.5L508.8,127.3L510.0,128.1L511.4,128.3L512.7,127.9L516.3,125.9L517.5,124.8L518.0,123.2L517.7,120.2L516.8,119.0L515.3,118.4L508.3,117.3L506.7,117.4L505.3,118.3ZM515.0,68.8L513.9,69.0L513.0,69.8L512.8,71.7L513.6,73.1L517.5,74.0L518.5,73.9L519.3,73.3L519.8,71.6L519.7,70.7L519.2,69.9ZM514.3,156.3L514.7,158.1L516.0,159.3L518.9,160.4L520.3,160.2L526.4,157.5L527.9,156.2L528.4,154.3L528.2,152.9L527.6,151.3L526.2,150.2L523.7,149.2L522.0,149.0L520.5,149.7L515.5,153.6L514.6,154.7ZM532.4,157.9L531.6,157.9L530.9,158.3L530.5,159.1L530.6,160.5L531.1,161.3L531.9,161.7L533.8,161.3L534.5,160.8L534.9,160.1L534.9,159.2L534.4,158.5ZM521.1,74.1L521.6,75.8L523.3,78.0L524.3,78.7L525.5,78.8L526.6,78.3L527.3,77.3L528.3,74.1L528.4,72.8L527.8,71.7L526.6,71.1L524.0,70.6L522.8,70.7L521.8,71.4ZM546.5,92.4L546.6,93.9L547.4,95.3L550.8,98.8L551.9,99.6L553.2,99.8L557.2,99.6L558.4,99.3L559.7,98.3L562.7,94.2L563.4,92.2L563.3,89.1L562.6,87.2L562.1,86.4L560.2,85.2L555.8,84.4L553.8,84.6L551.3,86.1L547.4,90.3ZM562.6,138.4L561.5,138.2L560.4,138.6L559.7,139.5L559.5,140.6L559.9,141.6L562.2,144.7L563.2,145.4L564.4,145.5L565.5,145.0L566.8,143.5L567.3,142.3L567.0,141.0L566.1,140.2ZM564.1,101.8L563.1,101.8L562.2,102.2L561.5,103.0L561.4,104.0L562.7,106.7L563.4,107.4L564.4,107.7L565.5,107.5L566.2,106.8L566.8,104.6L566.7,103.6L566.2,102.8ZM553.9,145.5L553.5,146.6L553.6,147.8L554.2,148.8L556.5,150.9L557.6,151.5L558.8,151.5L559.8,151.0L561.6,148.2L561.6,147.0L561.2,146.0L558.5,142.8L557.4,142.6L556.3,142.8ZM569.3,94.1L564.7,94.6L562.9,96.6L562.5,97.6L562.6,98.7L563.2,99.6L566.3,100.9L567.5,100.9L571.4,98.2L571.7,96.2L571.3,95.2L570.5,94.4ZM566.0,87.8L565.2,88.5L564.9,89.4L565.2,91.9L565.9,92.5L566.7,92.7L569.0,92.4L569.8,91.0L568.9,88.4L568.3,87.8L567.5,87.4ZM482.8,201.9L483.5,203.4L485.1,203.7L486.8,203.1L487.4,201.6L486.2,199.4L485.6,198.8L484.7,198.5L483.9,198.7L483.2,199.4ZM485.1,214.4L484.1,214.9L483.5,215.8L483.4,216.9L484.1,219.0L484.8,219.8L486.8,221.0L487.9,221.3L488.9,220.9L489.6,220.0L489.8,218.9L489.3,215.8L488.8,214.8L488.0,214.2ZM490.7,202.7L489.5,203.2L488.8,204.3L488.8,205.6L489.9,209.5L490.4,210.6L491.4,211.2L493.9,211.0L495.0,210.5L495.7,209.5L496.6,207.2L496.7,205.8L495.8,204.5L493.7,202.9L492.8,202.5ZM490.8,181.9L492.0,182.5L493.4,182.1L494.1,180.7L494.1,179.9L493.7,179.3L493.1,178.9L492.3,179.0L490.6,179.9L490.3,180.7ZM484.7,184.1L484.9,185.4L486.6,186.3L487.9,185.7L489.1,184.3L489.5,183.3L489.2,182.3L488.1,181.1L486.8,181.0L485.2,181.9ZM499.4,223.8L500.0,225.2L501.2,225.9L503.4,226.4L504.7,226.3L505.7,225.5L507.2,223.6L507.6,222.6L507.6,221.5L505.2,218.6L504.2,218.0L501.6,218.2L500.2,219.1L499.5,220.0L499.1,221.7ZM502.1,188.3L501.1,189.5L500.8,191.1L501.4,192.6L504.5,196.8L506.0,197.9L507.9,197.9L510.8,196.8L512.2,195.8L512.8,194.2L512.8,192.9L512.5,191.3L511.4,190.1L506.5,187.4L505.0,187.0L503.4,187.5ZM499.9,178.0L498.8,177.6L497.7,177.8L496.7,178.4L495.6,181.4L495.6,182.8L496.3,183.9L499.0,186.3L499.9,186.8L501.0,186.9L502.0,186.5L504.0,184.9L504.6,183.0L504.4,181.6L503.5,180.5ZM505.2,202.6L505.0,204.2L505.6,205.7L507.4,208.0L508.6,208.9L510.1,209.2L515.1,209.0L517.3,207.9L518.9,205.5L518.9,203.9L518.1,202.5L514.6,199.1L513.1,198.2L511.3,198.3L507.5,199.7L506.3,200.4ZM512.0,188.7L513.7,189.1L515.3,188.5L517.9,186.6L519.0,185.2L519.2,183.5L518.4,182.0L515.2,178.8L510.7,178.4L509.4,178.7L507.1,180.8L506.3,182.3L506.4,184.8L507.7,186.2ZM506.5,214.8L506.2,216.5L506.9,218.1L509.1,220.5L510.7,221.4L512.5,221.1L515.0,220.0L516.2,218.8L516.6,217.1L516.3,213.3L515.8,211.9L514.7,211.0L513.2,210.7L510.2,210.8L508.8,211.3L507.8,212.4ZM524.4,187.9L523.2,186.8L521.5,186.5L519.9,187.1L515.8,190.2L514.8,191.2L514.5,192.5L514.5,196.3L515.3,197.5L520.5,202.7L521.8,203.4L524.3,203.4L525.8,202.7L526.8,201.4L528.7,196.6L528.9,195.1L528.4,193.6ZM529.3,220.9L528.3,222.5L528.4,224.3L530.2,228.5L531.1,229.7L533.6,230.5L535.0,230.4L536.2,229.7L536.9,228.5L538.0,224.6L535.8,220.0L534.6,218.8L533.0,218.5L531.4,219.1ZM557.4,156.6L556.3,157.6L556.5,159.1L557.6,160.3L559.1,160.2L559.8,159.0L559.8,157.4L558.8,156.5ZM537.8,162.4L536.7,163.1L536.1,164.2L536.0,165.5L536.5,168.3L537.1,169.6L538.2,170.4L539.6,170.5L540.9,170.0L544.9,166.9L545.8,165.6L545.6,162.9L544.9,161.7L543.6,160.9L542.1,161.0ZM540.3,172.5L539.3,173.8L539.0,175.4L539.7,176.9L545.4,184.5L546.8,185.5L548.6,185.7L550.2,184.8L556.5,178.5L557.3,177.2L557.4,175.6L556.4,171.3L555.6,169.8L554.1,168.9L549.0,167.4L547.5,167.4L546.1,168.0ZM549.8,209.4L548.7,209.8L547.8,210.8L547.6,212.1L548.1,213.2L550.8,217.1L552.1,218.0L553.7,218.1L554.8,217.3L555.4,216.0L555.8,213.0L555.7,211.6L554.8,210.5L553.5,209.6L551.9,209.2ZM558.2,167.9L557.7,169.0L557.8,170.1L558.5,173.2L559.2,174.6L560.6,175.3L562.2,175.2L565.6,174.0L566.8,173.1L567.4,171.8L567.3,170.3L565.1,165.3L564.0,164.6L562.6,164.4L560.4,165.0ZM481.5,274.4L480.6,275.4L480.3,276.6L480.8,278.6L482.0,279.5L485.5,280.7L486.8,280.7L488.0,280.1L488.7,279.1L489.8,274.9L488.7,272.9L487.8,272.0L486.5,271.7L485.3,272.1ZM484.5,261.3L483.2,261.7L482.3,262.7L482.2,264.0L482.7,265.2L486.1,268.7L487.2,268.9L488.2,268.5L490.7,265.0L491.0,264.0L490.9,263.0L490.2,262.0L488.5,261.3ZM487.1,243.1L483.4,245.1L482.9,246.1L483.0,247.2L483.6,248.1L486.1,250.4L487.6,251.0L489.4,250.5L490.1,249.9L490.8,248.9L490.9,247.8L490.3,244.7L489.7,243.5L488.4,242.9ZM485.5,235.5L485.2,236.4L485.3,237.2L488.3,240.1L489.2,240.6L490.1,240.5L490.9,240.0L491.3,239.1L491.3,238.1L489.8,234.2L489.1,233.7L487.7,233.7L486.6,234.3ZM483.3,240.8L483.7,242.1L484.4,242.3L485.4,242.1L486.1,241.1L485.7,240.0L484.9,239.5L483.7,239.9ZM484.9,288.5L484.6,289.6L484.8,290.8L485.6,291.6L486.7,292.0L487.8,291.8L492.4,289.3L492.9,288.3L492.8,287.0L492.1,286.0L490.4,284.7L489.2,284.3L488.0,284.5L487.1,285.3ZM481.7,257.5L481.9,258.6L482.7,259.4L483.7,259.7L486.7,259.7L487.8,259.4L488.6,258.6L488.8,257.5L488.2,254.1L487.3,253.4L486.2,253.3L485.2,253.7L482.5,255.8L481.9,256.5ZM490.6,272.8L491.6,273.7L492.8,274.1L498.0,274.5L499.2,274.3L501.1,272.7L501.8,271.2L501.5,269.5L500.4,268.3L495.6,265.5L494.1,265.1L492.7,265.5L491.7,266.5L490.1,269.0L489.7,270.6ZM490.9,251.3L490.2,252.3L490.0,253.5L490.5,258.4L490.8,259.5L491.7,260.4L492.9,260.7L494.1,260.5L495.1,259.8L498.2,255.8L498.8,254.7L498.7,253.4L498.0,252.3L496.9,251.7L493.5,250.7L492.2,250.6ZM490.0,280.1L490.0,281.8L490.9,283.1L493.1,284.8L494.3,285.3L495.7,285.1L497.6,284.4L498.8,283.4L499.2,281.8L499.1,278.5L498.7,277.3L497.8,276.4L496.6,276.0L492.4,276.0L491.5,276.6L490.9,277.6ZM493.8,233.8L492.5,234.5L492.2,235.2L492.6,237.1L493.7,238.2L495.4,238.1L496.3,237.6L496.7,236.8L496.9,234.9L496.0,233.8ZM494.4,289.0L494.6,290.9L497.0,295.5L498.0,296.6L499.4,297.0L501.8,296.5L502.8,295.4L503.0,294.0L502.3,287.9L501.7,286.4L500.3,285.6L498.7,285.7L496.2,286.7L495.1,287.4ZM500.3,253.1L501.7,254.7L505.8,256.6L507.1,256.5L511.6,254.9L513.0,253.9L513.7,252.0L513.3,250.1L511.9,248.8L506.5,246.4L505.1,246.1L503.8,246.4L502.7,247.3L500.7,250.1L500.1,251.6ZM506.8,296.9L505.1,297.5L504.1,298.9L504.0,300.7L505.1,304.6L506.3,306.3L508.7,307.7L511.5,307.3L512.9,306.4L513.7,304.8L514.5,300.2L514.3,298.5L513.1,297.1L511.4,296.7ZM515.2,253.4L515.8,255.7L519.4,260.6L521.4,261.9L527.6,263.1L529.6,262.9L531.1,261.6L533.4,256.8L533.3,255.6L531.2,248.7L530.5,247.5L529.3,246.7L527.9,246.4L519.3,247.0L517.1,248.0L516.3,248.8L515.5,250.6ZM513.4,282.3L513.1,283.5L513.3,284.8L516.2,292.2L517.5,293.8L519.5,294.3L522.2,294.0L524.0,293.2L525.0,291.5L526.8,283.8L526.7,281.9L525.5,280.4L523.7,279.8L516.6,279.8L514.9,280.3ZM524.1,314.4L522.9,316.9L523.2,318.0L524.1,318.7L526.8,319.7L527.8,319.8L528.7,319.4L529.2,318.6L529.5,316.8L529.0,315.9L527.1,314.0L526.1,313.5L525.0,313.6ZM527.3,308.6L526.9,309.9L527.1,311.3L527.8,312.5L530.1,314.7L531.2,315.4L532.5,315.6L536.0,315.5L537.2,315.1L538.2,314.4L541.9,310.1L542.7,308.8L542.6,307.2L541.9,305.9L538.7,302.3L536.5,301.3L533.8,301.2L532.1,301.5L530.9,302.7ZM531.2,233.6L529.6,233.9L528.6,235.0L527.9,236.9L529.6,241.8L530.3,242.8L531.4,243.3L532.5,243.3L533.6,242.8L535.2,241.2L535.7,236.4L535.4,235.2L534.6,234.2L533.4,233.8ZM530.8,318.9L530.7,319.9L531.2,320.8L532.1,321.3L536.0,322.0L536.8,321.6L537.3,320.8L537.2,318.7L536.9,317.9L536.2,317.3L532.6,317.2L531.6,317.6ZM549.2,320.9L547.9,322.8L548.0,323.5L548.5,324.2L550.3,324.6L551.1,324.4L551.8,323.8L552.0,323.0L551.7,322.1L550.6,320.9ZM550.8,316.9L551.3,318.8L553.5,321.9L554.7,322.9L556.3,323.2L557.8,322.8L560.8,320.9L562.0,319.6L563.0,316.9L562.8,315.5L560.2,310.0L559.3,308.8L557.9,308.2L556.4,308.2L553.2,309.2L551.6,310.3L550.9,312.2ZM554.0,279.4L552.3,280.1L551.3,281.6L551.3,283.3L552.2,284.9L558.5,291.0L559.8,291.8L561.2,291.9L564.2,290.1L565.2,289.1L565.5,287.6L565.7,283.7L565.3,282.1L564.3,280.9L561.7,279.2L559.5,278.7ZM548.5,242.2L547.7,243.4L548.2,245.3L548.7,246.1L549.5,246.4L551.3,246.3L551.9,245.7L552.1,244.9L551.9,242.2L550.6,241.4ZM577.2,292.5L577.0,294.0L578.1,296.4L578.9,296.8L579.8,296.6L581.6,295.6L581.9,294.1L579.7,291.9L578.9,291.6L578.1,291.7ZM563.3,320.6L563.2,321.8L563.5,324.2L563.8,325.0L564.5,325.7L567.0,326.1L568.2,325.9L569.0,325.0L569.3,323.8L569.0,321.3L568.7,320.4L567.9,319.7L565.4,318.7L564.4,319.1ZM579.1,324.7L579.3,326.1L580.5,326.7L582.4,326.4L583.1,325.2L582.4,323.3L581.8,322.7L581.0,322.5L580.2,322.7ZM564.9,305.6L563.4,306.1L562.3,307.2L561.8,308.6L562.1,310.2L564.4,315.3L565.9,316.8L568.8,318.3L570.9,318.7L575.1,317.8L576.7,317.0L577.6,315.4L578.2,312.8L578.2,311.1L577.0,307.5L575.8,305.9L573.9,305.3ZM584.9,321.6L584.3,322.0L584.1,322.7L584.7,324.6L585.2,325.2L585.9,325.4L586.6,325.2L587.6,323.8L587.5,322.3L587.2,321.6L586.5,321.3ZM580.7,306.2L579.7,306.7L579.1,307.7L579.1,308.8L580.1,310.9L581.1,311.3L583.4,311.7L584.6,311.5L585.4,310.8L585.7,308.3L585.3,306.6L584.5,305.8L583.3,305.7ZM479.4,342.1L479.8,343.1L480.6,343.8L481.7,343.8L483.8,342.0L484.3,341.0L484.1,339.9L482.8,337.8L481.5,337.4L480.4,337.5L479.6,338.2L479.3,339.3ZM479.0,324.3L479.2,325.0L480.4,325.8L481.8,325.2L482.5,323.9L482.0,322.3L481.5,321.6L480.7,321.3L479.9,321.5L479.3,322.0ZM481.8,373.0L482.6,374.1L484.0,373.9L484.7,372.9L484.5,371.5L483.7,370.9L483.0,370.8L482.3,371.0L481.8,371.6ZM483.7,331.5L481.5,329.4L480.7,329.3L479.8,329.7L479.3,330.3L479.1,331.2L479.4,334.7L480.7,335.6L482.3,335.7L483.1,335.4L484.1,333.5L484.2,332.4ZM484.8,330.3L485.8,330.9L487.0,330.8L489.7,329.6L490.2,328.8L490.2,327.8L489.8,327.0L487.9,325.0L485.0,324.8L484.1,325.1L483.1,326.1L482.8,326.9L482.8,327.8ZM485.8,380.0L484.4,379.5L483.3,380.5L483.4,382.0L484.3,383.0L485.6,382.9L486.4,382.1L486.6,381.3ZM484.4,358.8L485.1,359.9L486.2,360.4L487.4,360.1L489.6,358.9L490.5,358.1L490.7,356.8L490.2,355.7L487.5,353.0L485.5,353.0L484.1,354.5L483.7,355.4L483.7,356.3ZM486.7,378.6L487.5,379.2L488.5,379.4L491.7,377.8L492.5,377.0L492.8,375.8L492.4,374.7L490.0,371.4L489.0,371.1L488.0,371.3L486.5,372.6L485.4,375.2L485.2,376.4ZM490.1,324.8L493.2,328.2L494.4,328.4L496.9,327.4L497.9,326.5L498.2,325.2L498.1,321.3L497.5,320.4L495.2,318.7L492.2,318.9L490.8,319.5L490.0,320.8L489.5,323.7ZM490.4,380.4L489.4,381.4L489.1,382.8L489.7,384.1L491.6,386.4L492.6,387.1L493.8,387.2L494.9,386.8L495.7,385.8L497.7,381.6L497.9,380.3L497.4,379.0L496.2,378.2L495.0,378.0ZM491.2,354.4L492.3,355.1L493.6,355.0L494.7,354.2L496.8,351.2L497.2,350.1L497.0,348.9L496.2,348.1L495.1,347.7L493.0,347.6L491.9,347.9L491.0,348.7L489.9,350.5L489.5,351.9L490.1,353.2ZM488.7,366.4L489.3,367.4L490.2,367.9L491.4,368.0L492.4,367.5L495.3,365.1L496.0,364.1L496.1,362.8L495.5,361.7L493.4,359.7L492.4,359.5L489.0,361.1L488.2,361.8L487.7,362.8ZM489.9,343.7L491.8,345.7L492.7,346.0L497.2,346.0L498.1,345.4L498.6,344.4L498.7,342.8L498.0,341.7L495.3,339.2L494.5,338.7L493.4,338.6L490.4,340.2L489.6,341.2L489.4,342.5ZM489.0,393.6L488.2,394.4L487.8,395.5L487.9,396.7L489.0,399.4L489.7,400.4L490.9,401.0L492.1,400.9L494.6,400.0L495.9,399.1L496.4,397.5L496.2,393.8L495.8,392.5L494.9,391.6L493.6,391.3L492.4,391.7ZM498.4,339.8L500.2,340.6L502.1,340.2L504.3,338.9L505.4,337.9L505.8,336.4L505.9,333.5L505.4,331.8L504.2,330.6L500.4,328.8L499.0,328.4L496.5,329.4L495.3,330.6L494.9,332.2L495.2,336.5ZM494.8,375.4L496.3,376.6L498.3,376.8L499.7,376.1L500.4,374.8L502.2,368.4L502.3,367.0L501.6,365.7L500.1,364.8L498.6,364.8L497.5,365.4L493.4,368.7L492.6,369.8L492.4,371.2L492.9,372.5ZM495.4,356.0L494.9,357.1L495.0,358.4L495.6,359.5L497.5,361.6L498.7,362.3L500.0,362.4L501.3,361.9L502.1,360.9L504.4,355.9L504.6,354.6L504.3,353.4L503.3,352.4L500.5,351.0L499.1,351.3L498.1,352.2ZM503.5,361.7L503.2,363.1L503.6,364.6L504.7,365.7L506.1,366.2L509.7,366.6L511.1,366.4L512.4,365.5L513.1,364.2L514.9,357.2L514.9,355.6L514.2,354.2L512.8,353.3L511.2,353.2L508.5,353.8L507.2,354.4L506.3,355.6ZM501.9,375.5L501.9,377.0L502.5,378.3L503.7,379.2L506.4,380.5L508.4,380.7L510.1,379.7L514.4,374.8L515.1,373.5L515.1,372.0L513.4,369.4L511.3,368.3L506.8,367.9L505.3,368.1L504.1,368.9L503.4,370.2ZM504.3,428.7L503.7,430.3L504.1,431.9L505.2,433.7L506.2,434.6L507.6,434.8L508.8,434.4L512.4,432.2L513.4,431.1L513.7,429.6L513.0,426.7L510.8,424.9L509.6,424.4L508.3,424.6L507.3,425.3ZM510.2,384.5L510.8,385.8L512.0,386.6L519.3,389.7L521.0,389.9L522.6,389.2L523.6,387.8L525.2,383.3L525.3,381.7L524.7,380.2L520.9,375.5L519.4,374.4L517.6,374.4L516.0,375.4L510.8,381.3L510.1,382.7ZM518.7,435.0L520.1,435.9L525.2,437.6L526.9,437.7L528.4,436.9L529.2,435.5L531.7,427.1L531.7,425.3L530.6,423.7L528.2,421.8L526.5,421.1L524.7,421.4L516.9,425.5L515.5,426.9L515.2,428.8L515.4,430.4L516.2,432.1ZM514.3,365.9L514.3,367.4L514.9,368.8L516.5,370.6L518.0,371.6L519.8,371.6L521.3,370.7L528.3,363.3L529.0,361.8L529.0,360.2L528.2,358.8L526.7,358.0L520.2,356.2L518.5,356.2L517.1,357.1L516.2,358.5ZM569.5,329.4L568.3,329.8L567.6,330.8L567.5,332.1L568.6,335.1L569.5,335.7L570.6,335.8L572.8,335.3L574.0,334.7L574.6,333.6L574.9,331.8L574.7,330.5L573.9,329.5L572.6,329.2ZM523.0,371.2L522.3,372.5L522.2,374.0L522.9,375.4L525.8,379.0L527.2,380.0L529.0,380.1L535.6,378.8L537.2,377.9L538.0,376.2L539.7,367.4L539.5,365.7L538.5,364.3L535.6,362.0L534.2,361.4L532.6,361.5L531.3,362.3ZM527.2,417.9L528.3,419.8L532.3,423.0L533.5,423.6L534.9,423.6L538.9,422.8L540.1,422.3L541.0,421.3L546.5,411.8L547.0,410.3L546.6,408.8L545.6,407.6L537.8,402.1L535.7,401.6L534.1,402.0L533.1,402.9L526.9,411.0L526.3,412.3L526.3,413.6ZM532.2,338.7L532.1,340.2L532.7,341.7L534.5,344.2L536.1,345.4L538.0,345.4L545.5,343.1L547.1,342.1L547.8,340.3L547.4,338.5L544.7,333.8L543.2,332.5L541.3,332.2L535.9,333.3L534.4,334.0L533.4,335.3ZM535.1,328.7L535.0,329.8L535.5,330.7L536.3,331.3L539.8,330.9L540.8,330.4L541.4,329.4L541.4,328.3L540.8,327.4L539.8,326.9L537.7,326.5L536.7,326.5L535.9,327.0ZM549.0,328.3L547.3,328.6L546.1,329.7L545.6,331.3L546.0,332.9L549.2,338.5L550.3,339.6L551.8,340.0L553.3,339.6L554.5,338.5L554.9,337.0L555.1,331.9L554.8,330.4L553.8,329.2L552.4,328.7ZM548.3,407.5L550.5,408.1L555.0,407.5L556.5,406.9L557.6,405.6L561.8,395.5L562.0,394.1L561.7,392.7L559.1,387.8L557.9,386.6L556.2,386.1L546.2,386.1L544.5,386.7L543.3,388.1L539.1,398.0L538.8,399.4L539.2,400.8L540.2,401.9ZM559.8,384.0L560.1,386.4L562.8,391.4L564.0,392.7L565.7,393.1L571.0,392.9L572.4,392.5L573.5,391.5L576.8,386.8L577.4,384.8L577.0,377.5L576.5,376.0L575.4,375.0L571.8,372.9L570.3,372.5L568.8,372.8L563.2,375.7L562.1,376.5L561.5,377.7ZM552.7,361.7L552.2,363.7L553.0,365.5L559.8,373.0L561.5,374.0L563.6,373.7L568.3,371.3L569.4,370.4L570.0,369.1L571.8,360.7L571.8,359.3L570.9,356.3L569.9,355.4L562.7,351.2L561.1,350.8L559.5,351.2L558.4,352.4ZM576.1,333.8L576.3,335.1L577.2,336.1L578.8,336.7L579.8,336.5L581.3,335.8L582.3,334.8L583.5,332.5L583.8,331.5L583.5,330.5L582.9,329.7L582.0,329.3L578.9,329.0L577.9,329.2L577.1,329.9L576.7,330.9ZM571.0,415.0L572.0,415.2L572.9,414.9L574.0,413.3L574.2,412.3L573.9,411.3L573.1,410.6L570.4,410.7L569.5,411.1L568.9,411.8L568.8,412.8L569.1,413.7ZM582.7,396.1L579.2,396.7L578.6,397.4L578.3,398.3L578.5,399.2L579.3,400.4L580.7,401.5L581.9,402.0L584.2,401.7L584.9,400.9L585.1,399.8L584.5,396.9L583.7,396.3ZM578.9,383.3L579.2,384.3L580.0,385.0L581.2,385.3L582.2,385.0L582.9,384.3L584.0,379.4L583.5,378.4L581.1,377.6L580.2,377.6L579.4,378.0L578.9,378.8L578.7,379.7ZM580.9,373.0L580.3,373.8L580.3,374.7L580.7,375.6L582.9,376.3L583.9,376.2L584.7,375.5L584.9,374.6L584.8,373.3L584.5,372.4L583.8,371.9L582.9,371.8Z" fill="#f0c8cc"/>
<path d="M504.2,330.4 L507,351 L513.7,372 L519.3,385.4 L521.2,394.9 L527,406.3 M532.6,324.7 L531.5,334 L530.7,343.7 M516.5,386.4 L524,380 L532.6,374 L545.9,372 M487,176 L486,160 L483.5,150" stroke="#fff" stroke-width="1.1" fill="none" stroke-linejoin="round"/>
<rect x="168.8" y="176.0" width="80.2" height="2.6" fill="#d9261d"/>
<text x="73.3" y="13.2" font-size="17.50" text-anchor="start" font-weight="bold" font-style="normal" fill="#141414" stroke="#000" stroke-width="0.35">a</text>
<text x="155.0" y="40.9" font-size="14.30" text-anchor="start" font-weight="normal" font-style="normal" fill="#141414" textLength="36.6" lengthAdjust="spacingAndGlyphs" >48hpf</text>
<text x="281.2" y="13.2" font-size="17.50" text-anchor="start" font-weight="bold" font-style="normal" fill="#141414" stroke="#000" stroke-width="0.35">b</text>
<text x="401.0" y="29.7" font-size="14.30" text-anchor="start" font-weight="normal" font-style="normal" fill="#141414" textLength="28.0" lengthAdjust="spacingAndGlyphs" >5dpf</text>
<text x="476.7" y="12.8" font-size="17.50" text-anchor="start" font-weight="bold" font-style="normal" fill="#141414" stroke="#000" stroke-width="0.35">c</text>
<text x="574.8" y="19.2" font-size="14.30" text-anchor="start" font-weight="normal" font-style="normal" fill="#141414" textLength="34.8" lengthAdjust="spacingAndGlyphs" >10dpf</text>
<text x="13.6" y="252.3" font-size="17.50" text-anchor="start" font-weight="bold" font-style="normal" fill="#141414" stroke="#000" stroke-width="0.35">d</text>
<text x="244.1" y="252.7" font-size="17.50" text-anchor="start" font-weight="bold" font-style="normal" fill="#141414" stroke="#000" stroke-width="0.35">e</text>
<text x="0.2" y="487.6" font-size="17.50" text-anchor="start" font-weight="bold" font-style="normal" fill="#141414" stroke="#000" stroke-width="0.35">f</text>
<text x="244.3" y="487.3" font-size="17.50" text-anchor="start" font-weight="bold" font-style="normal" fill="#141414" stroke="#000" stroke-width="0.35">g</text>
<text x="0.2" y="703.2" font-size="17.50" text-anchor="start" font-weight="bold" font-style="normal" fill="#141414" stroke="#000" stroke-width="0.35">h</text>
<text x="411.3" y="703.3" font-size="17.50" text-anchor="start" font-weight="bold" font-style="normal" fill="#141414" >i</text>
<path d="M57.7,266.9 V415.7 H204.0" fill="none" stroke="#111" stroke-width="1.3"/>
<line x1="54.7" y1="415.7" x2="57.7" y2="415.7" stroke="#111" stroke-width="1"/>
<text x="49.3" y="419.3" font-size="10.40" text-anchor="end" font-weight="normal" font-style="normal" fill="#141414" textLength="5.3" lengthAdjust="spacingAndGlyphs" >0</text>
<line x1="54.7" y1="390.9" x2="57.7" y2="390.9" stroke="#111" stroke-width="1"/>
<text x="49.3" y="394.5" font-size="10.40" text-anchor="end" font-weight="normal" font-style="normal" fill="#141414" textLength="16.0" lengthAdjust="spacingAndGlyphs" >100</text>
<line x1="54.7" y1="366.1" x2="57.7" y2="366.1" stroke="#111" stroke-width="1"/>
<text x="49.3" y="369.7" font-size="10.40" text-anchor="end" font-weight="normal" font-style="normal" fill="#141414" textLength="16.0" lengthAdjust="spacingAndGlyphs" >200</text>
<line x1="54.7" y1="341.3" x2="57.7" y2="341.3" stroke="#111" stroke-width="1"/>
<text x="49.3" y="344.9" font-size="10.40" text-anchor="end" font-weight="normal" font-style="normal" fill="#141414" textLength="16.0" lengthAdjust="spacingAndGlyphs" >300</text>
<line x1="54.7" y1="316.5" x2="57.7" y2="316.5" stroke="#111" stroke-width="1"/>
<text x="49.3" y="320.1" font-size="10.40" text-anchor="end" font-weight="normal" font-style="normal" fill="#141414" textLength="16.0" lengthAdjust="spacingAndGlyphs" >400</text>
<line x1="54.7" y1="291.7" x2="57.7" y2="291.7" stroke="#111" stroke-width="1"/>
<text x="49.3" y="295.3" font-size="10.40" text-anchor="end" font-weight="normal" font-style="normal" fill="#141414" textLength="16.0" lengthAdjust="spacingAndGlyphs" >500</text>
<line x1="54.7" y1="266.9" x2="57.7" y2="266.9" stroke="#111" stroke-width="1"/>
<text x="49.3" y="270.5" font-size="10.40" text-anchor="end" font-weight="normal" font-style="normal" fill="#141414" textLength="16.0" lengthAdjust="spacingAndGlyphs" >600</text>
<line x1="57.7" y1="415.7" x2="57.7" y2="418.7" stroke="#111" stroke-width="1"/>
<text x="57.7" y="431.8" font-size="10.40" text-anchor="middle" font-weight="normal" font-style="normal" fill="#141414" textLength="5.3" lengthAdjust="spacingAndGlyphs" >0</text>
<line x1="78.6" y1="415.7" x2="78.6" y2="418.7" stroke="#111" stroke-width="1"/>
<text x="78.6" y="431.8" font-size="10.40" text-anchor="middle" font-weight="normal" font-style="normal" fill="#141414" textLength="16.0" lengthAdjust="spacingAndGlyphs" >100</text>
<line x1="99.5" y1="415.7" x2="99.5" y2="418.7" stroke="#111" stroke-width="1"/>
<text x="99.5" y="431.8" font-size="10.40" text-anchor="middle" font-weight="normal" font-style="normal" fill="#141414" textLength="16.0" lengthAdjust="spacingAndGlyphs" >200</text>
<line x1="120.4" y1="415.7" x2="120.4" y2="418.7" stroke="#111" stroke-width="1"/>
<text x="120.4" y="431.8" font-size="10.40" text-anchor="middle" font-weight="normal" font-style="normal" fill="#141414" textLength="16.0" lengthAdjust="spacingAndGlyphs" >300</text>
<line x1="141.3" y1="415.7" x2="141.3" y2="418.7" stroke="#111" stroke-width="1"/>
<text x="141.3" y="431.8" font-size="10.40" text-anchor="middle" font-weight="normal" font-style="normal" fill="#141414" textLength="16.0" lengthAdjust="spacingAndGlyphs" >400</text>
<line x1="162.2" y1="415.7" x2="162.2" y2="418.7" stroke="#111" stroke-width="1"/>
<text x="162.2" y="431.8" font-size="10.40" text-anchor="middle" font-weight="normal" font-style="normal" fill="#141414" textLength="16.0" lengthAdjust="spacingAndGlyphs" >500</text>
<line x1="183.1" y1="415.7" x2="183.1" y2="418.7" stroke="#111" stroke-width="1"/>
<text x="183.1" y="431.8" font-size="10.40" text-anchor="middle" font-weight="normal" font-style="normal" fill="#141414" textLength="16.0" lengthAdjust="spacingAndGlyphs" >600</text>
<line x1="204.0" y1="415.7" x2="204.0" y2="418.7" stroke="#111" stroke-width="1"/>
<text x="204.0" y="431.8" font-size="10.40" text-anchor="middle" font-weight="normal" font-style="normal" fill="#141414" textLength="16.0" lengthAdjust="spacingAndGlyphs" >700</text>
<circle cx="82.6" cy="388.6" r="0.85" fill="#16a05a"/>
<circle cx="62.9" cy="411.1" r="0.85" fill="#16a05a"/>
<circle cx="103.0" cy="371.4" r="0.85" fill="#16a05a"/>
<circle cx="100.1" cy="372.8" r="0.85" fill="#16a05a"/>
<circle cx="60.9" cy="415.7" r="0.85" fill="#16a05a"/>
<circle cx="64.1" cy="411.6" r="0.85" fill="#16a05a"/>
<circle cx="92.0" cy="382.1" r="0.85" fill="#16a05a"/>
<circle cx="74.0" cy="401.8" r="0.85" fill="#16a05a"/>
<circle cx="112.5" cy="354.3" r="0.85" fill="#16a05a"/>
<circle cx="89.3" cy="387.3" r="0.85" fill="#16a05a"/>
<circle cx="151.7" cy="300.8" r="0.85" fill="#16a05a"/>
<circle cx="79.6" cy="392.9" r="0.85" fill="#16a05a"/>
<circle cx="67.8" cy="406.4" r="0.85" fill="#16a05a"/>
<circle cx="133.1" cy="330.8" r="0.85" fill="#16a05a"/>
<circle cx="70.6" cy="407.2" r="0.85" fill="#16a05a"/>
<circle cx="87.0" cy="390.6" r="0.85" fill="#16a05a"/>
<circle cx="104.2" cy="367.9" r="0.85" fill="#16a05a"/>
<circle cx="72.6" cy="402.0" r="0.85" fill="#16a05a"/>
<circle cx="118.1" cy="357.1" r="0.85" fill="#16a05a"/>
<circle cx="108.1" cy="363.2" r="0.85" fill="#16a05a"/>
<circle cx="94.7" cy="381.7" r="0.85" fill="#16a05a"/>
<circle cx="120.2" cy="343.0" r="0.85" fill="#16a05a"/>
<circle cx="75.7" cy="401.5" r="0.85" fill="#16a05a"/>
<circle cx="139.9" cy="329.7" r="0.85" fill="#16a05a"/>
<circle cx="123.5" cy="350.7" r="0.85" fill="#16a05a"/>
<circle cx="66.0" cy="404.5" r="0.85" fill="#16a05a"/>
<circle cx="91.3" cy="383.5" r="0.85" fill="#16a05a"/>
<circle cx="98.3" cy="377.9" r="0.85" fill="#16a05a"/>
<circle cx="61.0" cy="415.7" r="0.85" fill="#16a05a"/>
<circle cx="106.8" cy="372.3" r="0.85" fill="#16a05a"/>
<circle cx="139.9" cy="329.9" r="0.85" fill="#16a05a"/>
<circle cx="109.0" cy="357.7" r="0.85" fill="#16a05a"/>
<circle cx="107.5" cy="373.0" r="0.85" fill="#16a05a"/>
<circle cx="147.9" cy="314.1" r="0.85" fill="#16a05a"/>
<circle cx="96.8" cy="378.1" r="0.85" fill="#16a05a"/>
<circle cx="120.4" cy="352.3" r="0.85" fill="#16a05a"/>
<circle cx="114.6" cy="349.0" r="0.85" fill="#16a05a"/>
<circle cx="79.1" cy="395.1" r="0.85" fill="#16a05a"/>
<circle cx="88.3" cy="387.4" r="0.85" fill="#16a05a"/>
<circle cx="95.6" cy="379.5" r="0.85" fill="#16a05a"/>
<circle cx="69.6" cy="405.1" r="0.85" fill="#16a05a"/>
<circle cx="127.8" cy="338.9" r="0.85" fill="#16a05a"/>
<circle cx="66.7" cy="408.8" r="0.85" fill="#16a05a"/>
<circle cx="139.4" cy="321.1" r="0.85" fill="#16a05a"/>
<circle cx="63.5" cy="414.7" r="0.85" fill="#16a05a"/>
<circle cx="140.8" cy="323.0" r="0.85" fill="#16a05a"/>
<circle cx="133.5" cy="330.7" r="0.85" fill="#16a05a"/>
<circle cx="91.1" cy="385.9" r="0.85" fill="#16a05a"/>
<circle cx="85.8" cy="381.8" r="0.85" fill="#16a05a"/>
<circle cx="68.3" cy="410.5" r="0.85" fill="#16a05a"/>
<circle cx="70.2" cy="404.8" r="0.85" fill="#16a05a"/>
<circle cx="97.9" cy="373.6" r="0.85" fill="#16a05a"/>
<circle cx="108.5" cy="364.4" r="0.85" fill="#16a05a"/>
<circle cx="91.4" cy="383.2" r="0.85" fill="#16a05a"/>
<circle cx="86.7" cy="393.2" r="0.85" fill="#16a05a"/>
<circle cx="119.2" cy="357.0" r="0.85" fill="#16a05a"/>
<circle cx="100.9" cy="377.0" r="0.85" fill="#16a05a"/>
<circle cx="61.8" cy="415.7" r="0.85" fill="#16a05a"/>
<circle cx="142.7" cy="321.0" r="0.85" fill="#16a05a"/>
<circle cx="131.1" cy="347.2" r="0.85" fill="#16a05a"/>
<circle cx="88.9" cy="387.6" r="0.85" fill="#16a05a"/>
<circle cx="113.2" cy="357.7" r="0.85" fill="#16a05a"/>
<circle cx="62.3" cy="412.8" r="0.85" fill="#16a05a"/>
<circle cx="69.2" cy="405.5" r="0.85" fill="#16a05a"/>
<circle cx="84.1" cy="389.3" r="0.85" fill="#16a05a"/>
<circle cx="68.3" cy="407.0" r="0.85" fill="#16a05a"/>
<circle cx="64.8" cy="411.3" r="0.85" fill="#16a05a"/>
<circle cx="139.8" cy="325.5" r="0.85" fill="#16a05a"/>
<circle cx="111.1" cy="359.4" r="0.85" fill="#16a05a"/>
<circle cx="84.7" cy="386.8" r="0.85" fill="#16a05a"/>
<circle cx="86.3" cy="382.7" r="0.85" fill="#16a05a"/>
<circle cx="153.6" cy="301.9" r="0.85" fill="#16a05a"/>
<circle cx="96.0" cy="379.9" r="0.85" fill="#16a05a"/>
<circle cx="64.9" cy="410.9" r="0.85" fill="#16a05a"/>
<circle cx="84.3" cy="389.6" r="0.85" fill="#16a05a"/>
<circle cx="69.1" cy="402.3" r="0.85" fill="#16a05a"/>
<circle cx="60.2" cy="414.3" r="0.85" fill="#16a05a"/>
<circle cx="68.0" cy="408.2" r="0.85" fill="#16a05a"/>
<circle cx="103.7" cy="364.9" r="0.85" fill="#16a05a"/>
<circle cx="151.9" cy="311.5" r="0.85" fill="#16a05a"/>
<circle cx="138.5" cy="329.5" r="0.85" fill="#16a05a"/>
<circle cx="86.5" cy="388.8" r="0.85" fill="#16a05a"/>
<circle cx="69.5" cy="405.4" r="0.85" fill="#16a05a"/>
<circle cx="129.0" cy="345.2" r="0.85" fill="#16a05a"/>
<circle cx="83.1" cy="389.5" r="0.85" fill="#16a05a"/>
<circle cx="152.7" cy="300.2" r="0.85" fill="#16a05a"/>
<circle cx="137.3" cy="325.7" r="0.85" fill="#16a05a"/>
<circle cx="124.6" cy="354.9" r="0.85" fill="#16a05a"/>
<circle cx="74.3" cy="402.6" r="0.85" fill="#16a05a"/>
<circle cx="60.5" cy="415.7" r="0.85" fill="#16a05a"/>
<circle cx="60.5" cy="415.7" r="0.85" fill="#16a05a"/>
<circle cx="119.4" cy="348.3" r="0.85" fill="#16a05a"/>
<circle cx="149.3" cy="330.0" r="0.85" fill="#16a05a"/>
<circle cx="153.0" cy="306.5" r="0.85" fill="#16a05a"/>
<circle cx="149.1" cy="318.9" r="0.85" fill="#16a05a"/>
<circle cx="74.3" cy="399.1" r="0.85" fill="#16a05a"/>
<circle cx="71.8" cy="402.2" r="0.85" fill="#16a05a"/>
<circle cx="142.8" cy="315.1" r="0.85" fill="#16a05a"/>
<circle cx="135.9" cy="339.1" r="0.85" fill="#16a05a"/>
<circle cx="131.3" cy="335.1" r="0.85" fill="#16a05a"/>
<circle cx="63.7" cy="414.4" r="0.85" fill="#16a05a"/>
<circle cx="129.3" cy="348.2" r="0.85" fill="#16a05a"/>
<circle cx="125.8" cy="348.0" r="0.85" fill="#16a05a"/>
<circle cx="130.1" cy="337.0" r="0.85" fill="#16a05a"/>
<circle cx="83.4" cy="387.7" r="0.85" fill="#16a05a"/>
<circle cx="89.2" cy="394.0" r="0.85" fill="#16a05a"/>
<circle cx="89.8" cy="380.6" r="0.85" fill="#16a05a"/>
<circle cx="69.8" cy="406.6" r="0.85" fill="#16a05a"/>
<circle cx="66.6" cy="406.6" r="0.85" fill="#16a05a"/>
<circle cx="132.1" cy="325.6" r="0.85" fill="#16a05a"/>
<circle cx="68.0" cy="404.8" r="0.85" fill="#16a05a"/>
<circle cx="115.6" cy="367.6" r="0.85" fill="#16a05a"/>
<circle cx="85.0" cy="389.8" r="0.85" fill="#16a05a"/>
<circle cx="59.8" cy="415.7" r="0.85" fill="#16a05a"/>
<circle cx="151.0" cy="318.5" r="0.85" fill="#16a05a"/>
<circle cx="146.6" cy="325.0" r="0.85" fill="#16a05a"/>
<circle cx="92.9" cy="377.6" r="0.85" fill="#16a05a"/>
<circle cx="73.0" cy="405.0" r="0.85" fill="#16a05a"/>
<circle cx="76.3" cy="398.5" r="0.85" fill="#16a05a"/>
<circle cx="108.2" cy="361.7" r="0.85" fill="#16a05a"/>
<circle cx="77.0" cy="398.5" r="0.85" fill="#16a05a"/>
<circle cx="143.9" cy="320.3" r="0.85" fill="#16a05a"/>
<circle cx="85.3" cy="391.7" r="0.85" fill="#16a05a"/>
<circle cx="143.2" cy="320.6" r="0.85" fill="#16a05a"/>
<circle cx="91.6" cy="380.0" r="0.85" fill="#16a05a"/>
<circle cx="102.6" cy="373.2" r="0.85" fill="#16a05a"/>
<circle cx="101.7" cy="367.8" r="0.85" fill="#16a05a"/>
<circle cx="70.8" cy="404.1" r="0.85" fill="#16a05a"/>
<circle cx="59.5" cy="415.7" r="0.85" fill="#16a05a"/>
<circle cx="96.7" cy="379.6" r="0.85" fill="#16a05a"/>
<circle cx="123.0" cy="352.1" r="0.85" fill="#16a05a"/>
<circle cx="101.2" cy="373.7" r="0.85" fill="#16a05a"/>
<circle cx="105.0" cy="367.8" r="0.85" fill="#16a05a"/>
<circle cx="105.5" cy="369.6" r="0.85" fill="#16a05a"/>
<circle cx="76.1" cy="399.1" r="0.85" fill="#16a05a"/>
<circle cx="100.1" cy="367.3" r="0.85" fill="#16a05a"/>
<circle cx="105.6" cy="367.0" r="0.85" fill="#16a05a"/>
<circle cx="93.8" cy="388.4" r="0.85" fill="#16a05a"/>
<circle cx="110.9" cy="366.8" r="0.85" fill="#16a05a"/>
<circle cx="119.5" cy="352.1" r="0.85" fill="#16a05a"/>
<circle cx="94.6" cy="383.7" r="0.85" fill="#16a05a"/>
<circle cx="147.6" cy="319.2" r="0.85" fill="#16a05a"/>
<circle cx="120.2" cy="342.9" r="0.85" fill="#16a05a"/>
<circle cx="77.0" cy="401.5" r="0.85" fill="#16a05a"/>
<circle cx="105.4" cy="360.5" r="0.85" fill="#16a05a"/>
<circle cx="67.3" cy="409.6" r="0.85" fill="#16a05a"/>
<circle cx="66.2" cy="410.2" r="0.85" fill="#16a05a"/>
<circle cx="75.4" cy="398.8" r="0.85" fill="#16a05a"/>
<circle cx="63.0" cy="414.6" r="0.85" fill="#16a05a"/>
<circle cx="142.4" cy="332.8" r="0.85" fill="#16a05a"/>
<circle cx="72.6" cy="400.3" r="1.15" fill="#e8461c"/>
<circle cx="94.8" cy="374.4" r="1.15" fill="#e8461c"/>
<circle cx="78.5" cy="394.8" r="1.15" fill="#e8461c"/>
<circle cx="104.9" cy="358.1" r="1.15" fill="#e8461c"/>
<circle cx="66.0" cy="409.1" r="1.15" fill="#e8461c"/>
<circle cx="63.6" cy="410.8" r="1.15" fill="#e8461c"/>
<circle cx="78.9" cy="394.4" r="1.15" fill="#e8461c"/>
<circle cx="63.9" cy="410.8" r="1.15" fill="#e8461c"/>
<circle cx="67.9" cy="401.3" r="1.15" fill="#e8461c"/>
<circle cx="94.8" cy="369.2" r="1.15" fill="#e8461c"/>
<circle cx="62.5" cy="409.9" r="1.15" fill="#e8461c"/>
<circle cx="59.8" cy="414.8" r="1.15" fill="#e8461c"/>
<circle cx="77.4" cy="393.2" r="1.15" fill="#e8461c"/>
<circle cx="77.6" cy="395.2" r="1.15" fill="#e8461c"/>
<circle cx="72.3" cy="399.6" r="1.15" fill="#e8461c"/>
<circle cx="65.9" cy="407.6" r="1.15" fill="#e8461c"/>
<circle cx="78.1" cy="395.8" r="1.15" fill="#e8461c"/>
<circle cx="76.1" cy="398.4" r="1.15" fill="#e8461c"/>
<circle cx="76.2" cy="397.2" r="1.15" fill="#e8461c"/>
<circle cx="77.8" cy="392.9" r="1.15" fill="#e8461c"/>
<circle cx="59.8" cy="415.6" r="1.15" fill="#e8461c"/>
<circle cx="60.4" cy="414.7" r="1.15" fill="#e8461c"/>
<circle cx="61.2" cy="414.0" r="1.15" fill="#e8461c"/>
<circle cx="83.4" cy="384.7" r="1.15" fill="#e8461c"/>
<circle cx="60.7" cy="414.3" r="1.15" fill="#e8461c"/>
<circle cx="57.9" cy="415.6" r="1.15" fill="#e8461c"/>
<circle cx="87.8" cy="380.2" r="1.15" fill="#e8461c"/>
<circle cx="80.4" cy="387.9" r="1.15" fill="#e8461c"/>
<circle cx="85.8" cy="388.8" r="1.15" fill="#e8461c"/>
<circle cx="67.7" cy="405.6" r="1.15" fill="#e8461c"/>
<circle cx="79.2" cy="394.2" r="1.15" fill="#e8461c"/>
<circle cx="70.7" cy="399.3" r="1.15" fill="#e8461c"/>
<circle cx="64.2" cy="409.3" r="1.15" fill="#e8461c"/>
<circle cx="73.2" cy="398.7" r="1.15" fill="#e8461c"/>
<circle cx="60.4" cy="412.6" r="1.15" fill="#e8461c"/>
<circle cx="89.8" cy="376.1" r="1.15" fill="#e8461c"/>
<circle cx="62.0" cy="413.0" r="1.15" fill="#e8461c"/>
<circle cx="66.4" cy="405.7" r="1.15" fill="#e8461c"/>
<circle cx="78.7" cy="389.6" r="1.15" fill="#e8461c"/>
<circle cx="78.8" cy="392.8" r="1.15" fill="#e8461c"/>
<circle cx="64.4" cy="408.3" r="1.15" fill="#e8461c"/>
<circle cx="67.7" cy="405.8" r="1.15" fill="#e8461c"/>
<circle cx="67.7" cy="404.5" r="1.15" fill="#e8461c"/>
<circle cx="65.3" cy="408.5" r="1.15" fill="#e8461c"/>
<circle cx="58.0" cy="415.6" r="1.15" fill="#e8461c"/>
<circle cx="68.3" cy="403.9" r="1.15" fill="#e8461c"/>
<circle cx="89.6" cy="380.5" r="1.15" fill="#e8461c"/>
<circle cx="63.7" cy="413.2" r="1.15" fill="#e8461c"/>
<circle cx="97.0" cy="371.0" r="1.15" fill="#e8461c"/>
<circle cx="75.5" cy="399.1" r="1.15" fill="#e8461c"/>
<circle cx="89.1" cy="380.4" r="1.15" fill="#e8461c"/>
<circle cx="68.1" cy="408.1" r="1.15" fill="#e8461c"/>
<circle cx="75.5" cy="394.9" r="1.15" fill="#e8461c"/>
<circle cx="77.0" cy="398.3" r="1.15" fill="#e8461c"/>
<circle cx="72.1" cy="400.3" r="1.15" fill="#e8461c"/>
<circle cx="64.5" cy="409.3" r="1.15" fill="#e8461c"/>
<circle cx="75.6" cy="398.9" r="1.15" fill="#e8461c"/>
<circle cx="71.8" cy="401.7" r="1.15" fill="#e8461c"/>
<circle cx="57.7" cy="415.6" r="1.15" fill="#e8461c"/>
<circle cx="68.4" cy="407.5" r="1.15" fill="#e8461c"/>
<circle cx="58.7" cy="415.6" r="1.15" fill="#e8461c"/>
<circle cx="62.5" cy="413.0" r="1.15" fill="#e8461c"/>
<circle cx="82.0" cy="388.8" r="1.15" fill="#e8461c"/>
<circle cx="65.0" cy="412.9" r="1.15" fill="#e8461c"/>
<circle cx="71.9" cy="400.4" r="1.15" fill="#e8461c"/>
<circle cx="58.9" cy="415.6" r="1.15" fill="#e8461c"/>
<circle cx="62.2" cy="412.4" r="1.15" fill="#e8461c"/>
<circle cx="57.8" cy="415.6" r="1.15" fill="#e8461c"/>
<circle cx="62.5" cy="412.9" r="1.15" fill="#e8461c"/>
<circle cx="63.0" cy="413.2" r="1.15" fill="#e8461c"/>
<circle cx="66.8" cy="407.6" r="1.15" fill="#e8461c"/>
<circle cx="81.9" cy="388.2" r="1.15" fill="#e8461c"/>
<circle cx="106.1" cy="355.0" r="1.15" fill="#e8461c"/>
<circle cx="94.8" cy="372.5" r="1.15" fill="#e8461c"/>
<circle cx="62.5" cy="411.2" r="1.15" fill="#e8461c"/>
<circle cx="69.5" cy="399.6" r="1.15" fill="#e8461c"/>
<circle cx="68.1" cy="404.4" r="1.15" fill="#e8461c"/>
<circle cx="87.1" cy="382.7" r="1.15" fill="#e8461c"/>
<circle cx="90.4" cy="377.6" r="1.15" fill="#e8461c"/>
<circle cx="58.0" cy="415.3" r="1.15" fill="#e8461c"/>
<circle cx="67.4" cy="407.3" r="1.15" fill="#e8461c"/>
<circle cx="64.1" cy="409.7" r="1.15" fill="#e8461c"/>
<circle cx="75.7" cy="392.6" r="1.15" fill="#e8461c"/>
<circle cx="80.6" cy="390.1" r="1.15" fill="#e8461c"/>
<circle cx="90.5" cy="376.1" r="1.15" fill="#e8461c"/>
<circle cx="65.2" cy="409.4" r="1.15" fill="#e8461c"/>
<circle cx="102.1" cy="366.5" r="1.15" fill="#e8461c"/>
<circle cx="58.4" cy="415.6" r="1.15" fill="#e8461c"/>
<circle cx="75.5" cy="397.3" r="1.15" fill="#e8461c"/>
<circle cx="62.5" cy="409.1" r="1.15" fill="#e8461c"/>
<circle cx="60.9" cy="415.6" r="1.15" fill="#e8461c"/>
<circle cx="92.2" cy="370.7" r="1.15" fill="#e8461c"/>
<circle cx="77.5" cy="391.3" r="1.15" fill="#e8461c"/>
<circle cx="58.4" cy="415.6" r="1.15" fill="#e8461c"/>
<circle cx="86.1" cy="383.3" r="1.15" fill="#e8461c"/>
<circle cx="58.4" cy="415.6" r="1.15" fill="#e8461c"/>
<circle cx="80.7" cy="392.1" r="1.15" fill="#e8461c"/>
<circle cx="73.2" cy="398.8" r="1.15" fill="#e8461c"/>
<circle cx="98.3" cy="370.3" r="1.15" fill="#e8461c"/>
<circle cx="65.2" cy="409.7" r="1.15" fill="#e8461c"/>
<circle cx="60.4" cy="413.9" r="1.15" fill="#e8461c"/>
<circle cx="61.5" cy="410.6" r="1.15" fill="#e8461c"/>
<circle cx="95.3" cy="374.0" r="1.15" fill="#e8461c"/>
<circle cx="59.1" cy="415.6" r="1.15" fill="#e8461c"/>
<circle cx="59.1" cy="415.6" r="1.15" fill="#e8461c"/>
<circle cx="76.8" cy="393.0" r="1.15" fill="#e8461c"/>
<circle cx="85.5" cy="386.9" r="1.15" fill="#e8461c"/>
<circle cx="64.0" cy="409.3" r="1.15" fill="#e8461c"/>
<circle cx="62.7" cy="411.1" r="1.15" fill="#e8461c"/>
<circle cx="70.6" cy="402.4" r="1.15" fill="#e8461c"/>
<circle cx="82.2" cy="388.4" r="1.15" fill="#e8461c"/>
<circle cx="66.4" cy="406.2" r="1.15" fill="#e8461c"/>
<circle cx="105.1" cy="359.9" r="1.15" fill="#e8461c"/>
<circle cx="72.5" cy="400.2" r="1.15" fill="#e8461c"/>
<circle cx="86.5" cy="383.0" r="1.15" fill="#e8461c"/>
<circle cx="77.8" cy="393.5" r="1.15" fill="#e8461c"/>
<circle cx="92.9" cy="372.9" r="1.15" fill="#e8461c"/>
<circle cx="60.3" cy="414.9" r="1.15" fill="#e8461c"/>
<circle cx="71.8" cy="398.0" r="1.15" fill="#e8461c"/>
<circle cx="73.8" cy="399.4" r="1.15" fill="#e8461c"/>
<circle cx="68.8" cy="401.6" r="1.15" fill="#e8461c"/>
<circle cx="77.6" cy="392.8" r="1.15" fill="#e8461c"/>
<circle cx="63.3" cy="410.4" r="1.15" fill="#e8461c"/>
<circle cx="72.2" cy="399.2" r="1.15" fill="#e8461c"/>
<circle cx="58.7" cy="415.6" r="1.15" fill="#e8461c"/>
<circle cx="61.6" cy="413.3" r="1.15" fill="#e8461c"/>
<circle cx="57.8" cy="415.6" r="1.15" fill="#e8461c"/>
<circle cx="102.7" cy="359.5" r="1.15" fill="#e8461c"/>
<circle cx="86.5" cy="382.7" r="1.15" fill="#e8461c"/>
<circle cx="103.4" cy="359.7" r="1.15" fill="#e8461c"/>
<circle cx="58.0" cy="415.6" r="1.15" fill="#e8461c"/>
<circle cx="62.3" cy="412.2" r="1.15" fill="#e8461c"/>
<circle cx="77.8" cy="393.4" r="1.15" fill="#e8461c"/>
<circle cx="65.8" cy="407.6" r="1.15" fill="#e8461c"/>
<circle cx="61.1" cy="413.1" r="1.15" fill="#e8461c"/>
<circle cx="61.3" cy="415.4" r="1.15" fill="#e8461c"/>
<circle cx="98.9" cy="366.9" r="1.15" fill="#e8461c"/>
<circle cx="73.7" cy="399.7" r="1.15" fill="#e8461c"/>
<circle cx="78.4" cy="394.2" r="1.15" fill="#e8461c"/>
<circle cx="65.7" cy="408.1" r="1.15" fill="#e8461c"/>
<circle cx="78.4" cy="391.5" r="1.15" fill="#e8461c"/>
<circle cx="79.0" cy="390.3" r="1.15" fill="#e8461c"/>
<circle cx="58.4" cy="415.6" r="1.15" fill="#e8461c"/>
<circle cx="93.4" cy="373.5" r="1.15" fill="#e8461c"/>
<circle cx="95.3" cy="369.7" r="1.15" fill="#e8461c"/>
<circle cx="78.0" cy="394.0" r="1.15" fill="#e8461c"/>
<circle cx="79.1" cy="393.0" r="1.15" fill="#e8461c"/>
<circle cx="63.9" cy="411.5" r="1.15" fill="#e8461c"/>
<circle cx="57.7" cy="415.6" r="1.15" fill="#e8461c"/>
<circle cx="96.7" cy="367.5" r="1.15" fill="#e8461c"/>
<circle cx="97.7" cy="373.3" r="1.15" fill="#e8461c"/>
<circle cx="85.8" cy="379.9" r="1.15" fill="#e8461c"/>
<circle cx="67.0" cy="409.0" r="1.15" fill="#e8461c"/>
<circle cx="64.6" cy="407.3" r="1.15" fill="#e8461c"/>
<circle cx="79.1" cy="395.4" r="1.15" fill="#e8461c"/>
<circle cx="79.3" cy="389.5" r="1.15" fill="#e8461c"/>
<circle cx="58.6" cy="415.6" r="1.15" fill="#e8461c"/>
<circle cx="93.6" cy="375.5" r="1.15" fill="#e8461c"/>
<circle cx="62.6" cy="410.2" r="1.15" fill="#e8461c"/>
<circle cx="72.7" cy="400.4" r="1.15" fill="#e8461c"/>
<circle cx="62.7" cy="409.6" r="1.15" fill="#e8461c"/>
<circle cx="89.2" cy="379.6" r="1.15" fill="#e8461c"/>
<circle cx="79.0" cy="391.8" r="1.15" fill="#e8461c"/>
<circle cx="106.3" cy="354.6" r="1.15" fill="#e8461c"/>
<circle cx="62.2" cy="413.7" r="1.15" fill="#e8461c"/>
<circle cx="81.7" cy="387.6" r="1.15" fill="#e8461c"/>
<circle cx="90.9" cy="375.3" r="1.15" fill="#e8461c"/>
<circle cx="63.8" cy="412.5" r="1.15" fill="#e8461c"/>
<circle cx="64.5" cy="409.5" r="1.15" fill="#e8461c"/>
<circle cx="73.5" cy="399.4" r="1.15" fill="#e8461c"/>
<circle cx="58.6" cy="415.4" r="1.15" fill="#e8461c"/>
<circle cx="79.1" cy="391.3" r="1.15" fill="#e8461c"/>
<circle cx="95.1" cy="372.7" r="1.15" fill="#e8461c"/>
<circle cx="67.6" cy="405.2" r="1.15" fill="#e8461c"/>
<circle cx="66.4" cy="407.1" r="1.15" fill="#e8461c"/>
<circle cx="71.6" cy="399.1" r="1.15" fill="#e8461c"/>
<circle cx="92.8" cy="376.2" r="1.15" fill="#e8461c"/>
<circle cx="83.5" cy="387.7" r="1.15" fill="#e8461c"/>
<circle cx="64.8" cy="409.3" r="1.15" fill="#e8461c"/>
<circle cx="62.1" cy="413.4" r="1.15" fill="#e8461c"/>
<circle cx="76.7" cy="396.4" r="1.15" fill="#e8461c"/>
<circle cx="79.5" cy="392.4" r="1.15" fill="#e8461c"/>
<circle cx="61.8" cy="412.2" r="1.15" fill="#e8461c"/>
<circle cx="96.5" cy="375.3" r="1.15" fill="#e8461c"/>
<circle cx="75.1" cy="394.3" r="1.15" fill="#e8461c"/>
<circle cx="63.1" cy="413.8" r="1.15" fill="#e8461c"/>
<circle cx="60.9" cy="412.4" r="1.15" fill="#e8461c"/>
<circle cx="84.8" cy="385.6" r="1.15" fill="#e8461c"/>
<circle cx="86.1" cy="383.7" r="1.15" fill="#e8461c"/>
<circle cx="80.4" cy="386.3" r="1.15" fill="#e8461c"/>
<circle cx="70.4" cy="402.2" r="1.15" fill="#e8461c"/>
<circle cx="61.2" cy="412.4" r="1.15" fill="#e8461c"/>
<circle cx="69.9" cy="403.7" r="1.15" fill="#e8461c"/>
<circle cx="63.8" cy="411.2" r="1.15" fill="#e8461c"/>
<circle cx="60.9" cy="414.3" r="1.15" fill="#e8461c"/>
<circle cx="87.8" cy="379.7" r="1.15" fill="#e8461c"/>
<circle cx="59.3" cy="415.6" r="1.15" fill="#e8461c"/>
<circle cx="59.1" cy="415.3" r="1.15" fill="#e8461c"/>
<circle cx="72.2" cy="401.6" r="1.15" fill="#e8461c"/>
<circle cx="78.5" cy="391.7" r="1.15" fill="#e8461c"/>
<circle cx="69.1" cy="405.1" r="1.15" fill="#e8461c"/>
<circle cx="95.3" cy="369.7" r="1.15" fill="#e8461c"/>
<circle cx="61.1" cy="413.8" r="1.15" fill="#e8461c"/>
<circle cx="77.2" cy="395.7" r="1.15" fill="#e8461c"/>
<circle cx="75.2" cy="400.2" r="1.15" fill="#e8461c"/>
<circle cx="60.4" cy="413.2" r="1.15" fill="#e8461c"/>
<circle cx="68.8" cy="406.7" r="1.15" fill="#e8461c"/>
<circle cx="70.4" cy="405.4" r="1.15" fill="#e8461c"/>
<circle cx="67.7" cy="404.9" r="1.15" fill="#e8461c"/>
<circle cx="77.8" cy="392.1" r="1.15" fill="#e8461c"/>
<circle cx="67.4" cy="404.7" r="1.15" fill="#e8461c"/>
<circle cx="59.7" cy="415.6" r="1.15" fill="#e8461c"/>
<circle cx="94.9" cy="373.8" r="1.15" fill="#e8461c"/>
<circle cx="85.1" cy="384.6" r="1.15" fill="#e8461c"/>
<circle cx="89.0" cy="379.2" r="1.15" fill="#e8461c"/>
<circle cx="82.3" cy="389.3" r="1.15" fill="#e8461c"/>
<circle cx="75.8" cy="395.3" r="1.15" fill="#e8461c"/>
<circle cx="65.3" cy="409.4" r="1.15" fill="#e8461c"/>
<circle cx="65.0" cy="408.2" r="1.15" fill="#e8461c"/>
<circle cx="93.6" cy="372.7" r="1.15" fill="#e8461c"/>
<circle cx="69.0" cy="404.1" r="1.15" fill="#e8461c"/>
<circle cx="80.6" cy="390.8" r="1.15" fill="#e8461c"/>
<circle cx="68.7" cy="405.4" r="1.15" fill="#e8461c"/>
<circle cx="69.5" cy="404.6" r="1.15" fill="#e8461c"/>
<circle cx="71.3" cy="403.2" r="1.15" fill="#e8461c"/>
<circle cx="70.3" cy="401.9" r="1.15" fill="#e8461c"/>
<circle cx="61.9" cy="412.6" r="1.15" fill="#e8461c"/>
<circle cx="60.7" cy="415.6" r="1.15" fill="#e8461c"/>
<circle cx="59.4" cy="415.0" r="1.15" fill="#e8461c"/>
<circle cx="66.3" cy="406.3" r="1.15" fill="#e8461c"/>
<circle cx="58.3" cy="415.6" r="1.15" fill="#e8461c"/>
<circle cx="91.6" cy="377.7" r="1.15" fill="#e8461c"/>
<circle cx="58.5" cy="415.6" r="1.15" fill="#e8461c"/>
<circle cx="96.9" cy="370.5" r="1.15" fill="#e8461c"/>
<circle cx="95.3" cy="373.0" r="1.15" fill="#e8461c"/>
<circle cx="79.2" cy="396.0" r="1.15" fill="#e8461c"/>
<circle cx="78.6" cy="391.4" r="1.15" fill="#e8461c"/>
<circle cx="94.2" cy="374.6" r="1.15" fill="#e8461c"/>
<circle cx="64.3" cy="409.8" r="1.15" fill="#e8461c"/>
<circle cx="83.2" cy="388.4" r="1.15" fill="#e8461c"/>
<circle cx="81.0" cy="395.0" r="1.15" fill="#e8461c"/>
<circle cx="62.4" cy="412.1" r="1.15" fill="#e8461c"/>
<circle cx="63.6" cy="409.9" r="1.15" fill="#e8461c"/>
<circle cx="78.0" cy="392.9" r="1.15" fill="#e8461c"/>
<circle cx="77.0" cy="392.6" r="1.15" fill="#e8461c"/>
<circle cx="68.3" cy="402.5" r="1.15" fill="#e8461c"/>
<circle cx="64.5" cy="408.4" r="1.15" fill="#e8461c"/>
<circle cx="76.7" cy="396.7" r="1.15" fill="#e8461c"/>
<circle cx="79.5" cy="393.0" r="1.15" fill="#e8461c"/>
<circle cx="83.0" cy="389.0" r="1.15" fill="#e8461c"/>
<circle cx="102.0" cy="368.2" r="1.15" fill="#e8461c"/>
<circle cx="60.7" cy="412.7" r="1.15" fill="#e8461c"/>
<circle cx="79.4" cy="390.8" r="1.15" fill="#e8461c"/>
<circle cx="79.2" cy="393.3" r="1.15" fill="#e8461c"/>
<circle cx="71.4" cy="401.3" r="1.15" fill="#e8461c"/>
<circle cx="60.2" cy="414.8" r="1.15" fill="#e8461c"/>
<circle cx="66.1" cy="410.9" r="1.15" fill="#e8461c"/>
<circle cx="61.7" cy="413.2" r="1.15" fill="#e8461c"/>
<circle cx="58.0" cy="415.6" r="1.15" fill="#e8461c"/>
<circle cx="64.4" cy="409.7" r="1.15" fill="#e8461c"/>
<circle cx="69.5" cy="404.5" r="1.15" fill="#e8461c"/>
<circle cx="67.0" cy="407.1" r="1.15" fill="#e8461c"/>
<circle cx="78.1" cy="393.1" r="1.15" fill="#e8461c"/>
<circle cx="70.8" cy="401.0" r="1.15" fill="#e8461c"/>
<circle cx="91.7" cy="378.6" r="1.15" fill="#e8461c"/>
<circle cx="71.0" cy="401.0" r="1.15" fill="#e8461c"/>
<circle cx="64.3" cy="410.8" r="1.15" fill="#e8461c"/>
<circle cx="90.9" cy="380.2" r="1.15" fill="#e8461c"/>
<circle cx="77.2" cy="391.6" r="1.15" fill="#e8461c"/>
<circle cx="61.9" cy="412.3" r="1.15" fill="#e8461c"/>
<circle cx="74.2" cy="395.4" r="1.15" fill="#e8461c"/>
<circle cx="81.0" cy="389.4" r="1.15" fill="#e8461c"/>
<circle cx="70.1" cy="405.3" r="1.15" fill="#e8461c"/>
<circle cx="81.5" cy="389.1" r="1.15" fill="#e8461c"/>
<circle cx="63.2" cy="408.5" r="1.15" fill="#e8461c"/>
<circle cx="90.6" cy="376.2" r="1.15" fill="#e8461c"/>
<circle cx="75.8" cy="396.0" r="1.15" fill="#e8461c"/>
<circle cx="86.2" cy="386.4" r="1.15" fill="#e8461c"/>
<circle cx="59.3" cy="415.6" r="1.15" fill="#e8461c"/>
<circle cx="73.5" cy="398.2" r="1.15" fill="#e8461c"/>
<circle cx="75.8" cy="396.3" r="1.15" fill="#e8461c"/>
<circle cx="66.1" cy="408.7" r="1.15" fill="#e8461c"/>
<circle cx="87.3" cy="382.3" r="1.15" fill="#e8461c"/>
<circle cx="97.8" cy="364.5" r="1.15" fill="#e8461c"/>
<circle cx="78.9" cy="392.3" r="1.15" fill="#e8461c"/>
<circle cx="94.4" cy="371.1" r="1.15" fill="#e8461c"/>
<circle cx="84.1" cy="384.2" r="1.15" fill="#e8461c"/>
<circle cx="77.3" cy="395.4" r="1.15" fill="#e8461c"/>
<circle cx="72.1" cy="403.0" r="1.15" fill="#e8461c"/>
<circle cx="75.7" cy="401.0" r="1.15" fill="#e8461c"/>
<circle cx="76.1" cy="398.7" r="1.15" fill="#e8461c"/>
<circle cx="63.4" cy="410.2" r="1.15" fill="#e8461c"/>
<circle cx="70.4" cy="399.0" r="1.15" fill="#e8461c"/>
<circle cx="58.0" cy="415.6" r="1.15" fill="#e8461c"/>
<circle cx="77.9" cy="394.1" r="1.15" fill="#e8461c"/>
<circle cx="58.3" cy="415.6" r="1.15" fill="#e8461c"/>
<circle cx="70.7" cy="403.0" r="1.15" fill="#e8461c"/>
<circle cx="69.7" cy="406.0" r="1.15" fill="#e8461c"/>
<circle cx="75.1" cy="394.9" r="1.15" fill="#e8461c"/>
<circle cx="76.3" cy="399.3" r="1.15" fill="#e8461c"/>
<circle cx="94.4" cy="371.7" r="1.15" fill="#e8461c"/>
<circle cx="58.2" cy="415.6" r="1.15" fill="#e8461c"/>
<circle cx="92.2" cy="379.9" r="1.15" fill="#e8461c"/>
<circle cx="62.9" cy="413.3" r="1.15" fill="#e8461c"/>
<circle cx="59.2" cy="415.6" r="1.15" fill="#e8461c"/>
<circle cx="65.9" cy="408.9" r="1.15" fill="#e8461c"/>
<circle cx="62.3" cy="412.7" r="1.15" fill="#e8461c"/>
<circle cx="63.6" cy="408.5" r="1.15" fill="#e8461c"/>
<circle cx="101.1" cy="362.3" r="1.15" fill="#e8461c"/>
<circle cx="65.6" cy="409.8" r="1.15" fill="#e8461c"/>
<circle cx="74.0" cy="399.8" r="1.15" fill="#e8461c"/>
<circle cx="61.5" cy="411.7" r="1.15" fill="#e8461c"/>
<circle cx="80.1" cy="390.1" r="1.15" fill="#e8461c"/>
<circle cx="61.2" cy="414.3" r="1.15" fill="#e8461c"/>
<circle cx="94.9" cy="369.0" r="1.15" fill="#e8461c"/>
<circle cx="74.6" cy="397.3" r="1.15" fill="#e8461c"/>
<circle cx="67.5" cy="407.7" r="1.15" fill="#e8461c"/>
<circle cx="78.2" cy="389.5" r="1.15" fill="#e8461c"/>
<circle cx="61.4" cy="413.7" r="1.15" fill="#e8461c"/>
<circle cx="70.8" cy="404.0" r="1.15" fill="#e8461c"/>
<circle cx="74.4" cy="398.8" r="1.15" fill="#e8461c"/>
<circle cx="64.4" cy="412.0" r="1.15" fill="#e8461c"/>
<circle cx="65.2" cy="408.2" r="1.15" fill="#e8461c"/>
<circle cx="79.0" cy="392.6" r="1.15" fill="#e8461c"/>
<circle cx="62.4" cy="410.9" r="1.15" fill="#e8461c"/>
<circle cx="76.7" cy="396.2" r="1.15" fill="#e8461c"/>
<circle cx="66.7" cy="409.4" r="1.15" fill="#e8461c"/>
<circle cx="89.4" cy="380.4" r="1.15" fill="#e8461c"/>
<circle cx="63.8" cy="409.0" r="1.15" fill="#e8461c"/>
<circle cx="73.3" cy="395.9" r="1.15" fill="#e8461c"/>
<circle cx="66.2" cy="407.2" r="1.15" fill="#e8461c"/>
<circle cx="66.7" cy="408.9" r="1.15" fill="#e8461c"/>
<circle cx="82.6" cy="387.0" r="1.15" fill="#e8461c"/>
<circle cx="75.7" cy="394.3" r="1.15" fill="#e8461c"/>
<circle cx="60.3" cy="414.7" r="1.15" fill="#e8461c"/>
<circle cx="60.4" cy="413.5" r="1.15" fill="#e8461c"/>
<circle cx="60.9" cy="412.0" r="1.15" fill="#e8461c"/>
<circle cx="78.7" cy="393.0" r="1.15" fill="#e8461c"/>
<circle cx="65.0" cy="406.5" r="1.15" fill="#e8461c"/>
<circle cx="85.9" cy="384.2" r="1.15" fill="#e8461c"/>
<circle cx="70.8" cy="401.0" r="1.15" fill="#e8461c"/>
<circle cx="58.1" cy="415.6" r="1.15" fill="#e8461c"/>
<circle cx="74.5" cy="398.4" r="1.15" fill="#e8461c"/>
<circle cx="66.8" cy="408.5" r="1.15" fill="#e8461c"/>
<circle cx="70.0" cy="405.3" r="1.15" fill="#e8461c"/>
<circle cx="85.8" cy="381.4" r="1.15" fill="#e8461c"/>
<circle cx="73.4" cy="400.0" r="1.15" fill="#e8461c"/>
<circle cx="93.3" cy="373.7" r="1.15" fill="#e8461c"/>
<circle cx="90.3" cy="375.7" r="1.15" fill="#e8461c"/>
<circle cx="66.5" cy="408.9" r="1.15" fill="#e8461c"/>
<circle cx="70.6" cy="400.8" r="1.15" fill="#e8461c"/>
<circle cx="90.5" cy="376.3" r="1.15" fill="#e8461c"/>
<circle cx="62.2" cy="413.7" r="1.15" fill="#e8461c"/>
<circle cx="65.6" cy="407.6" r="1.15" fill="#e8461c"/>
<circle cx="77.9" cy="392.1" r="1.15" fill="#e8461c"/>
<circle cx="85.1" cy="381.2" r="1.15" fill="#e8461c"/>
<circle cx="79.0" cy="389.3" r="1.15" fill="#e8461c"/>
<circle cx="74.2" cy="397.2" r="1.15" fill="#e8461c"/>
<circle cx="87.3" cy="379.1" r="1.15" fill="#e8461c"/>
<circle cx="72.7" cy="398.2" r="1.15" fill="#e8461c"/>
<circle cx="70.8" cy="400.9" r="1.15" fill="#e8461c"/>
<circle cx="78.3" cy="395.2" r="1.15" fill="#e8461c"/>
<circle cx="71.9" cy="403.1" r="1.15" fill="#e8461c"/>
<circle cx="79.3" cy="389.3" r="1.15" fill="#e8461c"/>
<circle cx="58.5" cy="415.6" r="1.15" fill="#e8461c"/>
<circle cx="65.8" cy="406.6" r="1.15" fill="#e8461c"/>
<circle cx="72.2" cy="401.1" r="1.15" fill="#e8461c"/>
<circle cx="73.3" cy="397.8" r="1.15" fill="#e8461c"/>
<circle cx="87.4" cy="380.9" r="1.15" fill="#e8461c"/>
<circle cx="61.4" cy="411.2" r="1.15" fill="#e8461c"/>
<circle cx="74.1" cy="396.9" r="1.15" fill="#e8461c"/>
<circle cx="69.0" cy="406.3" r="1.15" fill="#e8461c"/>
<circle cx="78.7" cy="394.3" r="1.15" fill="#e8461c"/>
<circle cx="92.2" cy="372.5" r="1.15" fill="#e8461c"/>
<circle cx="63.1" cy="412.0" r="1.15" fill="#e8461c"/>
<circle cx="84.5" cy="385.7" r="1.15" fill="#e8461c"/>
<circle cx="83.1" cy="388.5" r="1.15" fill="#e8461c"/>
<circle cx="60.9" cy="413.4" r="1.15" fill="#e8461c"/>
<circle cx="72.8" cy="399.8" r="1.15" fill="#e8461c"/>
<circle cx="67.1" cy="405.3" r="1.15" fill="#e8461c"/>
<circle cx="175.6" cy="286.2" r="0.85" fill="#16a05a"/>
<circle cx="154.0" cy="306.6" r="0.85" fill="#16a05a"/>
<circle cx="149.0" cy="311.5" r="0.85" fill="#16a05a"/>
<circle cx="152.2" cy="307.3" r="0.85" fill="#16a05a"/>
<circle cx="145.5" cy="317.7" r="0.85" fill="#16a05a"/>
<line x1="58.1" y1="414.9" x2="184" y2="277.3" stroke="#000" stroke-width="1.2"/>
<text x="70.2" y="307.8" font-size="9.20" text-anchor="start" font-weight="normal" font-style="normal" fill="#141414" textLength="75.0" lengthAdjust="spacingAndGlyphs" ><tspan font-style="italic">y</tspan> = 0.95x – 13.55</text>
<text x="0" y="0" transform="translate(21.7 436.7) rotate(-90.0)" font-size="10.50" text-anchor="start" font-weight="normal" font-style="normal" fill="#141414" textLength="177.0" lengthAdjust="spacingAndGlyphs" >Myofibril cross sectional area (µm<tspan font-size="6.5" dy="-4">2</tspan><tspan dy="4">)</tspan></text>
<text x="51.8" y="448.9" font-size="10.50" text-anchor="start" font-weight="normal" font-style="normal" fill="#141414" textLength="156.4" lengthAdjust="spacingAndGlyphs" >Fibre cross sectional area (µm<tspan font-size="6.5" dy="-4">2</tspan><tspan dy="4">)</tspan></text>
<path d="M288.0,263.9 V412.3 H436.2" fill="none" stroke="#111" stroke-width="1.3"/>
<line x1="285.0" y1="412.3" x2="288.0" y2="412.3" stroke="#111" stroke-width="1"/>
<text x="281.6" y="415.9" font-size="10.40" text-anchor="end" font-weight="normal" font-style="normal" fill="#141414" textLength="5.3" lengthAdjust="spacingAndGlyphs" >0</text>
<line x1="285.0" y1="393.8" x2="288.0" y2="393.8" stroke="#111" stroke-width="1"/>
<text x="281.6" y="397.4" font-size="10.40" text-anchor="end" font-weight="normal" font-style="normal" fill="#141414" textLength="16.0" lengthAdjust="spacingAndGlyphs" >100</text>
<line x1="285.0" y1="375.2" x2="288.0" y2="375.2" stroke="#111" stroke-width="1"/>
<text x="281.6" y="378.8" font-size="10.40" text-anchor="end" font-weight="normal" font-style="normal" fill="#141414" textLength="16.0" lengthAdjust="spacingAndGlyphs" >200</text>
<line x1="285.0" y1="356.7" x2="288.0" y2="356.7" stroke="#111" stroke-width="1"/>
<text x="281.6" y="360.3" font-size="10.40" text-anchor="end" font-weight="normal" font-style="normal" fill="#141414" textLength="16.0" lengthAdjust="spacingAndGlyphs" >300</text>
<line x1="285.0" y1="338.1" x2="288.0" y2="338.1" stroke="#111" stroke-width="1"/>
<text x="281.6" y="341.7" font-size="10.40" text-anchor="end" font-weight="normal" font-style="normal" fill="#141414" textLength="16.0" lengthAdjust="spacingAndGlyphs" >400</text>
<line x1="285.0" y1="319.6" x2="288.0" y2="319.6" stroke="#111" stroke-width="1"/>
<text x="281.6" y="323.2" font-size="10.40" text-anchor="end" font-weight="normal" font-style="normal" fill="#141414" textLength="16.0" lengthAdjust="spacingAndGlyphs" >500</text>
<line x1="285.0" y1="301.0" x2="288.0" y2="301.0" stroke="#111" stroke-width="1"/>
<text x="281.6" y="304.6" font-size="10.40" text-anchor="end" font-weight="normal" font-style="normal" fill="#141414" textLength="16.0" lengthAdjust="spacingAndGlyphs" >600</text>
<line x1="285.0" y1="282.5" x2="288.0" y2="282.5" stroke="#111" stroke-width="1"/>
<text x="281.6" y="286.1" font-size="10.40" text-anchor="end" font-weight="normal" font-style="normal" fill="#141414" textLength="16.0" lengthAdjust="spacingAndGlyphs" >700</text>
<line x1="285.0" y1="263.9" x2="288.0" y2="263.9" stroke="#111" stroke-width="1"/>
<text x="281.6" y="267.5" font-size="10.40" text-anchor="end" font-weight="normal" font-style="normal" fill="#141414" textLength="16.0" lengthAdjust="spacingAndGlyphs" >800</text>
<line x1="288.0" y1="412.3" x2="288.0" y2="415.3" stroke="#111" stroke-width="1"/>
<text x="288.0" y="429.4" font-size="10.40" text-anchor="middle" font-weight="normal" font-style="normal" fill="#141414" textLength="5.3" lengthAdjust="spacingAndGlyphs" >0</text>
<line x1="312.7" y1="412.3" x2="312.7" y2="415.3" stroke="#111" stroke-width="1"/>
<text x="312.7" y="429.4" font-size="10.40" text-anchor="middle" font-weight="normal" font-style="normal" fill="#141414" textLength="16.0" lengthAdjust="spacingAndGlyphs" >100</text>
<line x1="337.4" y1="412.3" x2="337.4" y2="415.3" stroke="#111" stroke-width="1"/>
<text x="337.4" y="429.4" font-size="10.40" text-anchor="middle" font-weight="normal" font-style="normal" fill="#141414" textLength="16.0" lengthAdjust="spacingAndGlyphs" >200</text>
<line x1="362.1" y1="412.3" x2="362.1" y2="415.3" stroke="#111" stroke-width="1"/>
<text x="362.1" y="429.4" font-size="10.40" text-anchor="middle" font-weight="normal" font-style="normal" fill="#141414" textLength="16.0" lengthAdjust="spacingAndGlyphs" >300</text>
<line x1="386.8" y1="412.3" x2="386.8" y2="415.3" stroke="#111" stroke-width="1"/>
<text x="386.8" y="429.4" font-size="10.40" text-anchor="middle" font-weight="normal" font-style="normal" fill="#141414" textLength="16.0" lengthAdjust="spacingAndGlyphs" >400</text>
<line x1="411.5" y1="412.3" x2="411.5" y2="415.3" stroke="#111" stroke-width="1"/>
<text x="411.5" y="429.4" font-size="10.40" text-anchor="middle" font-weight="normal" font-style="normal" fill="#141414" textLength="16.0" lengthAdjust="spacingAndGlyphs" >500</text>
<line x1="436.2" y1="412.3" x2="436.2" y2="415.3" stroke="#111" stroke-width="1"/>
<text x="436.2" y="429.4" font-size="10.40" text-anchor="middle" font-weight="normal" font-style="normal" fill="#141414" textLength="16.0" lengthAdjust="spacingAndGlyphs" >600</text>
<circle cx="325.8" cy="377.9" r="0.85" fill="#16a05a"/>
<circle cx="318.9" cy="384.7" r="0.85" fill="#16a05a"/>
<circle cx="386.9" cy="316.6" r="0.85" fill="#16a05a"/>
<circle cx="373.6" cy="331.3" r="0.85" fill="#16a05a"/>
<circle cx="383.9" cy="320.0" r="0.85" fill="#16a05a"/>
<circle cx="374.0" cy="332.0" r="0.85" fill="#16a05a"/>
<circle cx="349.1" cy="352.9" r="0.85" fill="#16a05a"/>
<circle cx="390.1" cy="314.5" r="0.85" fill="#16a05a"/>
<circle cx="351.9" cy="350.7" r="0.85" fill="#16a05a"/>
<circle cx="298.9" cy="400.0" r="0.85" fill="#16a05a"/>
<circle cx="306.5" cy="393.3" r="0.85" fill="#16a05a"/>
<circle cx="299.7" cy="401.8" r="0.85" fill="#16a05a"/>
<circle cx="383.6" cy="320.0" r="0.85" fill="#16a05a"/>
<circle cx="381.9" cy="324.8" r="0.85" fill="#16a05a"/>
<circle cx="346.1" cy="355.2" r="0.85" fill="#16a05a"/>
<circle cx="382.3" cy="328.3" r="0.85" fill="#16a05a"/>
<circle cx="368.4" cy="333.7" r="0.85" fill="#16a05a"/>
<circle cx="356.4" cy="348.5" r="0.85" fill="#16a05a"/>
<circle cx="337.1" cy="364.9" r="0.85" fill="#16a05a"/>
<circle cx="380.8" cy="328.0" r="0.85" fill="#16a05a"/>
<circle cx="339.9" cy="362.3" r="0.85" fill="#16a05a"/>
<circle cx="298.7" cy="399.8" r="0.85" fill="#16a05a"/>
<circle cx="332.8" cy="365.8" r="0.85" fill="#16a05a"/>
<circle cx="299.1" cy="400.0" r="0.85" fill="#16a05a"/>
<circle cx="332.6" cy="372.5" r="0.85" fill="#16a05a"/>
<circle cx="378.1" cy="325.8" r="0.85" fill="#16a05a"/>
<circle cx="290.6" cy="407.7" r="0.85" fill="#16a05a"/>
<circle cx="340.7" cy="364.2" r="0.85" fill="#16a05a"/>
<circle cx="353.0" cy="347.9" r="0.85" fill="#16a05a"/>
<circle cx="324.7" cy="378.5" r="0.85" fill="#16a05a"/>
<circle cx="391.3" cy="307.6" r="0.85" fill="#16a05a"/>
<circle cx="349.5" cy="350.9" r="0.85" fill="#16a05a"/>
<circle cx="291.5" cy="409.7" r="0.85" fill="#16a05a"/>
<circle cx="387.3" cy="321.5" r="0.85" fill="#16a05a"/>
<circle cx="315.6" cy="382.3" r="0.85" fill="#16a05a"/>
<circle cx="331.9" cy="370.0" r="0.85" fill="#16a05a"/>
<circle cx="382.8" cy="314.8" r="0.85" fill="#16a05a"/>
<circle cx="348.2" cy="353.1" r="0.85" fill="#16a05a"/>
<circle cx="316.5" cy="382.8" r="0.85" fill="#16a05a"/>
<circle cx="330.8" cy="372.7" r="0.85" fill="#16a05a"/>
<circle cx="336.5" cy="365.0" r="0.85" fill="#16a05a"/>
<circle cx="326.5" cy="376.6" r="0.85" fill="#16a05a"/>
<circle cx="325.1" cy="380.6" r="0.85" fill="#16a05a"/>
<circle cx="312.0" cy="389.8" r="0.85" fill="#16a05a"/>
<circle cx="373.5" cy="334.2" r="0.85" fill="#16a05a"/>
<circle cx="310.0" cy="388.9" r="0.85" fill="#16a05a"/>
<circle cx="334.3" cy="363.2" r="0.85" fill="#16a05a"/>
<circle cx="368.9" cy="335.5" r="0.85" fill="#16a05a"/>
<circle cx="315.7" cy="385.8" r="0.85" fill="#16a05a"/>
<circle cx="343.5" cy="356.2" r="0.85" fill="#16a05a"/>
<circle cx="349.3" cy="353.0" r="0.85" fill="#16a05a"/>
<circle cx="360.1" cy="344.0" r="0.85" fill="#16a05a"/>
<circle cx="381.2" cy="324.3" r="0.85" fill="#16a05a"/>
<circle cx="312.7" cy="388.0" r="0.85" fill="#16a05a"/>
<circle cx="290.6" cy="407.4" r="0.85" fill="#16a05a"/>
<circle cx="346.2" cy="349.4" r="0.85" fill="#16a05a"/>
<circle cx="352.1" cy="348.7" r="0.85" fill="#16a05a"/>
<circle cx="346.5" cy="362.7" r="0.85" fill="#16a05a"/>
<circle cx="347.1" cy="358.7" r="0.85" fill="#16a05a"/>
<circle cx="344.7" cy="361.0" r="0.85" fill="#16a05a"/>
<circle cx="354.9" cy="346.6" r="0.85" fill="#16a05a"/>
<circle cx="328.9" cy="368.5" r="0.85" fill="#16a05a"/>
<circle cx="365.2" cy="336.2" r="0.85" fill="#16a05a"/>
<circle cx="291.9" cy="406.9" r="0.85" fill="#16a05a"/>
<circle cx="366.7" cy="331.9" r="0.85" fill="#16a05a"/>
<circle cx="319.5" cy="383.2" r="0.85" fill="#16a05a"/>
<circle cx="372.9" cy="329.7" r="0.85" fill="#16a05a"/>
<circle cx="308.7" cy="394.2" r="0.85" fill="#16a05a"/>
<circle cx="312.9" cy="389.4" r="0.85" fill="#16a05a"/>
<circle cx="326.0" cy="374.1" r="0.85" fill="#16a05a"/>
<circle cx="350.1" cy="351.3" r="0.85" fill="#16a05a"/>
<circle cx="341.3" cy="361.1" r="0.85" fill="#16a05a"/>
<circle cx="292.1" cy="405.2" r="0.85" fill="#16a05a"/>
<circle cx="342.2" cy="356.0" r="0.85" fill="#16a05a"/>
<circle cx="385.6" cy="319.5" r="0.85" fill="#16a05a"/>
<circle cx="321.4" cy="379.4" r="0.85" fill="#16a05a"/>
<circle cx="344.2" cy="349.8" r="0.85" fill="#16a05a"/>
<circle cx="330.9" cy="373.6" r="0.85" fill="#16a05a"/>
<circle cx="324.1" cy="374.1" r="0.85" fill="#16a05a"/>
<circle cx="304.6" cy="393.7" r="0.85" fill="#16a05a"/>
<circle cx="299.6" cy="400.0" r="0.85" fill="#16a05a"/>
<circle cx="355.3" cy="347.5" r="0.85" fill="#16a05a"/>
<circle cx="297.3" cy="401.6" r="0.85" fill="#16a05a"/>
<circle cx="379.0" cy="325.4" r="0.85" fill="#16a05a"/>
<circle cx="297.9" cy="399.0" r="0.85" fill="#16a05a"/>
<circle cx="307.3" cy="392.6" r="0.85" fill="#16a05a"/>
<circle cx="361.5" cy="341.2" r="0.85" fill="#16a05a"/>
<circle cx="366.6" cy="335.7" r="0.85" fill="#16a05a"/>
<circle cx="359.0" cy="340.4" r="0.85" fill="#16a05a"/>
<circle cx="294.7" cy="407.0" r="0.85" fill="#16a05a"/>
<circle cx="348.6" cy="354.8" r="0.85" fill="#16a05a"/>
<circle cx="387.4" cy="321.9" r="0.85" fill="#16a05a"/>
<circle cx="308.4" cy="388.7" r="0.85" fill="#16a05a"/>
<circle cx="290.8" cy="409.1" r="0.85" fill="#16a05a"/>
<circle cx="290.9" cy="410.1" r="0.85" fill="#16a05a"/>
<circle cx="294.4" cy="407.6" r="0.85" fill="#16a05a"/>
<circle cx="313.7" cy="387.0" r="0.85" fill="#16a05a"/>
<circle cx="377.9" cy="328.6" r="0.85" fill="#16a05a"/>
<circle cx="332.1" cy="367.0" r="0.85" fill="#16a05a"/>
<circle cx="342.2" cy="358.8" r="0.85" fill="#16a05a"/>
<circle cx="326.9" cy="375.1" r="0.85" fill="#16a05a"/>
<circle cx="369.6" cy="335.9" r="0.85" fill="#16a05a"/>
<circle cx="318.9" cy="384.0" r="0.85" fill="#16a05a"/>
<circle cx="324.6" cy="379.4" r="0.85" fill="#16a05a"/>
<circle cx="321.3" cy="378.4" r="0.85" fill="#16a05a"/>
<circle cx="368.0" cy="344.6" r="0.85" fill="#16a05a"/>
<circle cx="341.2" cy="361.1" r="0.85" fill="#16a05a"/>
<circle cx="393.1" cy="310.1" r="0.85" fill="#16a05a"/>
<circle cx="357.7" cy="343.7" r="0.85" fill="#16a05a"/>
<circle cx="345.8" cy="359.0" r="0.85" fill="#16a05a"/>
<circle cx="393.6" cy="308.2" r="0.85" fill="#16a05a"/>
<circle cx="313.5" cy="389.7" r="0.85" fill="#16a05a"/>
<circle cx="325.8" cy="373.5" r="0.85" fill="#16a05a"/>
<circle cx="355.4" cy="349.6" r="0.85" fill="#16a05a"/>
<circle cx="345.4" cy="352.3" r="0.85" fill="#16a05a"/>
<circle cx="311.1" cy="391.7" r="0.85" fill="#16a05a"/>
<circle cx="290.5" cy="408.9" r="0.85" fill="#16a05a"/>
<circle cx="343.6" cy="355.3" r="0.85" fill="#16a05a"/>
<circle cx="372.0" cy="330.8" r="0.85" fill="#16a05a"/>
<circle cx="374.3" cy="330.3" r="0.85" fill="#16a05a"/>
<circle cx="371.5" cy="328.7" r="0.85" fill="#16a05a"/>
<circle cx="310.2" cy="392.3" r="0.85" fill="#16a05a"/>
<circle cx="376.6" cy="325.1" r="0.85" fill="#16a05a"/>
<circle cx="384.9" cy="325.7" r="0.85" fill="#16a05a"/>
<circle cx="317.3" cy="380.9" r="0.85" fill="#16a05a"/>
<circle cx="369.6" cy="331.4" r="0.85" fill="#16a05a"/>
<circle cx="303.6" cy="396.4" r="0.85" fill="#16a05a"/>
<circle cx="306.5" cy="398.4" r="0.85" fill="#16a05a"/>
<circle cx="346.0" cy="357.9" r="0.85" fill="#16a05a"/>
<circle cx="304.1" cy="397.9" r="0.85" fill="#16a05a"/>
<circle cx="305.1" cy="394.5" r="1.05" fill="#e8461c"/>
<circle cx="306.5" cy="395.4" r="1.05" fill="#e8461c"/>
<circle cx="315.4" cy="391.1" r="1.05" fill="#e8461c"/>
<circle cx="321.8" cy="383.6" r="1.05" fill="#e8461c"/>
<circle cx="301.1" cy="396.5" r="1.05" fill="#e8461c"/>
<circle cx="303.9" cy="395.2" r="1.05" fill="#e8461c"/>
<circle cx="300.5" cy="399.0" r="1.05" fill="#e8461c"/>
<circle cx="288.8" cy="407.8" r="1.05" fill="#e8461c"/>
<circle cx="341.7" cy="359.6" r="1.05" fill="#e8461c"/>
<circle cx="313.7" cy="385.2" r="1.05" fill="#e8461c"/>
<circle cx="295.3" cy="402.7" r="1.05" fill="#e8461c"/>
<circle cx="311.2" cy="389.3" r="1.05" fill="#e8461c"/>
<circle cx="321.0" cy="383.6" r="1.05" fill="#e8461c"/>
<circle cx="319.7" cy="384.1" r="1.05" fill="#e8461c"/>
<circle cx="327.3" cy="373.8" r="1.05" fill="#e8461c"/>
<circle cx="288.6" cy="411.4" r="1.05" fill="#e8461c"/>
<circle cx="291.6" cy="405.6" r="1.05" fill="#e8461c"/>
<circle cx="308.1" cy="391.8" r="1.05" fill="#e8461c"/>
<circle cx="310.1" cy="389.7" r="1.05" fill="#e8461c"/>
<circle cx="296.5" cy="401.5" r="1.05" fill="#e8461c"/>
<circle cx="310.4" cy="390.1" r="1.05" fill="#e8461c"/>
<circle cx="310.3" cy="387.7" r="1.05" fill="#e8461c"/>
<circle cx="296.4" cy="402.1" r="1.05" fill="#e8461c"/>
<circle cx="357.0" cy="347.6" r="1.05" fill="#e8461c"/>
<circle cx="288.7" cy="408.7" r="1.05" fill="#e8461c"/>
<circle cx="330.3" cy="371.1" r="1.05" fill="#e8461c"/>
<circle cx="311.3" cy="388.5" r="1.05" fill="#e8461c"/>
<circle cx="311.1" cy="392.1" r="1.05" fill="#e8461c"/>
<circle cx="290.8" cy="406.6" r="1.05" fill="#e8461c"/>
<circle cx="294.2" cy="406.5" r="1.05" fill="#e8461c"/>
<circle cx="305.3" cy="393.7" r="1.05" fill="#e8461c"/>
<circle cx="290.4" cy="406.4" r="1.05" fill="#e8461c"/>
<circle cx="291.3" cy="406.1" r="1.05" fill="#e8461c"/>
<circle cx="288.2" cy="408.5" r="1.05" fill="#e8461c"/>
<circle cx="291.9" cy="402.9" r="1.05" fill="#e8461c"/>
<circle cx="309.8" cy="389.7" r="1.05" fill="#e8461c"/>
<circle cx="330.0" cy="372.0" r="1.05" fill="#e8461c"/>
<circle cx="309.6" cy="389.2" r="1.05" fill="#e8461c"/>
<circle cx="324.2" cy="381.1" r="1.05" fill="#e8461c"/>
<circle cx="320.8" cy="381.8" r="1.05" fill="#e8461c"/>
<circle cx="290.8" cy="406.6" r="1.05" fill="#e8461c"/>
<circle cx="300.2" cy="397.2" r="1.05" fill="#e8461c"/>
<circle cx="308.2" cy="392.3" r="1.05" fill="#e8461c"/>
<circle cx="293.6" cy="402.7" r="1.05" fill="#e8461c"/>
<circle cx="317.7" cy="384.2" r="1.05" fill="#e8461c"/>
<circle cx="309.0" cy="389.6" r="1.05" fill="#e8461c"/>
<circle cx="310.9" cy="385.9" r="1.05" fill="#e8461c"/>
<circle cx="292.2" cy="404.4" r="1.05" fill="#e8461c"/>
<circle cx="293.9" cy="403.8" r="1.05" fill="#e8461c"/>
<circle cx="311.2" cy="388.0" r="1.05" fill="#e8461c"/>
<circle cx="355.3" cy="347.6" r="1.05" fill="#e8461c"/>
<circle cx="311.5" cy="388.1" r="1.05" fill="#e8461c"/>
<circle cx="294.1" cy="403.3" r="1.05" fill="#e8461c"/>
<circle cx="317.8" cy="385.2" r="1.05" fill="#e8461c"/>
<circle cx="288.0" cy="408.6" r="1.05" fill="#e8461c"/>
<circle cx="297.4" cy="401.9" r="1.05" fill="#e8461c"/>
<circle cx="315.1" cy="386.5" r="1.05" fill="#e8461c"/>
<circle cx="305.6" cy="394.9" r="1.05" fill="#e8461c"/>
<circle cx="291.9" cy="405.1" r="1.05" fill="#e8461c"/>
<circle cx="298.8" cy="398.8" r="1.05" fill="#e8461c"/>
<circle cx="292.1" cy="406.9" r="1.05" fill="#e8461c"/>
<circle cx="323.2" cy="382.3" r="1.05" fill="#e8461c"/>
<circle cx="289.2" cy="408.3" r="1.05" fill="#e8461c"/>
<circle cx="289.0" cy="409.6" r="1.05" fill="#e8461c"/>
<circle cx="317.7" cy="383.1" r="1.05" fill="#e8461c"/>
<circle cx="288.2" cy="411.0" r="1.05" fill="#e8461c"/>
<circle cx="320.8" cy="381.2" r="1.05" fill="#e8461c"/>
<circle cx="307.2" cy="394.0" r="1.05" fill="#e8461c"/>
<circle cx="291.2" cy="407.4" r="1.05" fill="#e8461c"/>
<circle cx="299.4" cy="397.1" r="1.05" fill="#e8461c"/>
<circle cx="299.3" cy="396.9" r="1.05" fill="#e8461c"/>
<circle cx="329.5" cy="371.6" r="1.05" fill="#e8461c"/>
<circle cx="304.1" cy="397.9" r="1.05" fill="#e8461c"/>
<circle cx="308.2" cy="390.1" r="1.05" fill="#e8461c"/>
<circle cx="344.7" cy="363.2" r="1.05" fill="#e8461c"/>
<circle cx="288.3" cy="409.1" r="1.05" fill="#e8461c"/>
<circle cx="338.0" cy="365.6" r="1.05" fill="#e8461c"/>
<circle cx="306.8" cy="392.7" r="1.05" fill="#e8461c"/>
<circle cx="289.8" cy="407.9" r="1.05" fill="#e8461c"/>
<circle cx="301.4" cy="397.6" r="1.05" fill="#e8461c"/>
<circle cx="299.5" cy="398.6" r="1.05" fill="#e8461c"/>
<circle cx="326.2" cy="378.3" r="1.05" fill="#e8461c"/>
<circle cx="290.3" cy="408.5" r="1.05" fill="#e8461c"/>
<circle cx="290.3" cy="407.1" r="1.05" fill="#e8461c"/>
<circle cx="290.6" cy="408.8" r="1.05" fill="#e8461c"/>
<circle cx="300.7" cy="398.9" r="1.05" fill="#e8461c"/>
<circle cx="291.2" cy="405.0" r="1.05" fill="#e8461c"/>
<circle cx="297.0" cy="403.7" r="1.05" fill="#e8461c"/>
<circle cx="321.9" cy="385.3" r="1.05" fill="#e8461c"/>
<circle cx="317.8" cy="382.3" r="1.05" fill="#e8461c"/>
<circle cx="295.0" cy="406.1" r="1.05" fill="#e8461c"/>
<circle cx="330.5" cy="370.5" r="1.05" fill="#e8461c"/>
<circle cx="329.1" cy="371.9" r="1.05" fill="#e8461c"/>
<circle cx="355.5" cy="348.2" r="1.05" fill="#e8461c"/>
<circle cx="297.1" cy="401.6" r="1.05" fill="#e8461c"/>
<circle cx="289.2" cy="409.0" r="1.05" fill="#e8461c"/>
<circle cx="299.1" cy="398.1" r="1.05" fill="#e8461c"/>
<circle cx="351.6" cy="353.0" r="1.05" fill="#e8461c"/>
<circle cx="324.3" cy="377.4" r="1.05" fill="#e8461c"/>
<circle cx="311.0" cy="392.9" r="1.05" fill="#e8461c"/>
<circle cx="293.5" cy="404.6" r="1.05" fill="#e8461c"/>
<circle cx="309.5" cy="392.1" r="1.05" fill="#e8461c"/>
<circle cx="293.1" cy="405.8" r="1.05" fill="#e8461c"/>
<circle cx="339.6" cy="365.0" r="1.05" fill="#e8461c"/>
<circle cx="302.5" cy="394.0" r="1.05" fill="#e8461c"/>
<circle cx="345.2" cy="356.7" r="1.05" fill="#e8461c"/>
<circle cx="298.1" cy="400.5" r="1.05" fill="#e8461c"/>
<circle cx="290.5" cy="407.1" r="1.05" fill="#e8461c"/>
<circle cx="296.7" cy="401.3" r="1.05" fill="#e8461c"/>
<circle cx="300.1" cy="396.8" r="1.05" fill="#e8461c"/>
<circle cx="323.8" cy="382.4" r="1.05" fill="#e8461c"/>
<circle cx="304.1" cy="396.9" r="1.05" fill="#e8461c"/>
<circle cx="300.1" cy="399.1" r="1.05" fill="#e8461c"/>
<circle cx="292.9" cy="405.6" r="1.05" fill="#e8461c"/>
<circle cx="299.2" cy="400.1" r="1.05" fill="#e8461c"/>
<circle cx="295.5" cy="401.1" r="1.05" fill="#e8461c"/>
<circle cx="315.5" cy="389.5" r="1.05" fill="#e8461c"/>
<circle cx="311.1" cy="390.0" r="1.05" fill="#e8461c"/>
<circle cx="305.7" cy="394.1" r="1.05" fill="#e8461c"/>
<circle cx="320.0" cy="382.5" r="1.05" fill="#e8461c"/>
<circle cx="296.3" cy="403.6" r="1.05" fill="#e8461c"/>
<circle cx="292.6" cy="404.3" r="1.05" fill="#e8461c"/>
<circle cx="350.7" cy="352.5" r="1.05" fill="#e8461c"/>
<circle cx="303.2" cy="395.6" r="1.05" fill="#e8461c"/>
<circle cx="307.6" cy="391.7" r="1.05" fill="#e8461c"/>
<circle cx="304.9" cy="396.9" r="1.05" fill="#e8461c"/>
<circle cx="320.8" cy="381.7" r="1.05" fill="#e8461c"/>
<circle cx="313.1" cy="390.3" r="1.05" fill="#e8461c"/>
<circle cx="310.3" cy="389.8" r="1.05" fill="#e8461c"/>
<circle cx="310.5" cy="392.2" r="1.05" fill="#e8461c"/>
<circle cx="297.0" cy="400.2" r="1.05" fill="#e8461c"/>
<circle cx="296.1" cy="404.4" r="1.05" fill="#e8461c"/>
<circle cx="297.9" cy="400.1" r="1.05" fill="#e8461c"/>
<circle cx="300.3" cy="398.9" r="1.05" fill="#e8461c"/>
<circle cx="294.7" cy="402.3" r="1.05" fill="#e8461c"/>
<circle cx="297.6" cy="402.9" r="1.05" fill="#e8461c"/>
<circle cx="294.3" cy="402.3" r="1.05" fill="#e8461c"/>
<circle cx="289.6" cy="406.6" r="1.05" fill="#e8461c"/>
<circle cx="317.4" cy="383.4" r="1.05" fill="#e8461c"/>
<circle cx="337.5" cy="370.7" r="1.05" fill="#e8461c"/>
<circle cx="309.2" cy="390.6" r="1.05" fill="#e8461c"/>
<circle cx="298.9" cy="399.0" r="1.05" fill="#e8461c"/>
<circle cx="327.4" cy="384.1" r="1.05" fill="#e8461c"/>
<circle cx="299.4" cy="399.8" r="1.05" fill="#e8461c"/>
<circle cx="296.3" cy="402.6" r="1.05" fill="#e8461c"/>
<circle cx="310.1" cy="388.4" r="1.05" fill="#e8461c"/>
<circle cx="299.6" cy="397.2" r="1.05" fill="#e8461c"/>
<circle cx="300.4" cy="396.7" r="1.05" fill="#e8461c"/>
<circle cx="308.4" cy="389.9" r="1.05" fill="#e8461c"/>
<circle cx="302.0" cy="396.5" r="1.05" fill="#e8461c"/>
<circle cx="340.9" cy="368.2" r="1.05" fill="#e8461c"/>
<circle cx="294.7" cy="403.5" r="1.05" fill="#e8461c"/>
<circle cx="352.9" cy="353.5" r="1.05" fill="#e8461c"/>
<circle cx="325.6" cy="377.9" r="1.05" fill="#e8461c"/>
<circle cx="332.2" cy="369.6" r="1.05" fill="#e8461c"/>
<circle cx="294.0" cy="404.5" r="1.05" fill="#e8461c"/>
<circle cx="299.1" cy="398.5" r="1.05" fill="#e8461c"/>
<circle cx="301.5" cy="395.7" r="1.05" fill="#e8461c"/>
<circle cx="311.3" cy="389.5" r="1.05" fill="#e8461c"/>
<circle cx="306.0" cy="394.5" r="1.05" fill="#e8461c"/>
<circle cx="303.6" cy="395.0" r="1.05" fill="#e8461c"/>
<circle cx="323.3" cy="380.0" r="1.05" fill="#e8461c"/>
<circle cx="291.9" cy="407.2" r="1.05" fill="#e8461c"/>
<circle cx="302.5" cy="395.5" r="1.05" fill="#e8461c"/>
<circle cx="311.4" cy="390.7" r="1.05" fill="#e8461c"/>
<circle cx="291.1" cy="407.0" r="1.05" fill="#e8461c"/>
<circle cx="312.6" cy="387.0" r="1.05" fill="#e8461c"/>
<circle cx="306.9" cy="392.6" r="1.05" fill="#e8461c"/>
<circle cx="306.5" cy="393.4" r="1.05" fill="#e8461c"/>
<circle cx="317.4" cy="385.5" r="1.05" fill="#e8461c"/>
<circle cx="295.5" cy="401.7" r="1.05" fill="#e8461c"/>
<circle cx="309.0" cy="390.1" r="1.05" fill="#e8461c"/>
<circle cx="295.4" cy="403.6" r="1.05" fill="#e8461c"/>
<circle cx="308.7" cy="391.1" r="1.05" fill="#e8461c"/>
<circle cx="310.4" cy="392.3" r="1.05" fill="#e8461c"/>
<circle cx="288.8" cy="408.0" r="1.05" fill="#e8461c"/>
<circle cx="329.2" cy="376.4" r="1.05" fill="#e8461c"/>
<circle cx="317.0" cy="382.1" r="1.05" fill="#e8461c"/>
<circle cx="310.4" cy="394.3" r="1.05" fill="#e8461c"/>
<circle cx="296.3" cy="401.4" r="1.05" fill="#e8461c"/>
<circle cx="292.5" cy="406.0" r="1.05" fill="#e8461c"/>
<circle cx="306.2" cy="390.8" r="1.05" fill="#e8461c"/>
<circle cx="291.4" cy="406.6" r="1.05" fill="#e8461c"/>
<circle cx="339.6" cy="363.2" r="1.05" fill="#e8461c"/>
<circle cx="290.2" cy="408.4" r="1.05" fill="#e8461c"/>
<circle cx="289.2" cy="408.5" r="1.05" fill="#e8461c"/>
<circle cx="307.0" cy="393.9" r="1.05" fill="#e8461c"/>
<circle cx="293.9" cy="403.0" r="1.05" fill="#e8461c"/>
<circle cx="288.6" cy="409.3" r="1.05" fill="#e8461c"/>
<circle cx="304.0" cy="397.3" r="1.05" fill="#e8461c"/>
<circle cx="293.6" cy="403.7" r="1.05" fill="#e8461c"/>
<circle cx="307.3" cy="393.7" r="1.05" fill="#e8461c"/>
<circle cx="313.8" cy="388.6" r="1.05" fill="#e8461c"/>
<circle cx="310.4" cy="387.7" r="1.05" fill="#e8461c"/>
<circle cx="310.2" cy="391.4" r="1.05" fill="#e8461c"/>
<circle cx="290.5" cy="407.0" r="1.05" fill="#e8461c"/>
<circle cx="293.3" cy="402.9" r="1.05" fill="#e8461c"/>
<circle cx="293.0" cy="405.6" r="1.05" fill="#e8461c"/>
<circle cx="292.3" cy="404.8" r="1.05" fill="#e8461c"/>
<circle cx="300.0" cy="398.5" r="1.05" fill="#e8461c"/>
<circle cx="305.6" cy="396.3" r="1.05" fill="#e8461c"/>
<circle cx="294.5" cy="401.9" r="1.05" fill="#e8461c"/>
<circle cx="289.6" cy="406.8" r="1.05" fill="#e8461c"/>
<circle cx="302.9" cy="394.3" r="1.05" fill="#e8461c"/>
<circle cx="300.4" cy="398.7" r="1.05" fill="#e8461c"/>
<circle cx="289.2" cy="407.2" r="1.05" fill="#e8461c"/>
<circle cx="292.6" cy="403.6" r="1.05" fill="#e8461c"/>
<circle cx="296.6" cy="399.6" r="1.05" fill="#e8461c"/>
<circle cx="327.5" cy="372.7" r="1.05" fill="#e8461c"/>
<circle cx="293.7" cy="405.6" r="1.05" fill="#e8461c"/>
<circle cx="303.3" cy="397.4" r="1.05" fill="#e8461c"/>
<circle cx="302.8" cy="398.4" r="1.05" fill="#e8461c"/>
<circle cx="293.1" cy="403.8" r="1.05" fill="#e8461c"/>
<circle cx="291.6" cy="406.9" r="1.05" fill="#e8461c"/>
<circle cx="309.2" cy="391.4" r="1.05" fill="#e8461c"/>
<circle cx="288.7" cy="410.5" r="1.05" fill="#e8461c"/>
<circle cx="292.0" cy="406.0" r="1.05" fill="#e8461c"/>
<circle cx="294.5" cy="402.0" r="1.05" fill="#e8461c"/>
<circle cx="291.6" cy="405.1" r="1.05" fill="#e8461c"/>
<circle cx="293.2" cy="405.8" r="1.05" fill="#e8461c"/>
<circle cx="303.5" cy="396.6" r="1.05" fill="#e8461c"/>
<circle cx="327.5" cy="376.0" r="1.05" fill="#e8461c"/>
<circle cx="288.7" cy="407.7" r="1.05" fill="#e8461c"/>
<circle cx="293.0" cy="406.0" r="1.05" fill="#e8461c"/>
<circle cx="306.1" cy="393.1" r="1.05" fill="#e8461c"/>
<circle cx="289.6" cy="405.3" r="1.05" fill="#e8461c"/>
<circle cx="296.4" cy="401.4" r="1.05" fill="#e8461c"/>
<circle cx="289.7" cy="409.9" r="1.05" fill="#e8461c"/>
<circle cx="319.7" cy="380.6" r="1.05" fill="#e8461c"/>
<circle cx="307.1" cy="394.2" r="1.05" fill="#e8461c"/>
<circle cx="297.8" cy="398.0" r="1.05" fill="#e8461c"/>
<circle cx="299.2" cy="397.9" r="1.05" fill="#e8461c"/>
<circle cx="313.1" cy="387.4" r="1.05" fill="#e8461c"/>
<circle cx="306.5" cy="394.2" r="1.05" fill="#e8461c"/>
<circle cx="300.1" cy="395.8" r="1.05" fill="#e8461c"/>
<circle cx="293.1" cy="404.8" r="1.05" fill="#e8461c"/>
<circle cx="295.6" cy="402.9" r="1.05" fill="#e8461c"/>
<circle cx="290.6" cy="406.4" r="1.05" fill="#e8461c"/>
<circle cx="303.1" cy="396.8" r="1.05" fill="#e8461c"/>
<circle cx="297.6" cy="399.2" r="1.05" fill="#e8461c"/>
<circle cx="318.0" cy="386.3" r="1.05" fill="#e8461c"/>
<circle cx="300.5" cy="394.6" r="1.05" fill="#e8461c"/>
<circle cx="306.7" cy="396.1" r="1.05" fill="#e8461c"/>
<circle cx="303.0" cy="397.8" r="1.05" fill="#e8461c"/>
<circle cx="298.0" cy="399.6" r="1.05" fill="#e8461c"/>
<circle cx="294.0" cy="406.1" r="1.05" fill="#e8461c"/>
<circle cx="292.1" cy="404.5" r="1.05" fill="#e8461c"/>
<circle cx="303.9" cy="395.7" r="1.05" fill="#e8461c"/>
<circle cx="290.1" cy="407.9" r="1.05" fill="#e8461c"/>
<circle cx="291.3" cy="405.0" r="1.05" fill="#e8461c"/>
<circle cx="288.2" cy="407.3" r="1.05" fill="#e8461c"/>
<circle cx="304.3" cy="395.9" r="1.05" fill="#e8461c"/>
<circle cx="346.4" cy="355.6" r="1.05" fill="#e8461c"/>
<circle cx="291.8" cy="404.9" r="1.05" fill="#e8461c"/>
<circle cx="288.1" cy="407.8" r="1.05" fill="#e8461c"/>
<circle cx="309.8" cy="391.8" r="1.05" fill="#e8461c"/>
<circle cx="293.1" cy="404.4" r="1.05" fill="#e8461c"/>
<circle cx="305.7" cy="393.5" r="1.05" fill="#e8461c"/>
<circle cx="316.8" cy="385.0" r="1.05" fill="#e8461c"/>
<circle cx="330.8" cy="369.7" r="1.05" fill="#e8461c"/>
<circle cx="306.0" cy="392.9" r="1.05" fill="#e8461c"/>
<circle cx="291.7" cy="407.6" r="1.05" fill="#e8461c"/>
<circle cx="317.3" cy="387.3" r="1.05" fill="#e8461c"/>
<circle cx="307.2" cy="391.5" r="1.05" fill="#e8461c"/>
<circle cx="288.7" cy="410.1" r="1.05" fill="#e8461c"/>
<circle cx="325.9" cy="378.8" r="1.05" fill="#e8461c"/>
<circle cx="331.2" cy="375.3" r="1.05" fill="#e8461c"/>
<circle cx="294.2" cy="403.4" r="1.05" fill="#e8461c"/>
<circle cx="289.5" cy="408.2" r="1.05" fill="#e8461c"/>
<circle cx="310.7" cy="390.7" r="1.05" fill="#e8461c"/>
<circle cx="288.7" cy="409.4" r="1.05" fill="#e8461c"/>
<circle cx="288.0" cy="409.0" r="1.05" fill="#e8461c"/>
<circle cx="329.2" cy="373.8" r="1.05" fill="#e8461c"/>
<circle cx="302.9" cy="398.7" r="1.05" fill="#e8461c"/>
<circle cx="297.1" cy="401.5" r="1.05" fill="#e8461c"/>
<circle cx="307.0" cy="391.6" r="1.05" fill="#e8461c"/>
<circle cx="313.9" cy="387.3" r="1.05" fill="#e8461c"/>
<circle cx="295.4" cy="401.0" r="1.05" fill="#e8461c"/>
<circle cx="289.6" cy="408.4" r="1.05" fill="#e8461c"/>
<circle cx="354.9" cy="347.0" r="1.05" fill="#e8461c"/>
<circle cx="331.9" cy="368.6" r="1.05" fill="#e8461c"/>
<circle cx="311.6" cy="389.5" r="1.05" fill="#e8461c"/>
<circle cx="301.6" cy="397.0" r="1.05" fill="#e8461c"/>
<circle cx="344.3" cy="356.6" r="1.05" fill="#e8461c"/>
<circle cx="294.2" cy="404.9" r="1.05" fill="#e8461c"/>
<circle cx="291.8" cy="403.6" r="1.05" fill="#e8461c"/>
<circle cx="297.7" cy="398.4" r="1.05" fill="#e8461c"/>
<circle cx="300.9" cy="396.0" r="1.05" fill="#e8461c"/>
<circle cx="299.7" cy="399.6" r="1.05" fill="#e8461c"/>
<circle cx="291.6" cy="406.4" r="1.05" fill="#e8461c"/>
<circle cx="322.4" cy="377.6" r="1.05" fill="#e8461c"/>
<circle cx="289.8" cy="406.1" r="1.05" fill="#e8461c"/>
<circle cx="293.1" cy="406.1" r="1.05" fill="#e8461c"/>
<circle cx="300.7" cy="397.2" r="1.05" fill="#e8461c"/>
<circle cx="299.3" cy="399.2" r="1.05" fill="#e8461c"/>
<circle cx="289.3" cy="408.3" r="1.05" fill="#e8461c"/>
<circle cx="308.0" cy="394.9" r="1.05" fill="#e8461c"/>
<circle cx="312.8" cy="388.6" r="1.05" fill="#e8461c"/>
<circle cx="350.3" cy="350.0" r="1.05" fill="#e8461c"/>
<circle cx="291.4" cy="404.8" r="1.05" fill="#e8461c"/>
<circle cx="346.4" cy="357.9" r="1.05" fill="#e8461c"/>
<circle cx="311.5" cy="389.9" r="1.05" fill="#e8461c"/>
<circle cx="295.9" cy="400.0" r="1.05" fill="#e8461c"/>
<circle cx="294.2" cy="403.3" r="1.05" fill="#e8461c"/>
<circle cx="297.2" cy="399.2" r="1.05" fill="#e8461c"/>
<circle cx="322.7" cy="382.5" r="1.05" fill="#e8461c"/>
<circle cx="329.6" cy="372.1" r="1.05" fill="#e8461c"/>
<circle cx="305.4" cy="392.3" r="1.05" fill="#e8461c"/>
<circle cx="307.0" cy="392.0" r="1.05" fill="#e8461c"/>
<circle cx="310.1" cy="389.0" r="1.05" fill="#e8461c"/>
<circle cx="288.7" cy="409.0" r="1.05" fill="#e8461c"/>
<circle cx="306.4" cy="394.2" r="1.05" fill="#e8461c"/>
<circle cx="309.5" cy="391.4" r="1.05" fill="#e8461c"/>
<circle cx="297.7" cy="401.1" r="1.05" fill="#e8461c"/>
<circle cx="323.2" cy="379.8" r="1.05" fill="#e8461c"/>
<circle cx="306.4" cy="393.6" r="1.05" fill="#e8461c"/>
<circle cx="300.3" cy="398.3" r="1.05" fill="#e8461c"/>
<circle cx="290.8" cy="404.9" r="1.05" fill="#e8461c"/>
<circle cx="322.2" cy="382.5" r="1.05" fill="#e8461c"/>
<circle cx="310.5" cy="392.9" r="1.05" fill="#e8461c"/>
<circle cx="290.9" cy="409.0" r="1.05" fill="#e8461c"/>
<circle cx="311.0" cy="389.4" r="1.05" fill="#e8461c"/>
<circle cx="306.8" cy="394.1" r="1.05" fill="#e8461c"/>
<circle cx="291.1" cy="407.5" r="1.05" fill="#e8461c"/>
<circle cx="319.0" cy="382.1" r="1.05" fill="#e8461c"/>
<circle cx="294.9" cy="404.1" r="1.05" fill="#e8461c"/>
<circle cx="308.7" cy="392.0" r="1.05" fill="#e8461c"/>
<circle cx="295.6" cy="402.3" r="1.05" fill="#e8461c"/>
<circle cx="300.8" cy="398.3" r="1.05" fill="#e8461c"/>
<circle cx="300.9" cy="396.2" r="1.05" fill="#e8461c"/>
<circle cx="291.0" cy="406.6" r="1.00" fill="#b5202a"/>
<circle cx="295.8" cy="402.9" r="1.00" fill="#b5202a"/>
<circle cx="288.8" cy="408.8" r="1.00" fill="#b5202a"/>
<circle cx="290.5" cy="407.0" r="1.00" fill="#b5202a"/>
<circle cx="290.5" cy="408.8" r="1.00" fill="#b5202a"/>
<circle cx="292.7" cy="406.0" r="1.00" fill="#b5202a"/>
<circle cx="292.4" cy="403.5" r="1.00" fill="#b5202a"/>
<circle cx="288.7" cy="410.5" r="1.00" fill="#b5202a"/>
<circle cx="292.6" cy="405.8" r="1.00" fill="#b5202a"/>
<circle cx="294.2" cy="406.4" r="1.00" fill="#b5202a"/>
<circle cx="293.2" cy="406.1" r="1.00" fill="#b5202a"/>
<circle cx="290.6" cy="408.7" r="1.00" fill="#b5202a"/>
<circle cx="294.4" cy="402.9" r="1.00" fill="#b5202a"/>
<circle cx="293.5" cy="406.8" r="1.00" fill="#b5202a"/>
<circle cx="290.7" cy="407.7" r="1.00" fill="#b5202a"/>
<circle cx="292.3" cy="407.9" r="1.00" fill="#b5202a"/>
<circle cx="293.2" cy="406.2" r="1.00" fill="#b5202a"/>
<circle cx="291.5" cy="406.2" r="1.00" fill="#b5202a"/>
<circle cx="288.9" cy="410.0" r="1.00" fill="#b5202a"/>
<circle cx="295.8" cy="402.3" r="1.00" fill="#b5202a"/>
<circle cx="292.1" cy="407.1" r="1.00" fill="#b5202a"/>
<circle cx="290.2" cy="407.8" r="1.00" fill="#b5202a"/>
<circle cx="291.1" cy="407.5" r="1.00" fill="#b5202a"/>
<circle cx="294.9" cy="403.8" r="1.00" fill="#b5202a"/>
<circle cx="291.9" cy="407.9" r="1.00" fill="#b5202a"/>
<circle cx="290.7" cy="407.5" r="1.00" fill="#b5202a"/>
<circle cx="289.7" cy="408.1" r="1.00" fill="#b5202a"/>
<circle cx="290.8" cy="407.5" r="1.00" fill="#b5202a"/>
<circle cx="293.9" cy="407.0" r="1.00" fill="#b5202a"/>
<circle cx="291.0" cy="408.3" r="1.00" fill="#b5202a"/>
<circle cx="295.3" cy="403.8" r="1.00" fill="#b5202a"/>
<circle cx="289.8" cy="408.9" r="1.00" fill="#b5202a"/>
<circle cx="292.8" cy="405.0" r="1.00" fill="#b5202a"/>
<circle cx="294.2" cy="404.6" r="1.00" fill="#b5202a"/>
<circle cx="291.7" cy="406.7" r="1.00" fill="#b5202a"/>
<circle cx="292.1" cy="406.8" r="1.00" fill="#b5202a"/>
<circle cx="295.2" cy="403.8" r="1.00" fill="#b5202a"/>
<circle cx="288.7" cy="409.1" r="1.00" fill="#b5202a"/>
<circle cx="289.7" cy="409.0" r="1.00" fill="#b5202a"/>
<circle cx="290.1" cy="407.0" r="1.00" fill="#b5202a"/>
<circle cx="417.6" cy="290.2" r="0.85" fill="#16a05a"/>
<circle cx="397.2" cy="307.1" r="0.85" fill="#16a05a"/>
<circle cx="391.2" cy="311.4" r="0.85" fill="#16a05a"/>
<circle cx="397.2" cy="319.4" r="0.85" fill="#16a05a"/>
<circle cx="386.8" cy="323.1" r="0.85" fill="#16a05a"/>
<circle cx="382.6" cy="328.3" r="0.85" fill="#16a05a"/>
<circle cx="394.2" cy="315.8" r="0.85" fill="#16a05a"/>
<circle cx="376.9" cy="327.9" r="0.85" fill="#16a05a"/>
<line x1="288.4" y1="411.6" x2="424" y2="283" stroke="#000" stroke-width="1.2"/>
<text x="335.8" y="291.7" font-size="9.20" text-anchor="start" font-weight="normal" font-style="normal" fill="#141414" textLength="70.0" lengthAdjust="spacingAndGlyphs" ><tspan font-style="italic">y</tspan> = 1.26x + 6.06</text>
<circle cx="398.9" cy="347.2" r="1.3" fill="#b5202a"/>
<text x="405.9" y="349.3" font-size="7.60" text-anchor="start" font-weight="normal" font-style="normal" fill="#141414" textLength="20.5" lengthAdjust="spacingAndGlyphs" >48hpf</text>
<circle cx="398.9" cy="356.9" r="1.3" fill="#e8461c"/>
<text x="405.9" y="359.6" font-size="7.60" text-anchor="start" font-weight="normal" font-style="normal" fill="#141414" textLength="15.3" lengthAdjust="spacingAndGlyphs" >5dpf</text>
<circle cx="398.9" cy="367.2" r="1.3" fill="#16a05a"/>
<text x="405.9" y="369.3" font-size="7.60" text-anchor="start" font-weight="normal" font-style="normal" fill="#141414" textLength="20.5" lengthAdjust="spacingAndGlyphs" >10dpf</text>
<text x="0" y="0" transform="translate(253.0 409.1) rotate(-90.0)" font-size="10.50" text-anchor="start" font-weight="normal" font-style="normal" fill="#141414" textLength="136.0" lengthAdjust="spacingAndGlyphs" >Linear furrow distance (µm)</text>
<text x="283.1" y="447.0" font-size="10.50" text-anchor="start" font-weight="normal" font-style="normal" fill="#141414" textLength="155.0" lengthAdjust="spacingAndGlyphs" >Fibril cross sectional area (µm<tspan font-size="6.5" dy="-4">2</tspan><tspan dy="4">)</tspan></text>
<path d="M57.9,487.6 V635.7 H204.7" fill="none" stroke="#111" stroke-width="1.3"/>
<line x1="55.4" y1="635.7" x2="57.9" y2="635.7" stroke="#111" stroke-width="1"/>
<text x="51.2" y="639.3" font-size="10.40" text-anchor="end" font-weight="normal" font-style="normal" fill="#141414" textLength="5.3" lengthAdjust="spacingAndGlyphs" >0</text>
<line x1="55.4" y1="620.9" x2="57.9" y2="620.9" stroke="#111" stroke-width="1"/>
<text x="51.2" y="624.5" font-size="10.40" text-anchor="end" font-weight="normal" font-style="normal" fill="#141414" textLength="10.7" lengthAdjust="spacingAndGlyphs" >20</text>
<line x1="55.4" y1="606.1" x2="57.9" y2="606.1" stroke="#111" stroke-width="1"/>
<text x="51.2" y="609.7" font-size="10.40" text-anchor="end" font-weight="normal" font-style="normal" fill="#141414" textLength="10.7" lengthAdjust="spacingAndGlyphs" >40</text>
<line x1="55.4" y1="591.3" x2="57.9" y2="591.3" stroke="#111" stroke-width="1"/>
<text x="51.2" y="594.9" font-size="10.40" text-anchor="end" font-weight="normal" font-style="normal" fill="#141414" textLength="10.7" lengthAdjust="spacingAndGlyphs" >60</text>
<line x1="55.4" y1="576.5" x2="57.9" y2="576.5" stroke="#111" stroke-width="1"/>
<text x="51.2" y="580.1" font-size="10.40" text-anchor="end" font-weight="normal" font-style="normal" fill="#141414" textLength="10.7" lengthAdjust="spacingAndGlyphs" >80</text>
<line x1="55.4" y1="561.7" x2="57.9" y2="561.7" stroke="#111" stroke-width="1"/>
<text x="51.2" y="565.3" font-size="10.40" text-anchor="end" font-weight="normal" font-style="normal" fill="#141414" textLength="16.0" lengthAdjust="spacingAndGlyphs" >100</text>
<line x1="55.4" y1="546.8" x2="57.9" y2="546.8" stroke="#111" stroke-width="1"/>
<text x="51.2" y="550.4" font-size="10.40" text-anchor="end" font-weight="normal" font-style="normal" fill="#141414" textLength="16.0" lengthAdjust="spacingAndGlyphs" >120</text>
<line x1="55.4" y1="532.0" x2="57.9" y2="532.0" stroke="#111" stroke-width="1"/>
<text x="51.2" y="535.6" font-size="10.40" text-anchor="end" font-weight="normal" font-style="normal" fill="#141414" textLength="16.0" lengthAdjust="spacingAndGlyphs" >140</text>
<line x1="55.4" y1="517.2" x2="57.9" y2="517.2" stroke="#111" stroke-width="1"/>
<text x="51.2" y="520.8" font-size="10.40" text-anchor="end" font-weight="normal" font-style="normal" fill="#141414" textLength="16.0" lengthAdjust="spacingAndGlyphs" >160</text>
<line x1="55.4" y1="502.4" x2="57.9" y2="502.4" stroke="#111" stroke-width="1"/>
<text x="51.2" y="506.0" font-size="10.40" text-anchor="end" font-weight="normal" font-style="normal" fill="#141414" textLength="16.0" lengthAdjust="spacingAndGlyphs" >180</text>
<line x1="55.4" y1="487.6" x2="57.9" y2="487.6" stroke="#111" stroke-width="1"/>
<text x="51.2" y="491.2" font-size="10.40" text-anchor="end" font-weight="normal" font-style="normal" fill="#141414" textLength="16.0" lengthAdjust="spacingAndGlyphs" >200</text>
<line x1="57.9" y1="633.2" x2="57.9" y2="635.7" stroke="#111" stroke-width="1"/>
<text x="57.9" y="651.0" font-size="10.40" text-anchor="middle" font-weight="normal" font-style="normal" fill="#141414" textLength="5.3" lengthAdjust="spacingAndGlyphs" >0</text>
<line x1="72.6" y1="633.2" x2="72.6" y2="635.7" stroke="#111" stroke-width="1"/>
<text x="72.6" y="651.0" font-size="10.40" text-anchor="middle" font-weight="normal" font-style="normal" fill="#141414" textLength="5.3" lengthAdjust="spacingAndGlyphs" >1</text>
<line x1="87.3" y1="633.2" x2="87.3" y2="635.7" stroke="#111" stroke-width="1"/>
<text x="87.3" y="651.0" font-size="10.40" text-anchor="middle" font-weight="normal" font-style="normal" fill="#141414" textLength="5.3" lengthAdjust="spacingAndGlyphs" >2</text>
<line x1="101.9" y1="633.2" x2="101.9" y2="635.7" stroke="#111" stroke-width="1"/>
<text x="101.9" y="651.0" font-size="10.40" text-anchor="middle" font-weight="normal" font-style="normal" fill="#141414" textLength="5.3" lengthAdjust="spacingAndGlyphs" >3</text>
<line x1="116.6" y1="633.2" x2="116.6" y2="635.7" stroke="#111" stroke-width="1"/>
<text x="116.6" y="651.0" font-size="10.40" text-anchor="middle" font-weight="normal" font-style="normal" fill="#141414" textLength="5.3" lengthAdjust="spacingAndGlyphs" >4</text>
<line x1="131.3" y1="633.2" x2="131.3" y2="635.7" stroke="#111" stroke-width="1"/>
<text x="131.3" y="651.0" font-size="10.40" text-anchor="middle" font-weight="normal" font-style="normal" fill="#141414" textLength="5.3" lengthAdjust="spacingAndGlyphs" >5</text>
<line x1="146.0" y1="633.2" x2="146.0" y2="635.7" stroke="#111" stroke-width="1"/>
<text x="146.0" y="651.0" font-size="10.40" text-anchor="middle" font-weight="normal" font-style="normal" fill="#141414" textLength="5.3" lengthAdjust="spacingAndGlyphs" >6</text>
<line x1="160.7" y1="633.2" x2="160.7" y2="635.7" stroke="#111" stroke-width="1"/>
<text x="160.7" y="651.0" font-size="10.40" text-anchor="middle" font-weight="normal" font-style="normal" fill="#141414" textLength="5.3" lengthAdjust="spacingAndGlyphs" >7</text>
<line x1="175.3" y1="633.2" x2="175.3" y2="635.7" stroke="#111" stroke-width="1"/>
<text x="175.3" y="651.0" font-size="10.40" text-anchor="middle" font-weight="normal" font-style="normal" fill="#141414" textLength="5.3" lengthAdjust="spacingAndGlyphs" >8</text>
<line x1="190.0" y1="633.2" x2="190.0" y2="635.7" stroke="#111" stroke-width="1"/>
<text x="190.0" y="651.0" font-size="10.40" text-anchor="middle" font-weight="normal" font-style="normal" fill="#141414" textLength="5.3" lengthAdjust="spacingAndGlyphs" >9</text>
<line x1="204.7" y1="633.2" x2="204.7" y2="635.7" stroke="#111" stroke-width="1"/>
<text x="204.7" y="651.0" font-size="10.40" text-anchor="middle" font-weight="normal" font-style="normal" fill="#141414" textLength="10.7" lengthAdjust="spacingAndGlyphs" >10</text>
<circle cx="72.6" cy="584.8" r="1.3" fill="#2e3192"/>
<circle cx="72.6" cy="585.3" r="1.3" fill="#2e3192"/>
<circle cx="72.6" cy="577.9" r="1.3" fill="#2e3192"/>
<circle cx="72.6" cy="575.6" r="1.3" fill="#2e3192"/>
<circle cx="72.6" cy="577.5" r="1.3" fill="#2e3192"/>
<circle cx="72.6" cy="581.5" r="1.3" fill="#2e3192"/>
<circle cx="72.6" cy="576.7" r="1.3" fill="#2e3192"/>
<circle cx="72.6" cy="574.7" r="1.3" fill="#2e3192"/>
<circle cx="72.6" cy="577.9" r="1.3" fill="#2e3192"/>
<circle cx="72.6" cy="582.5" r="1.3" fill="#2e3192"/>
<circle cx="72.6" cy="576.1" r="1.3" fill="#2e3192"/>
<circle cx="72.6" cy="575.5" r="1.3" fill="#2e3192"/>
<circle cx="72.6" cy="580.2" r="1.3" fill="#2e3192"/>
<circle cx="72.6" cy="582.0" r="1.3" fill="#2e3192"/>
<circle cx="72.6" cy="581.6" r="1.3" fill="#2e3192"/>
<circle cx="72.6" cy="578.5" r="1.3" fill="#2e3192"/>
<circle cx="72.6" cy="575.5" r="1.3" fill="#2e3192"/>
<circle cx="72.6" cy="577.6" r="1.3" fill="#2e3192"/>
<circle cx="72.6" cy="575.1" r="1.3" fill="#2e3192"/>
<circle cx="72.6" cy="581.3" r="1.3" fill="#2e3192"/>
<circle cx="72.6" cy="580.3" r="1.3" fill="#2e3192"/>
<circle cx="72.6" cy="576.6" r="1.3" fill="#2e3192"/>
<circle cx="72.6" cy="577.5" r="1.3" fill="#2e3192"/>
<circle cx="72.6" cy="579.6" r="1.3" fill="#2e3192"/>
<circle cx="72.6" cy="577.2" r="1.3" fill="#2e3192"/>
<circle cx="72.6" cy="580.2" r="1.3" fill="#2e3192"/>
<circle cx="72.6" cy="582.7" r="1.3" fill="#2e3192"/>
<circle cx="72.6" cy="579.6" r="1.3" fill="#2e3192"/>
<circle cx="72.6" cy="582.8" r="1.3" fill="#2e3192"/>
<circle cx="72.6" cy="577.7" r="1.3" fill="#2e3192"/>
<circle cx="72.6" cy="580.3" r="1.3" fill="#2e3192"/>
<circle cx="72.6" cy="578.9" r="1.3" fill="#2e3192"/>
<circle cx="72.6" cy="577.9" r="1.3" fill="#2e3192"/>
<circle cx="72.6" cy="581.0" r="1.3" fill="#2e3192"/>
<circle cx="72.6" cy="579.1" r="1.3" fill="#2e3192"/>
<circle cx="72.6" cy="583.1" r="1.3" fill="#2e3192"/>
<circle cx="72.6" cy="575.0" r="1.3" fill="#2e3192"/>
<circle cx="72.6" cy="578.2" r="1.3" fill="#2e3192"/>
<circle cx="72.6" cy="574.5" r="1.3" fill="#2e3192"/>
<circle cx="72.6" cy="582.7" r="1.3" fill="#2e3192"/>
<circle cx="72.6" cy="574.4" r="1.35" fill="#2e3192"/>
<circle cx="72.6" cy="585.7" r="1.35" fill="#2e3192"/>
<circle cx="87.3" cy="571.5" r="1.3" fill="#2e3192"/>
<circle cx="87.3" cy="571.3" r="1.3" fill="#2e3192"/>
<circle cx="87.3" cy="566.5" r="1.3" fill="#2e3192"/>
<circle cx="87.3" cy="569.0" r="1.3" fill="#2e3192"/>
<circle cx="87.3" cy="568.3" r="1.3" fill="#2e3192"/>
<circle cx="87.3" cy="568.4" r="1.3" fill="#2e3192"/>
<circle cx="87.3" cy="561.9" r="1.3" fill="#2e3192"/>
<circle cx="87.3" cy="569.0" r="1.3" fill="#2e3192"/>
<circle cx="87.3" cy="561.4" r="1.3" fill="#2e3192"/>
<circle cx="87.3" cy="565.5" r="1.3" fill="#2e3192"/>
<circle cx="87.3" cy="564.3" r="1.3" fill="#2e3192"/>
<circle cx="87.3" cy="563.8" r="1.3" fill="#2e3192"/>
<circle cx="87.3" cy="564.1" r="1.3" fill="#2e3192"/>
<circle cx="87.3" cy="563.0" r="1.3" fill="#2e3192"/>
<circle cx="87.3" cy="563.6" r="1.3" fill="#2e3192"/>
<circle cx="87.3" cy="566.5" r="1.3" fill="#2e3192"/>
<circle cx="87.3" cy="562.2" r="1.3" fill="#2e3192"/>
<circle cx="87.3" cy="567.2" r="1.3" fill="#2e3192"/>
<circle cx="87.3" cy="562.5" r="1.3" fill="#2e3192"/>
<circle cx="87.3" cy="561.9" r="1.3" fill="#2e3192"/>
<circle cx="87.3" cy="561.8" r="1.3" fill="#2e3192"/>
<circle cx="87.3" cy="566.7" r="1.3" fill="#2e3192"/>
<circle cx="87.3" cy="561.8" r="1.3" fill="#2e3192"/>
<circle cx="87.3" cy="559.7" r="1.3" fill="#2e3192"/>
<circle cx="87.3" cy="565.2" r="1.3" fill="#2e3192"/>
<circle cx="87.3" cy="567.0" r="1.3" fill="#2e3192"/>
<circle cx="87.3" cy="564.4" r="1.3" fill="#2e3192"/>
<circle cx="87.3" cy="560.0" r="1.3" fill="#2e3192"/>
<circle cx="87.3" cy="568.6" r="1.3" fill="#2e3192"/>
<circle cx="87.3" cy="569.8" r="1.3" fill="#2e3192"/>
<circle cx="87.3" cy="564.9" r="1.3" fill="#2e3192"/>
<circle cx="87.3" cy="563.1" r="1.3" fill="#2e3192"/>
<circle cx="87.3" cy="561.8" r="1.3" fill="#2e3192"/>
<circle cx="87.3" cy="566.1" r="1.3" fill="#2e3192"/>
<circle cx="87.3" cy="559.5" r="1.3" fill="#2e3192"/>
<circle cx="87.3" cy="567.5" r="1.3" fill="#2e3192"/>
<circle cx="87.3" cy="562.0" r="1.3" fill="#2e3192"/>
<circle cx="87.3" cy="569.0" r="1.3" fill="#2e3192"/>
<circle cx="87.3" cy="569.6" r="1.3" fill="#2e3192"/>
<circle cx="87.3" cy="568.5" r="1.3" fill="#2e3192"/>
<circle cx="87.3" cy="559.4" r="1.35" fill="#2e3192"/>
<circle cx="87.3" cy="572.9" r="1.35" fill="#2e3192"/>
<circle cx="101.9" cy="574.6" r="1.3" fill="#2e3192"/>
<circle cx="101.9" cy="573.6" r="1.3" fill="#2e3192"/>
<circle cx="101.9" cy="561.1" r="1.3" fill="#2e3192"/>
<circle cx="101.9" cy="567.2" r="1.3" fill="#2e3192"/>
<circle cx="101.9" cy="554.9" r="1.3" fill="#2e3192"/>
<circle cx="101.9" cy="564.2" r="1.3" fill="#2e3192"/>
<circle cx="101.9" cy="567.7" r="1.3" fill="#2e3192"/>
<circle cx="101.9" cy="567.3" r="1.3" fill="#2e3192"/>
<circle cx="101.9" cy="558.1" r="1.3" fill="#2e3192"/>
<circle cx="101.9" cy="555.2" r="1.3" fill="#2e3192"/>
<circle cx="101.9" cy="567.5" r="1.3" fill="#2e3192"/>
<circle cx="101.9" cy="569.7" r="1.3" fill="#2e3192"/>
<circle cx="101.9" cy="557.5" r="1.3" fill="#2e3192"/>
<circle cx="101.9" cy="566.2" r="1.3" fill="#2e3192"/>
<circle cx="101.9" cy="554.2" r="1.3" fill="#2e3192"/>
<circle cx="101.9" cy="562.0" r="1.3" fill="#2e3192"/>
<circle cx="101.9" cy="559.8" r="1.3" fill="#2e3192"/>
<circle cx="101.9" cy="564.6" r="1.3" fill="#2e3192"/>
<circle cx="101.9" cy="557.1" r="1.3" fill="#2e3192"/>
<circle cx="101.9" cy="562.7" r="1.3" fill="#2e3192"/>
<circle cx="101.9" cy="564.9" r="1.3" fill="#2e3192"/>
<circle cx="101.9" cy="555.4" r="1.3" fill="#2e3192"/>
<circle cx="101.9" cy="568.4" r="1.3" fill="#2e3192"/>
<circle cx="101.9" cy="558.2" r="1.3" fill="#2e3192"/>
<circle cx="101.9" cy="569.1" r="1.3" fill="#2e3192"/>
<circle cx="101.9" cy="559.6" r="1.3" fill="#2e3192"/>
<circle cx="101.9" cy="563.6" r="1.3" fill="#2e3192"/>
<circle cx="101.9" cy="556.1" r="1.3" fill="#2e3192"/>
<circle cx="101.9" cy="569.2" r="1.3" fill="#2e3192"/>
<circle cx="101.9" cy="561.0" r="1.3" fill="#2e3192"/>
<circle cx="101.9" cy="563.5" r="1.3" fill="#2e3192"/>
<circle cx="101.9" cy="555.2" r="1.3" fill="#2e3192"/>
<circle cx="101.9" cy="554.8" r="1.3" fill="#2e3192"/>
<circle cx="101.9" cy="559.9" r="1.3" fill="#2e3192"/>
<circle cx="101.9" cy="566.5" r="1.3" fill="#2e3192"/>
<circle cx="101.9" cy="566.1" r="1.3" fill="#2e3192"/>
<circle cx="101.9" cy="565.9" r="1.3" fill="#2e3192"/>
<circle cx="101.9" cy="563.1" r="1.3" fill="#2e3192"/>
<circle cx="101.9" cy="566.4" r="1.3" fill="#2e3192"/>
<circle cx="101.9" cy="566.9" r="1.3" fill="#2e3192"/>
<circle cx="101.9" cy="553.9" r="1.35" fill="#2e3192"/>
<circle cx="101.9" cy="574.8" r="1.35" fill="#2e3192"/>
<circle cx="116.6" cy="564.4" r="1.3" fill="#2e3192"/>
<circle cx="116.6" cy="564.7" r="1.3" fill="#2e3192"/>
<circle cx="116.6" cy="559.7" r="1.3" fill="#2e3192"/>
<circle cx="116.6" cy="552.1" r="1.3" fill="#2e3192"/>
<circle cx="116.6" cy="560.6" r="1.3" fill="#2e3192"/>
<circle cx="116.6" cy="556.7" r="1.3" fill="#2e3192"/>
<circle cx="116.6" cy="561.3" r="1.3" fill="#2e3192"/>
<circle cx="116.6" cy="553.5" r="1.3" fill="#2e3192"/>
<circle cx="116.6" cy="553.5" r="1.3" fill="#2e3192"/>
<circle cx="116.6" cy="560.1" r="1.3" fill="#2e3192"/>
<circle cx="116.6" cy="554.8" r="1.3" fill="#2e3192"/>
<circle cx="116.6" cy="554.0" r="1.3" fill="#2e3192"/>
<circle cx="116.6" cy="559.9" r="1.3" fill="#2e3192"/>
<circle cx="116.6" cy="559.4" r="1.3" fill="#2e3192"/>
<circle cx="116.6" cy="557.7" r="1.3" fill="#2e3192"/>
<circle cx="116.6" cy="553.2" r="1.3" fill="#2e3192"/>
<circle cx="116.6" cy="561.2" r="1.3" fill="#2e3192"/>
<circle cx="116.6" cy="555.5" r="1.3" fill="#2e3192"/>
<circle cx="116.6" cy="556.4" r="1.3" fill="#2e3192"/>
<circle cx="116.6" cy="558.0" r="1.3" fill="#2e3192"/>
<circle cx="116.6" cy="556.6" r="1.3" fill="#2e3192"/>
<circle cx="116.6" cy="553.3" r="1.3" fill="#2e3192"/>
<circle cx="116.6" cy="560.7" r="1.3" fill="#2e3192"/>
<circle cx="116.6" cy="553.3" r="1.3" fill="#2e3192"/>
<circle cx="116.6" cy="559.0" r="1.3" fill="#2e3192"/>
<circle cx="116.6" cy="554.4" r="1.3" fill="#2e3192"/>
<circle cx="116.6" cy="553.5" r="1.3" fill="#2e3192"/>
<circle cx="116.6" cy="561.0" r="1.3" fill="#2e3192"/>
<circle cx="116.6" cy="553.5" r="1.3" fill="#2e3192"/>
<circle cx="116.6" cy="552.1" r="1.3" fill="#2e3192"/>
<circle cx="116.6" cy="559.7" r="1.3" fill="#2e3192"/>
<circle cx="116.6" cy="562.7" r="1.3" fill="#2e3192"/>
<circle cx="116.6" cy="561.8" r="1.3" fill="#2e3192"/>
<circle cx="116.6" cy="552.3" r="1.3" fill="#2e3192"/>
<circle cx="116.6" cy="562.9" r="1.3" fill="#2e3192"/>
<circle cx="116.6" cy="553.0" r="1.3" fill="#2e3192"/>
<circle cx="116.6" cy="561.3" r="1.3" fill="#2e3192"/>
<circle cx="116.6" cy="554.9" r="1.3" fill="#2e3192"/>
<circle cx="116.6" cy="561.9" r="1.3" fill="#2e3192"/>
<circle cx="116.6" cy="561.1" r="1.3" fill="#2e3192"/>
<circle cx="116.6" cy="552.0" r="1.35" fill="#2e3192"/>
<circle cx="116.6" cy="566.1" r="1.35" fill="#2e3192"/>
<circle cx="131.3" cy="567.5" r="1.3" fill="#2e3192"/>
<circle cx="131.3" cy="568.9" r="1.3" fill="#2e3192"/>
<circle cx="131.3" cy="559.2" r="1.3" fill="#2e3192"/>
<circle cx="131.3" cy="550.0" r="1.3" fill="#2e3192"/>
<circle cx="131.3" cy="553.2" r="1.3" fill="#2e3192"/>
<circle cx="131.3" cy="550.6" r="1.3" fill="#2e3192"/>
<circle cx="131.3" cy="549.0" r="1.3" fill="#2e3192"/>
<circle cx="131.3" cy="564.1" r="1.3" fill="#2e3192"/>
<circle cx="131.3" cy="560.8" r="1.3" fill="#2e3192"/>
<circle cx="131.3" cy="552.0" r="1.3" fill="#2e3192"/>
<circle cx="131.3" cy="553.6" r="1.3" fill="#2e3192"/>
<circle cx="131.3" cy="564.0" r="1.3" fill="#2e3192"/>
<circle cx="131.3" cy="556.6" r="1.3" fill="#2e3192"/>
<circle cx="131.3" cy="560.9" r="1.3" fill="#2e3192"/>
<circle cx="131.3" cy="557.7" r="1.3" fill="#2e3192"/>
<circle cx="131.3" cy="562.9" r="1.3" fill="#2e3192"/>
<circle cx="131.3" cy="564.3" r="1.3" fill="#2e3192"/>
<circle cx="131.3" cy="548.8" r="1.3" fill="#2e3192"/>
<circle cx="131.3" cy="559.5" r="1.3" fill="#2e3192"/>
<circle cx="131.3" cy="550.6" r="1.3" fill="#2e3192"/>
<circle cx="131.3" cy="562.7" r="1.3" fill="#2e3192"/>
<circle cx="131.3" cy="556.8" r="1.3" fill="#2e3192"/>
<circle cx="131.3" cy="562.4" r="1.3" fill="#2e3192"/>
<circle cx="131.3" cy="557.8" r="1.3" fill="#2e3192"/>
<circle cx="131.3" cy="561.7" r="1.3" fill="#2e3192"/>
<circle cx="131.3" cy="553.7" r="1.3" fill="#2e3192"/>
<circle cx="131.3" cy="562.2" r="1.3" fill="#2e3192"/>
<circle cx="131.3" cy="552.8" r="1.3" fill="#2e3192"/>
<circle cx="131.3" cy="556.6" r="1.3" fill="#2e3192"/>
<circle cx="131.3" cy="562.8" r="1.3" fill="#2e3192"/>
<circle cx="131.3" cy="559.0" r="1.3" fill="#2e3192"/>
<circle cx="131.3" cy="556.7" r="1.3" fill="#2e3192"/>
<circle cx="131.3" cy="550.0" r="1.3" fill="#2e3192"/>
<circle cx="131.3" cy="559.0" r="1.3" fill="#2e3192"/>
<circle cx="131.3" cy="561.2" r="1.3" fill="#2e3192"/>
<circle cx="131.3" cy="549.2" r="1.3" fill="#2e3192"/>
<circle cx="131.3" cy="550.5" r="1.3" fill="#2e3192"/>
<circle cx="131.3" cy="553.0" r="1.3" fill="#2e3192"/>
<circle cx="131.3" cy="560.2" r="1.3" fill="#2e3192"/>
<circle cx="131.3" cy="561.8" r="1.3" fill="#2e3192"/>
<circle cx="131.3" cy="548.7" r="1.35" fill="#2e3192"/>
<circle cx="131.3" cy="569.1" r="1.35" fill="#2e3192"/>
<circle cx="146.0" cy="560.0" r="1.3" fill="#2e3192"/>
<circle cx="146.0" cy="560.5" r="1.3" fill="#2e3192"/>
<circle cx="146.0" cy="557.0" r="1.3" fill="#2e3192"/>
<circle cx="146.0" cy="551.8" r="1.3" fill="#2e3192"/>
<circle cx="146.0" cy="553.0" r="1.3" fill="#2e3192"/>
<circle cx="146.0" cy="551.3" r="1.3" fill="#2e3192"/>
<circle cx="146.0" cy="553.5" r="1.3" fill="#2e3192"/>
<circle cx="146.0" cy="557.4" r="1.3" fill="#2e3192"/>
<circle cx="146.0" cy="549.9" r="1.3" fill="#2e3192"/>
<circle cx="146.0" cy="550.2" r="1.3" fill="#2e3192"/>
<circle cx="146.0" cy="551.5" r="1.3" fill="#2e3192"/>
<circle cx="146.0" cy="551.4" r="1.3" fill="#2e3192"/>
<circle cx="146.0" cy="549.8" r="1.3" fill="#2e3192"/>
<circle cx="146.0" cy="546.6" r="1.3" fill="#2e3192"/>
<circle cx="146.0" cy="547.8" r="1.3" fill="#2e3192"/>
<circle cx="146.0" cy="549.5" r="1.3" fill="#2e3192"/>
<circle cx="146.0" cy="553.1" r="1.3" fill="#2e3192"/>
<circle cx="146.0" cy="554.0" r="1.3" fill="#2e3192"/>
<circle cx="146.0" cy="552.8" r="1.3" fill="#2e3192"/>
<circle cx="146.0" cy="546.7" r="1.3" fill="#2e3192"/>
<circle cx="146.0" cy="553.2" r="1.3" fill="#2e3192"/>
<circle cx="146.0" cy="553.2" r="1.3" fill="#2e3192"/>
<circle cx="146.0" cy="552.9" r="1.3" fill="#2e3192"/>
<circle cx="146.0" cy="555.9" r="1.3" fill="#2e3192"/>
<circle cx="146.0" cy="546.4" r="1.3" fill="#2e3192"/>
<circle cx="146.0" cy="557.4" r="1.3" fill="#2e3192"/>
<circle cx="146.0" cy="550.7" r="1.3" fill="#2e3192"/>
<circle cx="146.0" cy="547.2" r="1.3" fill="#2e3192"/>
<circle cx="146.0" cy="554.7" r="1.3" fill="#2e3192"/>
<circle cx="146.0" cy="550.7" r="1.3" fill="#2e3192"/>
<circle cx="146.0" cy="553.3" r="1.3" fill="#2e3192"/>
<circle cx="146.0" cy="554.8" r="1.3" fill="#2e3192"/>
<circle cx="146.0" cy="555.3" r="1.3" fill="#2e3192"/>
<circle cx="146.0" cy="556.2" r="1.3" fill="#2e3192"/>
<circle cx="146.0" cy="548.1" r="1.3" fill="#2e3192"/>
<circle cx="146.0" cy="548.8" r="1.3" fill="#2e3192"/>
<circle cx="146.0" cy="547.4" r="1.3" fill="#2e3192"/>
<circle cx="146.0" cy="556.9" r="1.3" fill="#2e3192"/>
<circle cx="146.0" cy="549.8" r="1.3" fill="#2e3192"/>
<circle cx="146.0" cy="553.9" r="1.3" fill="#2e3192"/>
<circle cx="146.0" cy="546.4" r="1.35" fill="#2e3192"/>
<circle cx="146.0" cy="560.6" r="1.35" fill="#2e3192"/>
<circle cx="160.7" cy="556.3" r="1.3" fill="#2e3192"/>
<circle cx="160.7" cy="556.5" r="1.3" fill="#2e3192"/>
<circle cx="160.7" cy="549.3" r="1.3" fill="#2e3192"/>
<circle cx="160.7" cy="540.1" r="1.3" fill="#2e3192"/>
<circle cx="160.7" cy="553.7" r="1.3" fill="#2e3192"/>
<circle cx="160.7" cy="543.2" r="1.3" fill="#2e3192"/>
<circle cx="160.7" cy="541.7" r="1.3" fill="#2e3192"/>
<circle cx="160.7" cy="546.6" r="1.3" fill="#2e3192"/>
<circle cx="160.7" cy="545.4" r="1.3" fill="#2e3192"/>
<circle cx="160.7" cy="539.7" r="1.3" fill="#2e3192"/>
<circle cx="160.7" cy="550.4" r="1.3" fill="#2e3192"/>
<circle cx="160.7" cy="544.9" r="1.3" fill="#2e3192"/>
<circle cx="160.7" cy="543.3" r="1.3" fill="#2e3192"/>
<circle cx="160.7" cy="548.4" r="1.3" fill="#2e3192"/>
<circle cx="160.7" cy="543.7" r="1.3" fill="#2e3192"/>
<circle cx="160.7" cy="548.2" r="1.3" fill="#2e3192"/>
<circle cx="160.7" cy="546.3" r="1.3" fill="#2e3192"/>
<circle cx="160.7" cy="545.1" r="1.3" fill="#2e3192"/>
<circle cx="160.7" cy="544.2" r="1.3" fill="#2e3192"/>
<circle cx="160.7" cy="549.2" r="1.3" fill="#2e3192"/>
<circle cx="160.7" cy="544.9" r="1.3" fill="#2e3192"/>
<circle cx="160.7" cy="546.1" r="1.3" fill="#2e3192"/>
<circle cx="160.7" cy="550.6" r="1.3" fill="#2e3192"/>
<circle cx="160.7" cy="545.1" r="1.3" fill="#2e3192"/>
<circle cx="160.7" cy="550.0" r="1.3" fill="#2e3192"/>
<circle cx="160.7" cy="540.9" r="1.3" fill="#2e3192"/>
<circle cx="160.7" cy="547.1" r="1.3" fill="#2e3192"/>
<circle cx="160.7" cy="543.6" r="1.3" fill="#2e3192"/>
<circle cx="160.7" cy="546.4" r="1.3" fill="#2e3192"/>
<circle cx="160.7" cy="547.0" r="1.3" fill="#2e3192"/>
<circle cx="160.7" cy="550.6" r="1.3" fill="#2e3192"/>
<circle cx="160.7" cy="551.7" r="1.3" fill="#2e3192"/>
<circle cx="160.7" cy="540.7" r="1.3" fill="#2e3192"/>
<circle cx="160.7" cy="546.3" r="1.3" fill="#2e3192"/>
<circle cx="160.7" cy="546.4" r="1.3" fill="#2e3192"/>
<circle cx="160.7" cy="546.3" r="1.3" fill="#2e3192"/>
<circle cx="160.7" cy="542.3" r="1.3" fill="#2e3192"/>
<circle cx="160.7" cy="550.4" r="1.3" fill="#2e3192"/>
<circle cx="160.7" cy="551.3" r="1.3" fill="#2e3192"/>
<circle cx="160.7" cy="542.2" r="1.3" fill="#2e3192"/>
<circle cx="160.7" cy="539.7" r="1.35" fill="#2e3192"/>
<circle cx="160.7" cy="557.7" r="1.35" fill="#2e3192"/>
<circle cx="175.3" cy="552.9" r="1.3" fill="#2e3192"/>
<circle cx="175.3" cy="552.5" r="1.3" fill="#2e3192"/>
<circle cx="175.3" cy="534.7" r="1.3" fill="#2e3192"/>
<circle cx="175.3" cy="533.6" r="1.3" fill="#2e3192"/>
<circle cx="175.3" cy="534.0" r="1.3" fill="#2e3192"/>
<circle cx="175.3" cy="548.3" r="1.3" fill="#2e3192"/>
<circle cx="175.3" cy="542.4" r="1.3" fill="#2e3192"/>
<circle cx="175.3" cy="534.6" r="1.3" fill="#2e3192"/>
<circle cx="175.3" cy="534.9" r="1.3" fill="#2e3192"/>
<circle cx="175.3" cy="546.9" r="1.3" fill="#2e3192"/>
<circle cx="175.3" cy="546.3" r="1.3" fill="#2e3192"/>
<circle cx="175.3" cy="544.7" r="1.3" fill="#2e3192"/>
<circle cx="175.3" cy="547.2" r="1.3" fill="#2e3192"/>
<circle cx="175.3" cy="542.8" r="1.3" fill="#2e3192"/>
<circle cx="175.3" cy="535.1" r="1.3" fill="#2e3192"/>
<circle cx="175.3" cy="540.0" r="1.3" fill="#2e3192"/>
<circle cx="175.3" cy="541.2" r="1.3" fill="#2e3192"/>
<circle cx="175.3" cy="547.5" r="1.3" fill="#2e3192"/>
<circle cx="175.3" cy="542.2" r="1.3" fill="#2e3192"/>
<circle cx="175.3" cy="531.8" r="1.3" fill="#2e3192"/>
<circle cx="175.3" cy="537.0" r="1.3" fill="#2e3192"/>
<circle cx="175.3" cy="541.2" r="1.3" fill="#2e3192"/>
<circle cx="175.3" cy="540.7" r="1.3" fill="#2e3192"/>
<circle cx="175.3" cy="535.2" r="1.3" fill="#2e3192"/>
<circle cx="175.3" cy="535.9" r="1.3" fill="#2e3192"/>
<circle cx="175.3" cy="546.4" r="1.3" fill="#2e3192"/>
<circle cx="175.3" cy="537.3" r="1.3" fill="#2e3192"/>
<circle cx="175.3" cy="542.7" r="1.3" fill="#2e3192"/>
<circle cx="175.3" cy="540.0" r="1.3" fill="#2e3192"/>
<circle cx="175.3" cy="544.9" r="1.3" fill="#2e3192"/>
<circle cx="175.3" cy="542.6" r="1.3" fill="#2e3192"/>
<circle cx="175.3" cy="543.1" r="1.3" fill="#2e3192"/>
<circle cx="175.3" cy="542.4" r="1.3" fill="#2e3192"/>
<circle cx="175.3" cy="548.7" r="1.3" fill="#2e3192"/>
<circle cx="175.3" cy="545.5" r="1.3" fill="#2e3192"/>
<circle cx="175.3" cy="539.2" r="1.3" fill="#2e3192"/>
<circle cx="175.3" cy="548.0" r="1.3" fill="#2e3192"/>
<circle cx="175.3" cy="545.9" r="1.3" fill="#2e3192"/>
<circle cx="175.3" cy="536.6" r="1.3" fill="#2e3192"/>
<circle cx="175.3" cy="544.3" r="1.3" fill="#2e3192"/>
<circle cx="175.3" cy="531.7" r="1.35" fill="#2e3192"/>
<circle cx="175.3" cy="553.9" r="1.35" fill="#2e3192"/>
<circle cx="190.0" cy="535.5" r="1.3" fill="#2e3192"/>
<circle cx="190.0" cy="535.6" r="1.3" fill="#2e3192"/>
<circle cx="190.0" cy="519.5" r="1.3" fill="#2e3192"/>
<circle cx="190.0" cy="530.6" r="1.3" fill="#2e3192"/>
<circle cx="190.0" cy="522.4" r="1.3" fill="#2e3192"/>
<circle cx="190.0" cy="519.1" r="1.3" fill="#2e3192"/>
<circle cx="190.0" cy="528.9" r="1.3" fill="#2e3192"/>
<circle cx="190.0" cy="525.6" r="1.3" fill="#2e3192"/>
<circle cx="190.0" cy="520.1" r="1.3" fill="#2e3192"/>
<circle cx="190.0" cy="522.7" r="1.3" fill="#2e3192"/>
<circle cx="190.0" cy="526.4" r="1.3" fill="#2e3192"/>
<circle cx="190.0" cy="531.3" r="1.3" fill="#2e3192"/>
<circle cx="190.0" cy="525.3" r="1.3" fill="#2e3192"/>
<circle cx="190.0" cy="526.5" r="1.3" fill="#2e3192"/>
<circle cx="190.0" cy="521.3" r="1.3" fill="#2e3192"/>
<circle cx="190.0" cy="527.5" r="1.3" fill="#2e3192"/>
<circle cx="190.0" cy="525.9" r="1.3" fill="#2e3192"/>
<circle cx="190.0" cy="522.3" r="1.3" fill="#2e3192"/>
<circle cx="190.0" cy="519.8" r="1.3" fill="#2e3192"/>
<circle cx="190.0" cy="526.7" r="1.3" fill="#2e3192"/>
<circle cx="190.0" cy="526.2" r="1.3" fill="#2e3192"/>
<circle cx="190.0" cy="523.3" r="1.3" fill="#2e3192"/>
<circle cx="190.0" cy="518.1" r="1.3" fill="#2e3192"/>
<circle cx="190.0" cy="529.1" r="1.3" fill="#2e3192"/>
<circle cx="190.0" cy="517.4" r="1.3" fill="#2e3192"/>
<circle cx="190.0" cy="521.3" r="1.3" fill="#2e3192"/>
<circle cx="190.0" cy="526.4" r="1.3" fill="#2e3192"/>
<circle cx="190.0" cy="522.0" r="1.3" fill="#2e3192"/>
<circle cx="190.0" cy="527.0" r="1.3" fill="#2e3192"/>
<circle cx="190.0" cy="530.9" r="1.3" fill="#2e3192"/>
<circle cx="190.0" cy="520.6" r="1.3" fill="#2e3192"/>
<circle cx="190.0" cy="526.3" r="1.3" fill="#2e3192"/>
<circle cx="190.0" cy="524.1" r="1.3" fill="#2e3192"/>
<circle cx="190.0" cy="524.5" r="1.3" fill="#2e3192"/>
<circle cx="190.0" cy="518.5" r="1.3" fill="#2e3192"/>
<circle cx="190.0" cy="520.6" r="1.3" fill="#2e3192"/>
<circle cx="190.0" cy="531.6" r="1.3" fill="#2e3192"/>
<circle cx="190.0" cy="523.1" r="1.3" fill="#2e3192"/>
<circle cx="190.0" cy="525.0" r="1.3" fill="#2e3192"/>
<circle cx="190.0" cy="525.0" r="1.3" fill="#2e3192"/>
<circle cx="190.0" cy="517.0" r="1.35" fill="#2e3192"/>
<circle cx="190.0" cy="536.2" r="1.35" fill="#2e3192"/>
<circle cx="204.7" cy="538.4" r="1.3" fill="#2e3192"/>
<circle cx="204.7" cy="539.3" r="1.3" fill="#2e3192"/>
<circle cx="204.7" cy="519.2" r="1.3" fill="#2e3192"/>
<circle cx="204.7" cy="507.5" r="1.3" fill="#2e3192"/>
<circle cx="204.7" cy="520.1" r="1.3" fill="#2e3192"/>
<circle cx="204.7" cy="518.7" r="1.3" fill="#2e3192"/>
<circle cx="204.7" cy="518.1" r="1.3" fill="#2e3192"/>
<circle cx="204.7" cy="509.4" r="1.3" fill="#2e3192"/>
<circle cx="204.7" cy="513.7" r="1.3" fill="#2e3192"/>
<circle cx="204.7" cy="511.7" r="1.3" fill="#2e3192"/>
<circle cx="204.7" cy="521.2" r="1.3" fill="#2e3192"/>
<circle cx="204.7" cy="531.2" r="1.3" fill="#2e3192"/>
<circle cx="204.7" cy="513.4" r="1.3" fill="#2e3192"/>
<circle cx="204.7" cy="516.9" r="1.3" fill="#2e3192"/>
<circle cx="204.7" cy="510.9" r="1.3" fill="#2e3192"/>
<circle cx="204.7" cy="510.9" r="1.3" fill="#2e3192"/>
<circle cx="204.7" cy="529.1" r="1.3" fill="#2e3192"/>
<circle cx="204.7" cy="526.2" r="1.3" fill="#2e3192"/>
<circle cx="204.7" cy="530.2" r="1.3" fill="#2e3192"/>
<circle cx="204.7" cy="509.6" r="1.3" fill="#2e3192"/>
<circle cx="204.7" cy="529.5" r="1.3" fill="#2e3192"/>
<circle cx="204.7" cy="529.9" r="1.3" fill="#2e3192"/>
<circle cx="204.7" cy="511.4" r="1.3" fill="#2e3192"/>
<circle cx="204.7" cy="516.6" r="1.3" fill="#2e3192"/>
<circle cx="204.7" cy="530.8" r="1.3" fill="#2e3192"/>
<circle cx="204.7" cy="513.4" r="1.3" fill="#2e3192"/>
<circle cx="204.7" cy="512.5" r="1.3" fill="#2e3192"/>
<circle cx="204.7" cy="518.9" r="1.3" fill="#2e3192"/>
<circle cx="204.7" cy="530.9" r="1.3" fill="#2e3192"/>
<circle cx="204.7" cy="513.1" r="1.3" fill="#2e3192"/>
<circle cx="204.7" cy="520.7" r="1.3" fill="#2e3192"/>
<circle cx="204.7" cy="516.1" r="1.3" fill="#2e3192"/>
<circle cx="204.7" cy="504.5" r="1.3" fill="#2e3192"/>
<circle cx="204.7" cy="509.6" r="1.3" fill="#2e3192"/>
<circle cx="204.7" cy="508.1" r="1.3" fill="#2e3192"/>
<circle cx="204.7" cy="528.3" r="1.3" fill="#2e3192"/>
<circle cx="204.7" cy="523.1" r="1.3" fill="#2e3192"/>
<circle cx="204.7" cy="517.9" r="1.3" fill="#2e3192"/>
<circle cx="204.7" cy="532.2" r="1.3" fill="#2e3192"/>
<circle cx="204.7" cy="504.8" r="1.3" fill="#2e3192"/>
<circle cx="204.7" cy="504.5" r="1.35" fill="#2e3192"/>
<circle cx="204.7" cy="540.2" r="1.35" fill="#2e3192"/>
<path d="M72.4,574.7 C77.3,572.4 77.4,571.7 87.2,567.9 C97.0,564.1 92.1,566.3 101.9,563.4 C111.7,560.5 106.7,561.7 116.6,559.3 C126.5,556.9 121.6,558.4 131.5,556.1 C141.4,553.8 136.5,555.2 146.4,552.5 C156.3,549.8 151.5,551.5 161.2,548.0 C170.9,544.5 165.8,547.3 175.4,541.9 C185.0,536.5 180.3,539.3 190.1,531.7 C199.9,524.1 199.9,523.4 204.8,519.2" fill="none" stroke="#000" stroke-width="1.3"/>
<text x="97.3" y="586.8" font-size="9.00" text-anchor="start" font-weight="normal" font-style="normal" fill="#141414" textLength="109.3" lengthAdjust="spacingAndGlyphs" ><tspan font-style="italic">y</tspan> = 0.2x<tspan font-size="5.5" dy="-3">3</tspan><tspan dy="3"> – 2.6x</tspan><tspan font-size="5.5" dy="-3">2</tspan><tspan dy="3"> + 17x + 65</tspan></text>
<text x="0" y="0" transform="translate(24.4 609.0) rotate(-90.0)" font-size="10.50" text-anchor="start" font-weight="normal" font-style="normal" fill="#141414" textLength="89.9" lengthAdjust="spacingAndGlyphs" >Somite width (µm)</text>
<text x="66.3" y="666.7" font-size="10.50" text-anchor="start" font-weight="normal" font-style="normal" fill="#141414" textLength="128.7" lengthAdjust="spacingAndGlyphs" >Days post fertlization (dpf)</text>
<path d="M288.9,488.9 V634.3 H434.9" fill="none" stroke="#111" stroke-width="1.3"/>
<line x1="287.4" y1="634.3" x2="288.9" y2="634.3" stroke="#111" stroke-width="1"/>
<text x="282.3" y="637.9" font-size="10.40" text-anchor="end" font-weight="normal" font-style="normal" fill="#141414" textLength="5.3" lengthAdjust="spacingAndGlyphs" >0</text>
<line x1="287.4" y1="613.5" x2="288.9" y2="613.5" stroke="#111" stroke-width="1"/>
<text x="282.3" y="617.1" font-size="10.40" text-anchor="end" font-weight="normal" font-style="normal" fill="#141414" textLength="10.7" lengthAdjust="spacingAndGlyphs" >20</text>
<line x1="287.4" y1="592.8" x2="288.9" y2="592.8" stroke="#111" stroke-width="1"/>
<text x="282.3" y="596.4" font-size="10.40" text-anchor="end" font-weight="normal" font-style="normal" fill="#141414" textLength="10.7" lengthAdjust="spacingAndGlyphs" >40</text>
<line x1="287.4" y1="572.0" x2="288.9" y2="572.0" stroke="#111" stroke-width="1"/>
<text x="282.3" y="575.6" font-size="10.40" text-anchor="end" font-weight="normal" font-style="normal" fill="#141414" textLength="10.7" lengthAdjust="spacingAndGlyphs" >60</text>
<line x1="287.4" y1="551.2" x2="288.9" y2="551.2" stroke="#111" stroke-width="1"/>
<text x="282.3" y="554.8" font-size="10.40" text-anchor="end" font-weight="normal" font-style="normal" fill="#141414" textLength="10.7" lengthAdjust="spacingAndGlyphs" >80</text>
<line x1="287.4" y1="530.4" x2="288.9" y2="530.4" stroke="#111" stroke-width="1"/>
<text x="282.3" y="534.0" font-size="10.40" text-anchor="end" font-weight="normal" font-style="normal" fill="#141414" textLength="16.0" lengthAdjust="spacingAndGlyphs" >100</text>
<line x1="287.4" y1="509.7" x2="288.9" y2="509.7" stroke="#111" stroke-width="1"/>
<text x="282.3" y="513.3" font-size="10.40" text-anchor="end" font-weight="normal" font-style="normal" fill="#141414" textLength="16.0" lengthAdjust="spacingAndGlyphs" >120</text>
<line x1="287.4" y1="488.9" x2="288.9" y2="488.9" stroke="#111" stroke-width="1"/>
<text x="282.3" y="492.5" font-size="10.40" text-anchor="end" font-weight="normal" font-style="normal" fill="#141414" textLength="16.0" lengthAdjust="spacingAndGlyphs" >140</text>
<line x1="288.9" y1="634.3" x2="288.9" y2="635.8" stroke="#111" stroke-width="1"/>
<text x="288.9" y="650.5" font-size="10.40" text-anchor="middle" font-weight="normal" font-style="normal" fill="#141414" textLength="5.3" lengthAdjust="spacingAndGlyphs" >0</text>
<line x1="309.8" y1="634.3" x2="309.8" y2="635.8" stroke="#111" stroke-width="1"/>
<text x="309.8" y="650.5" font-size="10.40" text-anchor="middle" font-weight="normal" font-style="normal" fill="#141414" textLength="10.7" lengthAdjust="spacingAndGlyphs" >20</text>
<line x1="330.6" y1="634.3" x2="330.6" y2="635.8" stroke="#111" stroke-width="1"/>
<text x="330.6" y="650.5" font-size="10.40" text-anchor="middle" font-weight="normal" font-style="normal" fill="#141414" textLength="10.7" lengthAdjust="spacingAndGlyphs" >40</text>
<line x1="351.5" y1="634.3" x2="351.5" y2="635.8" stroke="#111" stroke-width="1"/>
<text x="351.5" y="650.5" font-size="10.40" text-anchor="middle" font-weight="normal" font-style="normal" fill="#141414" textLength="10.7" lengthAdjust="spacingAndGlyphs" >60</text>
<line x1="372.3" y1="634.3" x2="372.3" y2="635.8" stroke="#111" stroke-width="1"/>
<text x="372.3" y="650.5" font-size="10.40" text-anchor="middle" font-weight="normal" font-style="normal" fill="#141414" textLength="10.7" lengthAdjust="spacingAndGlyphs" >80</text>
<line x1="393.2" y1="634.3" x2="393.2" y2="635.8" stroke="#111" stroke-width="1"/>
<text x="393.2" y="650.5" font-size="10.40" text-anchor="middle" font-weight="normal" font-style="normal" fill="#141414" textLength="16.0" lengthAdjust="spacingAndGlyphs" >100</text>
<line x1="414.1" y1="634.3" x2="414.1" y2="635.8" stroke="#111" stroke-width="1"/>
<text x="414.1" y="650.5" font-size="10.40" text-anchor="middle" font-weight="normal" font-style="normal" fill="#141414" textLength="16.0" lengthAdjust="spacingAndGlyphs" >120</text>
<line x1="434.9" y1="634.3" x2="434.9" y2="635.8" stroke="#111" stroke-width="1"/>
<text x="434.9" y="650.5" font-size="10.40" text-anchor="middle" font-weight="normal" font-style="normal" fill="#141414" textLength="16.0" lengthAdjust="spacingAndGlyphs" >140</text>
<circle cx="368.1" cy="572.3" r="2.15" fill="#70a7db"/>
<circle cx="372.3" cy="583.7" r="2.15" fill="#70a7db"/>
<circle cx="375.2" cy="583.7" r="2.15" fill="#70a7db"/>
<circle cx="383.7" cy="570.4" r="2.15" fill="#70a7db"/>
<circle cx="383.7" cy="575.1" r="2.15" fill="#70a7db"/>
<circle cx="384.5" cy="580.2" r="2.15" fill="#70a7db"/>
<circle cx="388.9" cy="577.5" r="2.15" fill="#70a7db"/>
<circle cx="389.9" cy="580.4" r="2.15" fill="#70a7db"/>
<circle cx="390.4" cy="561.4" r="2.15" fill="#70a7db"/>
<circle cx="392.3" cy="561.4" r="2.15" fill="#70a7db"/>
<circle cx="393.2" cy="578.0" r="2.15" fill="#70a7db"/>
<circle cx="394.2" cy="576.1" r="2.15" fill="#70a7db"/>
<circle cx="395.9" cy="564.7" r="2.15" fill="#70a7db"/>
<circle cx="399.1" cy="561.4" r="2.15" fill="#70a7db"/>
<circle cx="401.0" cy="567.1" r="2.15" fill="#70a7db"/>
<circle cx="416.7" cy="570.9" r="2.15" fill="#70a7db"/>
<circle cx="388.5" cy="572.8" r="2.15" fill="#70a7db"/>
<path d="M377.6,573.1 H401 M377.6,571.3 V574.9 M401,571.3 V574.9" stroke="#444" stroke-width="1.5" fill="none"/>
<path d="M389.4,565.2 V580.6 M387.5,565.2 H391.3 M387.5,580.6 H391.3" stroke="#111" stroke-width="1.2" fill="none"/>
<text x="0" y="0" transform="translate(254.3 602.6) rotate(-90.0)" font-size="10.50" text-anchor="start" font-weight="normal" font-style="normal" fill="#141414" textLength="74.7" lengthAdjust="spacingAndGlyphs" >Diametery (nm)</text>
<text x="321.6" y="666.4" font-size="10.50" text-anchor="start" font-weight="normal" font-style="normal" fill="#141414" textLength="79.4" lengthAdjust="spacingAndGlyphs" >Diameter x (nm)</text>
<path d="M72.9,875.0 L130.9,831.4 L258.3,845.0 M72.5,848.7 L130.9,810.2 L259.0,823.0 M72.0,823.3 L130.9,788.8 L259.7,800.3 M70.5,798.5 L130.9,766.8 L260.4,776.9 M69.5,772.0 L130.9,744.4 L261.0,753.1 M68.5,745.4 L130.9,721.4 L261.5,729.1 M67.4,718.8 L130.9,698.4 L262.0,704.6 M130.9,831.4 L130.9,698.4 M258.3,845.0 L262.0,704.6" fill="none" stroke="#9a9a9a" stroke-width="1.15"/>
<line x1="72.9" y1="875.0" x2="67.4" y2="718.8" stroke="#111" stroke-width="1.2"/>
<text x="67.4" y="878.5" font-size="10.20" text-anchor="end" font-weight="normal" font-style="normal" fill="#141414" textLength="5.2" lengthAdjust="spacingAndGlyphs" >0</text>
<text x="67.0" y="852.2" font-size="10.20" text-anchor="end" font-weight="normal" font-style="normal" fill="#141414" textLength="10.5" lengthAdjust="spacingAndGlyphs" >20</text>
<text x="66.5" y="826.8" font-size="10.20" text-anchor="end" font-weight="normal" font-style="normal" fill="#141414" textLength="10.5" lengthAdjust="spacingAndGlyphs" >40</text>
<text x="65.0" y="802.0" font-size="10.20" text-anchor="end" font-weight="normal" font-style="normal" fill="#141414" textLength="10.5" lengthAdjust="spacingAndGlyphs" >60</text>
<text x="64.0" y="775.5" font-size="10.20" text-anchor="end" font-weight="normal" font-style="normal" fill="#141414" textLength="10.5" lengthAdjust="spacingAndGlyphs" >80</text>
<text x="63.0" y="748.9" font-size="10.20" text-anchor="end" font-weight="normal" font-style="normal" fill="#141414" textLength="15.7" lengthAdjust="spacingAndGlyphs" >100</text>
<text x="61.9" y="722.3" font-size="10.20" text-anchor="end" font-weight="normal" font-style="normal" fill="#141414" textLength="15.7" lengthAdjust="spacingAndGlyphs" >120</text>
<path d="M72.9,875.0 L130.7,831.4 L147.5,822.8 L164.3,814.3 L181.0,804.5 L198.0,795.0 L207.7,790.0 L221.0,782.0 L234.0,774.7 L247.0,767.3 L260.5,760.2 L260.5,760.2 L256.0,772.5 L251.5,784.9 L246.0,800.0 L237.9,821.5 L230.6,841.5 L223.6,861.3 L220.5,876.0 L220.5,876.0 L185.0,876.6 L150.0,876.0 L110.0,875.5 L72.9,875.0 Z" fill="#5c60b4"/>
<path d="M164.3,814.3 L181.0,804.5 L198.0,795.0 L207.7,790.0 L221.0,782.0 L234.0,774.7 L247.0,767.3 L260.5,760.2 L256.0,772.5 L251.5,784.9 L246.0,800.0 L237.9,821.5 L230.6,841.5 L223.6,862.1 L211.0,858.8 L199.0,855.1 L189.0,850.8 L179.8,845.5 L172.0,840.5 L165.8,834.1 L162.8,829.2 L161.4,823.6 L161.6,819.0 L164.3,814.3Z" fill="#a4dfe9"/>
<path d="M198.5,795.0 L207.7,790.0 L221.0,782.0 L234.0,774.7 L247.0,767.3 L260.5,760.2 L256.0,772.5 L251.5,784.9 L246.0,800.0 L238.4,821.5 L227.0,819.2 L221.0,817.3 L214.8,814.8 L209.0,810.8 L204.3,806.0 L200.5,800.5 L198.5,795.0Z" fill="#85c92a"/>
<path d="M233.7,775.4 L247.0,767.3 L260.5,760.2 L256.0,772.5 L250.7,785.0 L241.0,780.6 L237.0,778.3 L233.7,775.4Z" fill="#f6e33e"/>
<path d="M130.9,831.4 L258.3,845 M130.9,810.2 L259.0,823 M130.9,788.8 L259.7,800.3 M130.9,766.8 L260.4,776.9 M130.9,744.4 L261,753.1" stroke="#666" stroke-opacity="0.22" stroke-width="1.1" fill="none"/>
<path d="M215.7,785.0 C212.5,791.4 212.7,790.9 206.0,804.3 C199.3,817.7 201.6,811.9 195.5,825.3 C189.4,838.7 191.7,832.4 187.6,844.6 C183.5,856.8 185.3,851.5 183.3,862.0 C181.3,872.5 182.1,871.4 181.5,876.1" fill="none" stroke="#111" stroke-width="1" stroke-dasharray="3.2 2.6"/>
<path d="M72.9,875.0 L220.1,894.0 L258.4,844.9" fill="none" stroke="#111" stroke-width="1.3"/>
<path d="M72.9,875.0 l0,2.5 M91.3,877.4 l0,2.5 M109.7,879.8 l0,2.5 M128.1,882.1 l0,2.5 M146.5,884.5 l0,2.5 M164.9,886.9 l0,2.5 M183.3,889.2 l0,2.5 M201.7,891.6 l0,2.5 M220.1,894.0 l0,2.5 M220.1,894.0 l2,0 M221.7,892.0 l2,0 M223.3,889.9 l2,0 M224.9,887.9 l2,0 M226.5,885.8 l2,0 M228.1,883.8 l2,0 M229.7,881.7 l2,0 M231.3,879.7 l2,0 M232.9,877.6 l2,0 M234.5,875.6 l2,0 M236.1,873.5 l2,0 M237.7,871.5 l2,0 M239.2,869.5 l2,0 M240.8,867.4 l2,0 M242.4,865.4 l2,0 M244.0,863.3 l2,0 M245.6,861.3 l2,0 M247.2,859.2 l2,0 M248.8,857.2 l2,0 M250.4,855.1 l2,0 M252.0,853.1 l2,0 M253.6,851.0 l2,0 M255.2,849.0 l2,0 M256.8,846.9 l2,0 M258.4,844.9 l2,0" stroke="#111" stroke-width="0.9" fill="none"/>
<text x="71.5" y="889.9" font-size="10.00" text-anchor="middle" font-weight="normal" font-style="normal" fill="#141414" textLength="5.2" lengthAdjust="spacingAndGlyphs" >0</text>
<text x="89.9" y="892.1" font-size="10.00" text-anchor="middle" font-weight="normal" font-style="normal" fill="#141414" textLength="5.2" lengthAdjust="spacingAndGlyphs" >5</text>
<text x="108.3" y="894.3" font-size="10.00" text-anchor="middle" font-weight="normal" font-style="normal" fill="#141414" textLength="10.3" lengthAdjust="spacingAndGlyphs" >10</text>
<text x="126.7" y="896.5" font-size="10.00" text-anchor="middle" font-weight="normal" font-style="normal" fill="#141414" textLength="10.3" lengthAdjust="spacingAndGlyphs" >15</text>
<text x="145.1" y="898.7" font-size="10.00" text-anchor="middle" font-weight="normal" font-style="normal" fill="#141414" textLength="10.3" lengthAdjust="spacingAndGlyphs" >20</text>
<text x="163.5" y="900.9" font-size="10.00" text-anchor="middle" font-weight="normal" font-style="normal" fill="#141414" textLength="10.3" lengthAdjust="spacingAndGlyphs" >25</text>
<text x="181.9" y="903.1" font-size="10.00" text-anchor="middle" font-weight="normal" font-style="normal" fill="#141414" textLength="10.3" lengthAdjust="spacingAndGlyphs" >30</text>
<text x="200.3" y="905.3" font-size="10.00" text-anchor="middle" font-weight="normal" font-style="normal" fill="#141414" textLength="10.3" lengthAdjust="spacingAndGlyphs" >35</text>
<text x="218.7" y="907.5" font-size="10.00" text-anchor="middle" font-weight="normal" font-style="normal" fill="#141414" textLength="10.3" lengthAdjust="spacingAndGlyphs" >40</text>
<text x="229.3" y="897.9" font-size="9.00" text-anchor="start" font-weight="normal" font-style="normal" fill="#141414" textLength="14.2" lengthAdjust="spacingAndGlyphs" >100</text>
<text x="236.1" y="888.0" font-size="9.00" text-anchor="start" font-weight="normal" font-style="normal" fill="#141414" textLength="14.2" lengthAdjust="spacingAndGlyphs" >200</text>
<text x="243.8" y="878.3" font-size="9.00" text-anchor="start" font-weight="normal" font-style="normal" fill="#141414" textLength="14.2" lengthAdjust="spacingAndGlyphs" >300</text>
<text x="251.6" y="868.8" font-size="9.00" text-anchor="start" font-weight="normal" font-style="normal" fill="#141414" textLength="14.2" lengthAdjust="spacingAndGlyphs" >400</text>
<text x="259.0" y="859.5" font-size="9.00" text-anchor="start" font-weight="normal" font-style="normal" fill="#141414" textLength="14.2" lengthAdjust="spacingAndGlyphs" >500</text>
<text x="264.6" y="851.0" font-size="9.00" text-anchor="start" font-weight="normal" font-style="normal" fill="#141414" textLength="14.2" lengthAdjust="spacingAndGlyphs" >580</text>
<text x="0" y="0" transform="translate(93.5 906.0) skewY(7.9)" font-size="9.60" text-anchor="start" font-weight="normal" font-style="normal" fill="#141414" textLength="86.5" lengthAdjust="spacingAndGlyphs" >Fibre Diameter (µm)</text>
<text x="0" y="0" transform="translate(247.3 913.2) rotate(-52.0)" font-size="9.60" text-anchor="start" font-weight="normal" font-style="italic" fill="#141414" textLength="75.0" lengthAdjust="spacingAndGlyphs" >Fibre Length (µm)</text>
<text x="0" y="0" transform="translate(41.0 889.6) rotate(-91.6)" font-size="10.00" text-anchor="start" font-weight="normal" font-style="normal" fill="#141414" textLength="172.0" lengthAdjust="spacingAndGlyphs" >Sarcolemma Surface Area x1000 (µm<tspan font-size="6" dy="-3.5">2</tspan><tspan dy="3.5">)</tspan></text>
<path d="M460.2,875.0 L518.2,831.4 L645.6,845.0 M459.8,848.7 L518.2,810.2 L646.3,823.0 M459.3,823.3 L518.2,788.8 L647.0,800.3 M457.8,798.5 L518.2,766.8 L647.7,776.9 M456.8,772.0 L518.2,744.4 L648.3,753.1 M455.8,745.4 L518.2,721.4 L648.8,729.1 M454.7,718.8 L518.2,698.4 L649.3,704.6 M518.2,831.4 L518.2,698.4 M645.6,845.0 L649.3,704.6" fill="none" stroke="#9a9a9a" stroke-width="1.15"/>
<line x1="460.2" y1="875.0" x2="454.7" y2="718.8" stroke="#111" stroke-width="1.2"/>
<text x="454.7" y="878.5" font-size="10.20" text-anchor="end" font-weight="normal" font-style="normal" fill="#141414" textLength="5.2" lengthAdjust="spacingAndGlyphs" >0</text>
<text x="454.3" y="852.2" font-size="10.20" text-anchor="end" font-weight="normal" font-style="normal" fill="#141414" textLength="10.5" lengthAdjust="spacingAndGlyphs" >20</text>
<text x="453.8" y="826.8" font-size="10.20" text-anchor="end" font-weight="normal" font-style="normal" fill="#141414" textLength="10.5" lengthAdjust="spacingAndGlyphs" >40</text>
<text x="452.3" y="802.0" font-size="10.20" text-anchor="end" font-weight="normal" font-style="normal" fill="#141414" textLength="10.5" lengthAdjust="spacingAndGlyphs" >60</text>
<text x="451.3" y="775.5" font-size="10.20" text-anchor="end" font-weight="normal" font-style="normal" fill="#141414" textLength="10.5" lengthAdjust="spacingAndGlyphs" >80</text>
<text x="450.3" y="748.9" font-size="10.20" text-anchor="end" font-weight="normal" font-style="normal" fill="#141414" textLength="15.7" lengthAdjust="spacingAndGlyphs" >100</text>
<text x="449.2" y="722.3" font-size="10.20" text-anchor="end" font-weight="normal" font-style="normal" fill="#141414" textLength="15.7" lengthAdjust="spacingAndGlyphs" >120</text>
<path d="M471.8,875.6 L499.0,854.5 L527.2,833.0 L537.3,832.0 L550.7,828.6 L555.0,826.2 L562.0,822.5 L569.0,818.0 L580.0,808.0 L592.4,797.0 L602.0,785.5 L612.1,774.0 L620.0,762.5 L627.3,751.2 L634.5,740.0 L641.5,728.5 L649.1,715.2 L649.1,715.2 L644.6,732.3 L636.5,762.6 L627.7,795.5 L618.5,830.3 L608.9,866.5 L607.6,871.2 L607.6,871.2 L590.0,874.5 L568.4,877.0 L555.0,878.2 L535.0,878.9 L517.2,879.0 L495.0,877.8 L471.8,875.6 Z" fill="#5c60b4"/>
<path d="M569.0,818.0 L580.0,808.0 L592.4,797.0 L602.0,785.5 L612.1,774.0 L620.0,762.5 L627.3,751.2 L634.5,740.0 L641.5,728.5 L649.1,715.2 L644.6,732.3 L636.5,762.6 L627.7,795.5 L618.5,830.3 L608.5,866.5 L599.0,863.5 L590.0,860.0 L581.0,855.8 L573.7,850.7 L569.5,845.8 L566.7,840.2 L565.2,835.5 L564.9,830.9 L566.5,823.5 L569.0,818.0Z" fill="#a4dfe9"/>
<path d="M592.4,797.0 L602.0,785.5 L612.1,774.0 L620.0,762.5 L627.3,751.2 L634.5,740.0 L641.5,728.5 L649.1,715.2 L644.6,732.3 L636.5,762.6 L627.7,795.5 L618.1,830.3 L612.5,827.3 L607.6,823.9 L603.0,820.8 L599.4,816.9 L595.5,811.5 L593.0,805.2 L592.4,801.0 L592.4,797.0Z" fill="#85c92a"/>
<path d="M612.1,774.0 L620.0,762.5 L627.3,751.2 L634.5,740.0 L641.5,728.5 L649.1,715.2 L644.6,732.3 L636.5,762.6 L627.7,795.5 L618.0,791.5 L612.6,785.4 L611.4,780.0 L612.1,774.0Z" fill="#f6e33e"/>
<path d="M627.3,751.2 L634.5,740.0 L641.5,728.5 L649.1,715.2 L644.6,732.3 L636.5,762.6 L630.0,757.5 L627.3,751.2Z" fill="#f29b2f"/>
<path d="M641.5,728.5 L649.1,715.2 L644.5,732.3 L641.5,728.5Z" fill="#dc3628"/>
<path d="M518.2,831.4 L645.6,845 M518.2,810.2 L646.3,823 M518.2,788.8 L647,800.3 M518.2,766.8 L647.7,776.9 M518.2,744.4 L648.3,753.1 M518.2,721.4 L648.8,729.1" stroke="#666" stroke-opacity="0.22" stroke-width="1.1" fill="none"/>
<path d="M602.6,784.5 C601.7,786.3 603.5,782.8 600.0,790.0 C596.5,797.2 597.3,795.3 592.0,806.0 C586.7,816.7 588.7,812.0 584.0,822.0 C579.3,832.0 581.7,826.3 578.0,836.0 C574.3,845.7 575.7,841.7 573.0,851.0 C570.3,860.3 571.5,855.5 570.0,864.0 C568.5,872.5 568.9,872.3 568.4,876.4" fill="none" stroke="#111" stroke-width="1" stroke-dasharray="3.2 2.6"/>
<path d="M460.2,875.0 L607.4,894.0 L645.7,844.9" fill="none" stroke="#111" stroke-width="1.3"/>
<path d="M460.2,875.0 l0,2.5 M478.6,877.4 l0,2.5 M497.0,879.8 l0,2.5 M515.4,882.1 l0,2.5 M533.8,884.5 l0,2.5 M552.2,886.9 l0,2.5 M570.6,889.2 l0,2.5 M589.0,891.6 l0,2.5 M607.4,894.0 l0,2.5 M607.4,894.0 l2,0 M609.0,892.0 l2,0 M610.6,889.9 l2,0 M612.2,887.9 l2,0 M613.8,885.8 l2,0 M615.4,883.8 l2,0 M617.0,881.7 l2,0 M618.6,879.7 l2,0 M620.2,877.6 l2,0 M621.8,875.6 l2,0 M623.4,873.5 l2,0 M625.0,871.5 l2,0 M626.5,869.5 l2,0 M628.1,867.4 l2,0 M629.7,865.4 l2,0 M631.3,863.3 l2,0 M632.9,861.3 l2,0 M634.5,859.2 l2,0 M636.1,857.2 l2,0 M637.7,855.1 l2,0 M639.3,853.1 l2,0 M640.9,851.0 l2,0 M642.5,849.0 l2,0 M644.1,846.9 l2,0 M645.7,844.9 l2,0" stroke="#111" stroke-width="0.9" fill="none"/>
<text x="458.8" y="889.9" font-size="10.00" text-anchor="middle" font-weight="normal" font-style="normal" fill="#141414" textLength="5.2" lengthAdjust="spacingAndGlyphs" >0</text>
<text x="477.2" y="892.1" font-size="10.00" text-anchor="middle" font-weight="normal" font-style="normal" fill="#141414" textLength="5.2" lengthAdjust="spacingAndGlyphs" >5</text>
<text x="495.6" y="894.3" font-size="10.00" text-anchor="middle" font-weight="normal" font-style="normal" fill="#141414" textLength="10.3" lengthAdjust="spacingAndGlyphs" >10</text>
<text x="514.0" y="896.5" font-size="10.00" text-anchor="middle" font-weight="normal" font-style="normal" fill="#141414" textLength="10.3" lengthAdjust="spacingAndGlyphs" >15</text>
<text x="532.4" y="898.7" font-size="10.00" text-anchor="middle" font-weight="normal" font-style="normal" fill="#141414" textLength="10.3" lengthAdjust="spacingAndGlyphs" >20</text>
<text x="550.8" y="900.9" font-size="10.00" text-anchor="middle" font-weight="normal" font-style="normal" fill="#141414" textLength="10.3" lengthAdjust="spacingAndGlyphs" >25</text>
<text x="569.2" y="903.1" font-size="10.00" text-anchor="middle" font-weight="normal" font-style="normal" fill="#141414" textLength="10.3" lengthAdjust="spacingAndGlyphs" >30</text>
<text x="587.6" y="905.3" font-size="10.00" text-anchor="middle" font-weight="normal" font-style="normal" fill="#141414" textLength="10.3" lengthAdjust="spacingAndGlyphs" >35</text>
<text x="606.0" y="907.5" font-size="10.00" text-anchor="middle" font-weight="normal" font-style="normal" fill="#141414" textLength="10.3" lengthAdjust="spacingAndGlyphs" >40</text>
<text x="616.6" y="897.9" font-size="9.00" text-anchor="start" font-weight="normal" font-style="normal" fill="#141414" textLength="14.2" lengthAdjust="spacingAndGlyphs" >100</text>
<text x="623.4" y="888.0" font-size="9.00" text-anchor="start" font-weight="normal" font-style="normal" fill="#141414" textLength="14.2" lengthAdjust="spacingAndGlyphs" >200</text>
<text x="631.1" y="878.3" font-size="9.00" text-anchor="start" font-weight="normal" font-style="normal" fill="#141414" textLength="14.2" lengthAdjust="spacingAndGlyphs" >300</text>
<text x="638.9" y="868.8" font-size="9.00" text-anchor="start" font-weight="normal" font-style="normal" fill="#141414" textLength="14.2" lengthAdjust="spacingAndGlyphs" >400</text>
<text x="646.3" y="859.5" font-size="9.00" text-anchor="start" font-weight="normal" font-style="normal" fill="#141414" textLength="14.2" lengthAdjust="spacingAndGlyphs" >500</text>
<text x="651.9" y="851.0" font-size="9.00" text-anchor="start" font-weight="normal" font-style="normal" fill="#141414" textLength="14.2" lengthAdjust="spacingAndGlyphs" >580</text>
<text x="0" y="0" transform="translate(480.8 906.0) skewY(7.9)" font-size="9.60" text-anchor="start" font-weight="normal" font-style="normal" fill="#141414" textLength="86.5" lengthAdjust="spacingAndGlyphs" >Fibre Diameter (µm)</text>
<text x="0" y="0" transform="translate(639.1 913.2) rotate(-52.0)" font-size="9.60" text-anchor="start" font-weight="normal" font-style="italic" fill="#141414" textLength="75.0" lengthAdjust="spacingAndGlyphs" >Fibre Length (µm)</text>
<text x="0" y="0" transform="translate(426.4 878.1) rotate(-91.3)" font-size="10.00" text-anchor="start" font-weight="normal" font-style="normal" fill="#141414" textLength="151.5" lengthAdjust="spacingAndGlyphs" >T-tubule Surface Area x1000 (µm<tspan font-size="6" dy="-3.5">2</tspan><tspan dy="3.5">)</tspan></text>
<text x="339.4" y="757.5" font-size="8.80" text-anchor="start" font-weight="normal" font-style="normal" fill="#141414" textLength="42.5" lengthAdjust="spacingAndGlyphs" >x1000 µm<tspan font-size="6.2" dy="-3.8">2</tspan></text>
<rect x="328" y="763.7" width="9" height="8.7" fill="#de2f21"/>
<text x="341.2" y="771.3" font-size="8.90" text-anchor="start" font-weight="normal" font-style="normal" fill="#141414" textLength="35.0" lengthAdjust="spacingAndGlyphs" >100–120</text>
<rect x="328" y="778.6" width="9" height="8.7" fill="#ef7f4b"/>
<text x="341.2" y="786.2" font-size="8.90" text-anchor="start" font-weight="normal" font-style="normal" fill="#141414" textLength="29.8" lengthAdjust="spacingAndGlyphs" >80–100</text>
<rect x="328" y="793.5" width="9" height="8.7" fill="#f8e64e"/>
<text x="341.2" y="801.1" font-size="8.90" text-anchor="start" font-weight="normal" font-style="normal" fill="#141414" textLength="25.0" lengthAdjust="spacingAndGlyphs" >60–80</text>
<rect x="328" y="808.4" width="9" height="8.7" fill="#88c83b"/>
<text x="341.2" y="816.0" font-size="8.90" text-anchor="start" font-weight="normal" font-style="normal" fill="#141414" textLength="25.0" lengthAdjust="spacingAndGlyphs" >40–60</text>
<rect x="328" y="823.3" width="9" height="8.7" fill="#b1e5ee"/>
<text x="341.2" y="830.9" font-size="8.90" text-anchor="start" font-weight="normal" font-style="normal" fill="#141414" textLength="25.0" lengthAdjust="spacingAndGlyphs" >20–40</text>
<rect x="328" y="838.2" width="9" height="8.7" fill="#6b70bc"/>
<text x="341.2" y="845.8" font-size="8.90" text-anchor="start" font-weight="normal" font-style="normal" fill="#141414" textLength="20.1" lengthAdjust="spacingAndGlyphs" >0–20</text>
<line x1="288.3" y1="888.1" x2="317.2" y2="888.1" stroke="#333" stroke-width="0.9" stroke-dasharray="3 2.8"/>
<text x="322.7" y="885.5" font-size="7.20" text-anchor="start" font-weight="normal" font-style="normal" fill="#141414" textLength="71.0" lengthAdjust="spacingAndGlyphs" >Sarcolemma/T-tubule</text>
<text x="322.7" y="894.5" font-size="7.20" text-anchor="start" font-weight="normal" font-style="normal" fill="#141414" textLength="28.8" lengthAdjust="spacingAndGlyphs" >Intercept</text>
</svg></body></html>
